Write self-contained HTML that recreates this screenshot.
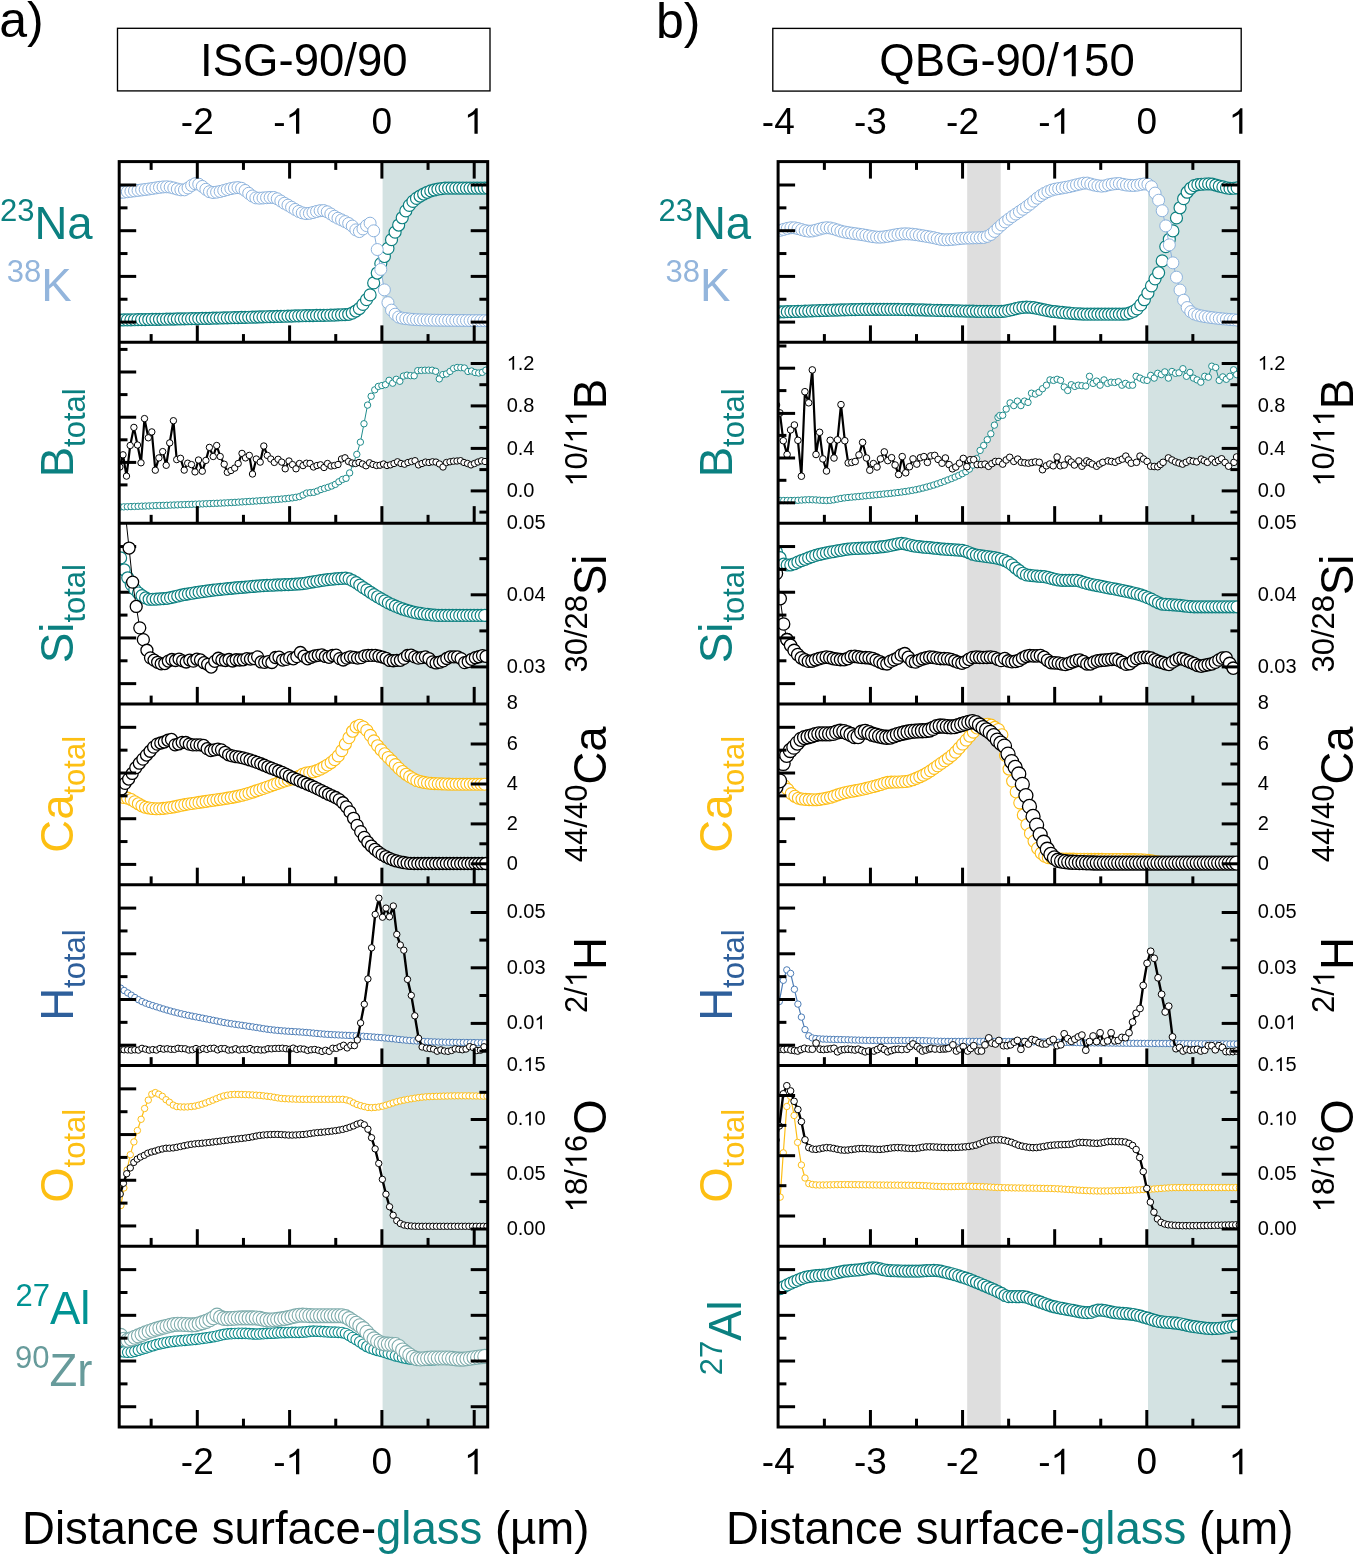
<!DOCTYPE html>
<html><head><meta charset="utf-8"><style>html,body{margin:0;padding:0;background:#fff;overflow:hidden}svg{display:block;will-change:transform}</style></head><body>
<svg width="1354" height="1554" viewBox="0 0 1354 1554" font-family='"Liberation Sans", sans-serif'>
<rect width="1354" height="1554" fill="#fff"/>
<rect x="382.6" y="161.6" width="105.1" height="1265.4" fill="#d3e2e2"/>
<rect x="1148" y="161.6" width="90.7" height="1265.4" fill="#d3e2e2"/>
<rect x="967.2" y="161.6" width="33.5" height="1265.4" fill="#dedede"/>
<defs>
<clipPath id="cA0"><rect x="119.2" y="161.6" width="368.5" height="180.77"/></clipPath>
<clipPath id="cA1"><rect x="119.2" y="342.37" width="368.5" height="180.77"/></clipPath>
<clipPath id="cA2"><rect x="119.2" y="523.14" width="368.5" height="180.77"/></clipPath>
<clipPath id="cA3"><rect x="119.2" y="703.91" width="368.5" height="180.77"/></clipPath>
<clipPath id="cA4"><rect x="119.2" y="884.69" width="368.5" height="180.77"/></clipPath>
<clipPath id="cA5"><rect x="119.2" y="1065.46" width="368.5" height="180.77"/></clipPath>
<clipPath id="cA6"><rect x="119.2" y="1246.23" width="368.5" height="180.77"/></clipPath>
<clipPath id="cB0"><rect x="778.1" y="161.6" width="460.6" height="180.77"/></clipPath>
<clipPath id="cB1"><rect x="778.1" y="342.37" width="460.6" height="180.77"/></clipPath>
<clipPath id="cB2"><rect x="778.1" y="523.14" width="460.6" height="180.77"/></clipPath>
<clipPath id="cB3"><rect x="778.1" y="703.91" width="460.6" height="180.77"/></clipPath>
<clipPath id="cB4"><rect x="778.1" y="884.69" width="460.6" height="180.77"/></clipPath>
<clipPath id="cB5"><rect x="778.1" y="1065.46" width="460.6" height="180.77"/></clipPath>
<clipPath id="cB6"><rect x="778.1" y="1246.23" width="460.6" height="180.77"/></clipPath>
</defs>
<g clip-path="url(#cA0)">
<g fill="#fff" stroke="#0d8080" stroke-width="1.2">
<circle cx="120.2" cy="320" r="6"/>
<circle cx="123.77" cy="319.95" r="6"/>
<circle cx="127.34" cy="319.88" r="6"/>
<circle cx="130.91" cy="319.82" r="6"/>
<circle cx="134.48" cy="319.75" r="6"/>
<circle cx="138.05" cy="319.69" r="6"/>
<circle cx="141.62" cy="319.62" r="6"/>
<circle cx="145.19" cy="319.56" r="6"/>
<circle cx="148.76" cy="319.49" r="6"/>
<circle cx="152.33" cy="319.43" r="6"/>
<circle cx="155.9" cy="319.36" r="6"/>
<circle cx="159.47" cy="319.3" r="6"/>
<circle cx="163.04" cy="319.23" r="6"/>
<circle cx="166.61" cy="319.17" r="6"/>
<circle cx="170.18" cy="319.1" r="6"/>
<circle cx="173.75" cy="319.04" r="6"/>
<circle cx="177.32" cy="318.97" r="6"/>
<circle cx="180.89" cy="318.9" r="6"/>
<circle cx="184.46" cy="318.83" r="6"/>
<circle cx="188.03" cy="318.75" r="6"/>
<circle cx="191.6" cy="318.68" r="6"/>
<circle cx="195.17" cy="318.61" r="6"/>
<circle cx="198.74" cy="318.53" r="6"/>
<circle cx="202.31" cy="318.45" r="6"/>
<circle cx="205.88" cy="318.37" r="6"/>
<circle cx="209.45" cy="318.28" r="6"/>
<circle cx="213.02" cy="318.2" r="6"/>
<circle cx="216.59" cy="318.11" r="6"/>
<circle cx="220.16" cy="318.02" r="6"/>
<circle cx="223.73" cy="317.93" r="6"/>
<circle cx="227.3" cy="317.84" r="6"/>
<circle cx="230.87" cy="317.75" r="6"/>
<circle cx="234.44" cy="317.65" r="6"/>
<circle cx="238.01" cy="317.56" r="6"/>
<circle cx="241.58" cy="317.46" r="6"/>
<circle cx="245.15" cy="317.36" r="6"/>
<circle cx="248.72" cy="317.26" r="6"/>
<circle cx="252.29" cy="317.16" r="6"/>
<circle cx="255.86" cy="317.06" r="6"/>
<circle cx="259.43" cy="316.96" r="6"/>
<circle cx="263" cy="316.86" r="6"/>
<circle cx="266.57" cy="316.76" r="6"/>
<circle cx="270.14" cy="316.66" r="6"/>
<circle cx="273.71" cy="316.55" r="6"/>
<circle cx="277.28" cy="316.45" r="6"/>
<circle cx="280.85" cy="316.35" r="6"/>
<circle cx="284.42" cy="316.24" r="6"/>
<circle cx="287.99" cy="316.14" r="6"/>
<circle cx="291.56" cy="316.04" r="6"/>
<circle cx="295.13" cy="315.94" r="6"/>
<circle cx="298.7" cy="315.84" r="6"/>
<circle cx="302.27" cy="315.74" r="6"/>
<circle cx="305.84" cy="315.66" r="6"/>
<circle cx="309.41" cy="315.59" r="6"/>
<circle cx="312.98" cy="315.53" r="6"/>
<circle cx="316.55" cy="315.47" r="6"/>
<circle cx="320.12" cy="315.41" r="6"/>
<circle cx="323.69" cy="315.34" r="6"/>
<circle cx="327.26" cy="315.26" r="6"/>
<circle cx="330.83" cy="315.17" r="6"/>
<circle cx="334.4" cy="315.06" r="6"/>
<circle cx="337.97" cy="314.92" r="6"/>
<circle cx="341.54" cy="314.76" r="6"/>
<circle cx="345.11" cy="314.57" r="6"/>
<circle cx="348.68" cy="314.28" r="6"/>
<circle cx="352.25" cy="313.09" r="6"/>
<circle cx="355.82" cy="311.03" r="6"/>
<circle cx="359.39" cy="308.5" r="6"/>
<circle cx="362.96" cy="304.41" r="6"/>
<circle cx="366.53" cy="299.65" r="6"/>
<circle cx="370.1" cy="294.9" r="6"/>
<circle cx="373.67" cy="282.88" r="6"/>
<circle cx="377.24" cy="273.04" r="6"/>
<circle cx="380.81" cy="263.55" r="6"/>
<circle cx="384.38" cy="256.5" r="6"/>
<circle cx="387.95" cy="248.41" r="6"/>
<circle cx="391.52" cy="239.68" r="6"/>
<circle cx="395.09" cy="232.15" r="6"/>
<circle cx="398.66" cy="225.04" r="6"/>
<circle cx="402.23" cy="217.76" r="6"/>
<circle cx="405.8" cy="210.88" r="6"/>
<circle cx="409.37" cy="205.36" r="6"/>
<circle cx="412.94" cy="201.42" r="6"/>
<circle cx="416.51" cy="198.38" r="6"/>
<circle cx="420.08" cy="196.04" r="6"/>
<circle cx="423.65" cy="194.02" r="6"/>
<circle cx="427.22" cy="192.28" r="6"/>
<circle cx="430.79" cy="190.89" r="6"/>
<circle cx="434.36" cy="189.96" r="6"/>
<circle cx="437.93" cy="189.2" r="6"/>
<circle cx="441.5" cy="188.57" r="6"/>
<circle cx="445.07" cy="188.18" r="6"/>
<circle cx="448.64" cy="188.1" r="6"/>
<circle cx="452.21" cy="188.1" r="6"/>
<circle cx="455.78" cy="188.1" r="6"/>
<circle cx="459.35" cy="188.1" r="6"/>
<circle cx="462.92" cy="188.1" r="6"/>
<circle cx="466.49" cy="188.1" r="6"/>
<circle cx="470.06" cy="188.1" r="6"/>
<circle cx="473.63" cy="188.1" r="6"/>
<circle cx="477.2" cy="188.1" r="6"/>
<circle cx="480.77" cy="188.1" r="6"/>
<circle cx="484.34" cy="188.1" r="6"/>
<circle cx="487.91" cy="188.1" r="6"/>
</g>
<polyline fill="none" stroke="#8db3dd" stroke-width="1" stroke-linejoin="round" points="120.2,192.5 123.77,192.21 127.34,191.76 130.91,191.3 134.48,190.85 138.05,190.39 141.62,189.94 145.19,189.49 148.76,189.03 152.33,188.49 155.9,187.91 159.47,187.37 163.04,186.98 166.61,186.8 170.18,187.12 173.75,188 177.32,189.04 180.89,189.82 184.46,189.83 188.03,188.01 191.6,185.44 195.17,183.71 198.74,184.18 202.31,186.41 205.88,189.29 209.45,191.68 213.02,192.49 216.59,192.17 220.16,191.47 223.73,190.55 227.3,189.54 230.87,188.62 234.44,187.92 238.01,187.61 241.58,188.31 245.15,190.46 248.72,193.28 252.29,196.01 255.86,197.85 259.43,198.18 263,197.98 266.57,197.7 270.14,197.46 273.71,197.49 277.28,198.8 280.85,201.01 284.42,203.28 287.99,205.15 291.56,207.26 295.13,209.43 298.7,211.38 302.27,212.85 305.84,213.57 309.41,213.36 312.98,212.52 316.55,211.49 320.12,210.69 323.69,210.6 327.26,211.84 330.83,213.97 334.4,216.31 337.97,218.22 341.54,219.89 345.11,221.59 348.68,223.49 352.25,226.07 355.82,229.87 359.39,231.56 362.96,228.95 366.53,225.59 370.1,223.2 373.67,230.81 377.24,249.54 380.81,269.43 384.38,289.89 387.95,302.65 391.52,310.15 395.09,314.23 398.66,317.02 402.23,318.11 405.8,318.63 409.37,319.04 412.94,319.37 416.51,319.62 420.08,319.8 423.65,319.93 427.22,320.02 430.79,320.09 434.36,320.16 437.93,320.22 441.5,320.27 445.07,320.31 448.64,320.35 452.21,320.39 455.78,320.42 459.35,320.45 462.92,320.48 466.49,320.51 470.06,320.54 473.63,320.57 477.2,320.59 480.77,320.63 484.34,320.66 487.91,320.7"/>
<g fill="#fff" stroke="#8db3dd" stroke-width="1">
<circle cx="120.2" cy="192.5" r="6"/>
<circle cx="123.77" cy="192.21" r="6"/>
<circle cx="127.34" cy="191.76" r="6"/>
<circle cx="130.91" cy="191.3" r="6"/>
<circle cx="134.48" cy="190.85" r="6"/>
<circle cx="138.05" cy="190.39" r="6"/>
<circle cx="141.62" cy="189.94" r="6"/>
<circle cx="145.19" cy="189.49" r="6"/>
<circle cx="148.76" cy="189.03" r="6"/>
<circle cx="152.33" cy="188.49" r="6"/>
<circle cx="155.9" cy="187.91" r="6"/>
<circle cx="159.47" cy="187.37" r="6"/>
<circle cx="163.04" cy="186.98" r="6"/>
<circle cx="166.61" cy="186.8" r="6"/>
<circle cx="170.18" cy="187.12" r="6"/>
<circle cx="173.75" cy="188" r="6"/>
<circle cx="177.32" cy="189.04" r="6"/>
<circle cx="180.89" cy="189.82" r="6"/>
<circle cx="184.46" cy="189.83" r="6"/>
<circle cx="188.03" cy="188.01" r="6"/>
<circle cx="191.6" cy="185.44" r="6"/>
<circle cx="195.17" cy="183.71" r="6"/>
<circle cx="198.74" cy="184.18" r="6"/>
<circle cx="202.31" cy="186.41" r="6"/>
<circle cx="205.88" cy="189.29" r="6"/>
<circle cx="209.45" cy="191.68" r="6"/>
<circle cx="213.02" cy="192.49" r="6"/>
<circle cx="216.59" cy="192.17" r="6"/>
<circle cx="220.16" cy="191.47" r="6"/>
<circle cx="223.73" cy="190.55" r="6"/>
<circle cx="227.3" cy="189.54" r="6"/>
<circle cx="230.87" cy="188.62" r="6"/>
<circle cx="234.44" cy="187.92" r="6"/>
<circle cx="238.01" cy="187.61" r="6"/>
<circle cx="241.58" cy="188.31" r="6"/>
<circle cx="245.15" cy="190.46" r="6"/>
<circle cx="248.72" cy="193.28" r="6"/>
<circle cx="252.29" cy="196.01" r="6"/>
<circle cx="255.86" cy="197.85" r="6"/>
<circle cx="259.43" cy="198.18" r="6"/>
<circle cx="263" cy="197.98" r="6"/>
<circle cx="266.57" cy="197.7" r="6"/>
<circle cx="270.14" cy="197.46" r="6"/>
<circle cx="273.71" cy="197.49" r="6"/>
<circle cx="277.28" cy="198.8" r="6"/>
<circle cx="280.85" cy="201.01" r="6"/>
<circle cx="284.42" cy="203.28" r="6"/>
<circle cx="287.99" cy="205.15" r="6"/>
<circle cx="291.56" cy="207.26" r="6"/>
<circle cx="295.13" cy="209.43" r="6"/>
<circle cx="298.7" cy="211.38" r="6"/>
<circle cx="302.27" cy="212.85" r="6"/>
<circle cx="305.84" cy="213.57" r="6"/>
<circle cx="309.41" cy="213.36" r="6"/>
<circle cx="312.98" cy="212.52" r="6"/>
<circle cx="316.55" cy="211.49" r="6"/>
<circle cx="320.12" cy="210.69" r="6"/>
<circle cx="323.69" cy="210.6" r="6"/>
<circle cx="327.26" cy="211.84" r="6"/>
<circle cx="330.83" cy="213.97" r="6"/>
<circle cx="334.4" cy="216.31" r="6"/>
<circle cx="337.97" cy="218.22" r="6"/>
<circle cx="341.54" cy="219.89" r="6"/>
<circle cx="345.11" cy="221.59" r="6"/>
<circle cx="348.68" cy="223.49" r="6"/>
<circle cx="352.25" cy="226.07" r="6"/>
<circle cx="355.82" cy="229.87" r="6"/>
<circle cx="359.39" cy="231.56" r="6"/>
<circle cx="362.96" cy="228.95" r="6"/>
<circle cx="366.53" cy="225.59" r="6"/>
<circle cx="370.1" cy="223.2" r="6"/>
<circle cx="373.67" cy="230.81" r="6"/>
<circle cx="377.24" cy="249.54" r="6"/>
<circle cx="380.81" cy="269.43" r="6"/>
<circle cx="384.38" cy="289.89" r="6"/>
<circle cx="387.95" cy="302.65" r="6"/>
<circle cx="391.52" cy="310.15" r="6"/>
<circle cx="395.09" cy="314.23" r="6"/>
<circle cx="398.66" cy="317.02" r="6"/>
<circle cx="402.23" cy="318.11" r="6"/>
<circle cx="405.8" cy="318.63" r="6"/>
<circle cx="409.37" cy="319.04" r="6"/>
<circle cx="412.94" cy="319.37" r="6"/>
<circle cx="416.51" cy="319.62" r="6"/>
<circle cx="420.08" cy="319.8" r="6"/>
<circle cx="423.65" cy="319.93" r="6"/>
<circle cx="427.22" cy="320.02" r="6"/>
<circle cx="430.79" cy="320.09" r="6"/>
<circle cx="434.36" cy="320.16" r="6"/>
<circle cx="437.93" cy="320.22" r="6"/>
<circle cx="441.5" cy="320.27" r="6"/>
<circle cx="445.07" cy="320.31" r="6"/>
<circle cx="448.64" cy="320.35" r="6"/>
<circle cx="452.21" cy="320.39" r="6"/>
<circle cx="455.78" cy="320.42" r="6"/>
<circle cx="459.35" cy="320.45" r="6"/>
<circle cx="462.92" cy="320.48" r="6"/>
<circle cx="466.49" cy="320.51" r="6"/>
<circle cx="470.06" cy="320.54" r="6"/>
<circle cx="473.63" cy="320.57" r="6"/>
<circle cx="477.2" cy="320.59" r="6"/>
<circle cx="480.77" cy="320.63" r="6"/>
<circle cx="484.34" cy="320.66" r="6"/>
<circle cx="487.91" cy="320.7" r="6"/>
</g>
</g>
<g clip-path="url(#cA1)">
<polyline fill="none" stroke="#1f8c8c" stroke-width="1" stroke-linejoin="round" points="120.2,506.99 123.78,506.86 127.37,506.72 130.95,506.59 134.54,506.45 138.12,506.32 141.71,506.18 145.3,506.05 148.88,505.92 152.47,505.78 156.05,505.65 159.64,505.51 163.22,505.38 166.81,505.25 170.39,505.12 173.98,504.99 177.56,504.86 181.15,504.73 184.73,504.6 188.32,504.46 191.9,504.32 195.49,504.18 199.07,504.04 202.66,503.89 206.24,503.74 209.83,503.59 213.41,503.44 217,503.28 220.58,503.12 224.17,502.94 227.75,502.76 231.34,502.57 234.92,502.36 238.51,502.14 242.09,501.91 245.68,501.68 249.26,501.45 252.85,501.22 256.43,500.99 260.02,500.75 263.6,500.5 267.19,500.23 270.77,499.93 274.36,499.64 277.94,499.36 281.53,499.06 285.11,498.73 288.7,498.34 292.28,497.87 295.87,497.31 299.45,496.62 303.03,495.01 306.62,493.08 310.2,492.66 313.79,492.33 317.37,491.12 320.96,489.51 324.54,488.4 328.13,487.29 331.71,486 335.3,484.39 338.88,481.76 342.47,479.45 346.05,478.33 349.64,472.92 353.22,463.7 356.81,454.37 360.39,442.14 363.98,423.76 367.56,405.1 371.15,396.26 374.73,389.86 378.32,386.42 381.9,385.55 385.49,384.64 389.07,380.32 392.66,383.19 396.24,379.3 399.83,381.28 403.41,376.08 407,375.15 410.58,375.66 414.17,375.8 417.75,370.65 421.34,370.43 424.92,370.23 428.51,370.2 432.09,370.2 435.68,371.3 439.26,378.9 442.85,374.6 446.43,373.89 450.02,371.41 453.6,368.45 457.19,367.5 460.77,367.66 464.36,368.02 467.94,371.45 471.53,371.01 475.11,372.52 478.7,373.03 482.28,372.33 485.87,370.22"/>
<g fill="#fff" stroke="#1f8c8c" stroke-width="1">
<circle cx="120.2" cy="506.99" r="3.2"/>
<circle cx="123.78" cy="506.86" r="3.2"/>
<circle cx="127.37" cy="506.72" r="3.2"/>
<circle cx="130.95" cy="506.59" r="3.2"/>
<circle cx="134.54" cy="506.45" r="3.2"/>
<circle cx="138.12" cy="506.32" r="3.2"/>
<circle cx="141.71" cy="506.18" r="3.2"/>
<circle cx="145.3" cy="506.05" r="3.2"/>
<circle cx="148.88" cy="505.92" r="3.2"/>
<circle cx="152.47" cy="505.78" r="3.2"/>
<circle cx="156.05" cy="505.65" r="3.2"/>
<circle cx="159.64" cy="505.51" r="3.2"/>
<circle cx="163.22" cy="505.38" r="3.2"/>
<circle cx="166.81" cy="505.25" r="3.2"/>
<circle cx="170.39" cy="505.12" r="3.2"/>
<circle cx="173.98" cy="504.99" r="3.2"/>
<circle cx="177.56" cy="504.86" r="3.2"/>
<circle cx="181.15" cy="504.73" r="3.2"/>
<circle cx="184.73" cy="504.6" r="3.2"/>
<circle cx="188.32" cy="504.46" r="3.2"/>
<circle cx="191.9" cy="504.32" r="3.2"/>
<circle cx="195.49" cy="504.18" r="3.2"/>
<circle cx="199.07" cy="504.04" r="3.2"/>
<circle cx="202.66" cy="503.89" r="3.2"/>
<circle cx="206.24" cy="503.74" r="3.2"/>
<circle cx="209.83" cy="503.59" r="3.2"/>
<circle cx="213.41" cy="503.44" r="3.2"/>
<circle cx="217" cy="503.28" r="3.2"/>
<circle cx="220.58" cy="503.12" r="3.2"/>
<circle cx="224.17" cy="502.94" r="3.2"/>
<circle cx="227.75" cy="502.76" r="3.2"/>
<circle cx="231.34" cy="502.57" r="3.2"/>
<circle cx="234.92" cy="502.36" r="3.2"/>
<circle cx="238.51" cy="502.14" r="3.2"/>
<circle cx="242.09" cy="501.91" r="3.2"/>
<circle cx="245.68" cy="501.68" r="3.2"/>
<circle cx="249.26" cy="501.45" r="3.2"/>
<circle cx="252.85" cy="501.22" r="3.2"/>
<circle cx="256.43" cy="500.99" r="3.2"/>
<circle cx="260.02" cy="500.75" r="3.2"/>
<circle cx="263.6" cy="500.5" r="3.2"/>
<circle cx="267.19" cy="500.23" r="3.2"/>
<circle cx="270.77" cy="499.93" r="3.2"/>
<circle cx="274.36" cy="499.64" r="3.2"/>
<circle cx="277.94" cy="499.36" r="3.2"/>
<circle cx="281.53" cy="499.06" r="3.2"/>
<circle cx="285.11" cy="498.73" r="3.2"/>
<circle cx="288.7" cy="498.34" r="3.2"/>
<circle cx="292.28" cy="497.87" r="3.2"/>
<circle cx="295.87" cy="497.31" r="3.2"/>
<circle cx="299.45" cy="496.62" r="3.2"/>
<circle cx="303.03" cy="495.01" r="3.2"/>
<circle cx="306.62" cy="493.08" r="3.2"/>
<circle cx="310.2" cy="492.66" r="3.2"/>
<circle cx="313.79" cy="492.33" r="3.2"/>
<circle cx="317.37" cy="491.12" r="3.2"/>
<circle cx="320.96" cy="489.51" r="3.2"/>
<circle cx="324.54" cy="488.4" r="3.2"/>
<circle cx="328.13" cy="487.29" r="3.2"/>
<circle cx="331.71" cy="486" r="3.2"/>
<circle cx="335.3" cy="484.39" r="3.2"/>
<circle cx="338.88" cy="481.76" r="3.2"/>
<circle cx="342.47" cy="479.45" r="3.2"/>
<circle cx="346.05" cy="478.33" r="3.2"/>
<circle cx="349.64" cy="472.92" r="3.2"/>
<circle cx="353.22" cy="463.7" r="3.2"/>
<circle cx="356.81" cy="454.37" r="3.2"/>
<circle cx="360.39" cy="442.14" r="3.2"/>
<circle cx="363.98" cy="423.76" r="3.2"/>
<circle cx="367.56" cy="405.1" r="3.2"/>
<circle cx="371.15" cy="396.26" r="3.2"/>
<circle cx="374.73" cy="389.86" r="3.2"/>
<circle cx="378.32" cy="386.42" r="3.2"/>
<circle cx="381.9" cy="385.55" r="3.2"/>
<circle cx="385.49" cy="384.64" r="3.2"/>
<circle cx="389.07" cy="380.32" r="3.2"/>
<circle cx="392.66" cy="383.19" r="3.2"/>
<circle cx="396.24" cy="379.3" r="3.2"/>
<circle cx="399.83" cy="381.28" r="3.2"/>
<circle cx="403.41" cy="376.08" r="3.2"/>
<circle cx="407" cy="375.15" r="3.2"/>
<circle cx="410.58" cy="375.66" r="3.2"/>
<circle cx="414.17" cy="375.8" r="3.2"/>
<circle cx="417.75" cy="370.65" r="3.2"/>
<circle cx="421.34" cy="370.43" r="3.2"/>
<circle cx="424.92" cy="370.23" r="3.2"/>
<circle cx="428.51" cy="370.2" r="3.2"/>
<circle cx="432.09" cy="370.2" r="3.2"/>
<circle cx="435.68" cy="371.3" r="3.2"/>
<circle cx="439.26" cy="378.9" r="3.2"/>
<circle cx="442.85" cy="374.6" r="3.2"/>
<circle cx="446.43" cy="373.89" r="3.2"/>
<circle cx="450.02" cy="371.41" r="3.2"/>
<circle cx="453.6" cy="368.45" r="3.2"/>
<circle cx="457.19" cy="367.5" r="3.2"/>
<circle cx="460.77" cy="367.66" r="3.2"/>
<circle cx="464.36" cy="368.02" r="3.2"/>
<circle cx="467.94" cy="371.45" r="3.2"/>
<circle cx="471.53" cy="371.01" r="3.2"/>
<circle cx="475.11" cy="372.52" r="3.2"/>
<circle cx="478.7" cy="373.03" r="3.2"/>
<circle cx="482.28" cy="372.33" r="3.2"/>
<circle cx="485.87" cy="370.22" r="3.2"/>
</g>
<polyline fill="none" stroke="#000" stroke-width="2.2" stroke-linejoin="round" points="119.9,467 123,454.8 126.5,476.1 130.2,445.5 133.9,427.4 137.5,445 141,462.8 144.5,418.6 148.3,437.8 151.8,431.9 155.3,470.2 158.9,457.9 162.7,451.6 166.2,465.3 169.7,442.9 173.4,420.7 176.7,459.6 180.5,458.3 184.2,470.1 187.7,463.2 191.5,464.6 195,471.9 198.5,460 202.3,471.2 205.9,460.4 209.4,447.4 213.2,456.5 216.7,445.5 220.2,456.5 224.2,464.2 227.3,472.3 231,470.5 234.7,468.1 238.2,463.5 242,453.4 245.5,457.9 249.3,455.4 252.5,474 256.3,459 260.2,462.1 263.8,446 267.3,455.4 270.8,459 274.3,462.4 278.1,459.3 281.7,462.1 285.2,468.8 289,461 292.5,464.6 296,468.8 299.5,463.5 303,465.6 306.5,463.2 310,463.4 313.5,467 317,465.5 320.5,464.8 324,467.5 327.5,463.5 331,466 334.5,465.5 338,464.5 341.5,459 345,457.8 348.5,461.5 352,463 355.5,463.5 359,462.5 362.5,464 366,465.8 369.5,462.8 373,464.5 376.5,465.5 380,465.2 383.5,464 387,465.5 390.5,464.8 394,463.5 397.5,461.8 401,463.5 404.5,464.2 408,462.5 411.5,461.5 415,460.7 418.5,464.9 422,463.5 425.5,462.1 429,462.5 432.5,461.8 436,462.1 439.5,464 443,467 446.5,462.5 450,461.8 453.5,461.2 457,461 460.5,460.7 464,462.5 467.5,463.5 471,464.9 474.5,463.5 478,462 481.5,460.8 485,461.5"/>
<g fill="#fff" stroke="#000" stroke-width="1">
<circle cx="119.9" cy="467" r="3.2"/>
<circle cx="123" cy="454.8" r="3.2"/>
<circle cx="126.5" cy="476.1" r="3.2"/>
<circle cx="130.2" cy="445.5" r="3.2"/>
<circle cx="133.9" cy="427.4" r="3.2"/>
<circle cx="137.5" cy="445" r="3.2"/>
<circle cx="141" cy="462.8" r="3.2"/>
<circle cx="144.5" cy="418.6" r="3.2"/>
<circle cx="148.3" cy="437.8" r="3.2"/>
<circle cx="151.8" cy="431.9" r="3.2"/>
<circle cx="155.3" cy="470.2" r="3.2"/>
<circle cx="158.9" cy="457.9" r="3.2"/>
<circle cx="162.7" cy="451.6" r="3.2"/>
<circle cx="166.2" cy="465.3" r="3.2"/>
<circle cx="169.7" cy="442.9" r="3.2"/>
<circle cx="173.4" cy="420.7" r="3.2"/>
<circle cx="176.7" cy="459.6" r="3.2"/>
<circle cx="180.5" cy="458.3" r="3.2"/>
<circle cx="184.2" cy="470.1" r="3.2"/>
<circle cx="187.7" cy="463.2" r="3.2"/>
<circle cx="191.5" cy="464.6" r="3.2"/>
<circle cx="195" cy="471.9" r="3.2"/>
<circle cx="198.5" cy="460" r="3.2"/>
<circle cx="202.3" cy="471.2" r="3.2"/>
<circle cx="205.9" cy="460.4" r="3.2"/>
<circle cx="209.4" cy="447.4" r="3.2"/>
<circle cx="213.2" cy="456.5" r="3.2"/>
<circle cx="216.7" cy="445.5" r="3.2"/>
<circle cx="220.2" cy="456.5" r="3.2"/>
<circle cx="224.2" cy="464.2" r="3.2"/>
<circle cx="227.3" cy="472.3" r="3.2"/>
<circle cx="231" cy="470.5" r="3.2"/>
<circle cx="234.7" cy="468.1" r="3.2"/>
<circle cx="238.2" cy="463.5" r="3.2"/>
<circle cx="242" cy="453.4" r="3.2"/>
<circle cx="245.5" cy="457.9" r="3.2"/>
<circle cx="249.3" cy="455.4" r="3.2"/>
<circle cx="252.5" cy="474" r="3.2"/>
<circle cx="256.3" cy="459" r="3.2"/>
<circle cx="260.2" cy="462.1" r="3.2"/>
<circle cx="263.8" cy="446" r="3.2"/>
<circle cx="267.3" cy="455.4" r="3.2"/>
<circle cx="270.8" cy="459" r="3.2"/>
<circle cx="274.3" cy="462.4" r="3.2"/>
<circle cx="278.1" cy="459.3" r="3.2"/>
<circle cx="281.7" cy="462.1" r="3.2"/>
<circle cx="285.2" cy="468.8" r="3.2"/>
<circle cx="289" cy="461" r="3.2"/>
<circle cx="292.5" cy="464.6" r="3.2"/>
<circle cx="296" cy="468.8" r="3.2"/>
<circle cx="299.5" cy="463.5" r="3.2"/>
<circle cx="303" cy="465.6" r="3.2"/>
<circle cx="306.5" cy="463.2" r="3.2"/>
<circle cx="310" cy="463.4" r="3.2"/>
<circle cx="313.5" cy="467" r="3.2"/>
<circle cx="317" cy="465.5" r="3.2"/>
<circle cx="320.5" cy="464.8" r="3.2"/>
<circle cx="324" cy="467.5" r="3.2"/>
<circle cx="327.5" cy="463.5" r="3.2"/>
<circle cx="331" cy="466" r="3.2"/>
<circle cx="334.5" cy="465.5" r="3.2"/>
<circle cx="338" cy="464.5" r="3.2"/>
<circle cx="341.5" cy="459" r="3.2"/>
<circle cx="345" cy="457.8" r="3.2"/>
<circle cx="348.5" cy="461.5" r="3.2"/>
<circle cx="352" cy="463" r="3.2"/>
<circle cx="355.5" cy="463.5" r="3.2"/>
<circle cx="359" cy="462.5" r="3.2"/>
<circle cx="362.5" cy="464" r="3.2"/>
<circle cx="366" cy="465.8" r="3.2"/>
<circle cx="369.5" cy="462.8" r="3.2"/>
<circle cx="373" cy="464.5" r="3.2"/>
<circle cx="376.5" cy="465.5" r="3.2"/>
<circle cx="380" cy="465.2" r="3.2"/>
<circle cx="383.5" cy="464" r="3.2"/>
<circle cx="387" cy="465.5" r="3.2"/>
<circle cx="390.5" cy="464.8" r="3.2"/>
<circle cx="394" cy="463.5" r="3.2"/>
<circle cx="397.5" cy="461.8" r="3.2"/>
<circle cx="401" cy="463.5" r="3.2"/>
<circle cx="404.5" cy="464.2" r="3.2"/>
<circle cx="408" cy="462.5" r="3.2"/>
<circle cx="411.5" cy="461.5" r="3.2"/>
<circle cx="415" cy="460.7" r="3.2"/>
<circle cx="418.5" cy="464.9" r="3.2"/>
<circle cx="422" cy="463.5" r="3.2"/>
<circle cx="425.5" cy="462.1" r="3.2"/>
<circle cx="429" cy="462.5" r="3.2"/>
<circle cx="432.5" cy="461.8" r="3.2"/>
<circle cx="436" cy="462.1" r="3.2"/>
<circle cx="439.5" cy="464" r="3.2"/>
<circle cx="443" cy="467" r="3.2"/>
<circle cx="446.5" cy="462.5" r="3.2"/>
<circle cx="450" cy="461.8" r="3.2"/>
<circle cx="453.5" cy="461.2" r="3.2"/>
<circle cx="457" cy="461" r="3.2"/>
<circle cx="460.5" cy="460.7" r="3.2"/>
<circle cx="464" cy="462.5" r="3.2"/>
<circle cx="467.5" cy="463.5" r="3.2"/>
<circle cx="471" cy="464.9" r="3.2"/>
<circle cx="474.5" cy="463.5" r="3.2"/>
<circle cx="478" cy="462" r="3.2"/>
<circle cx="481.5" cy="460.8" r="3.2"/>
<circle cx="485" cy="461.5" r="3.2"/>
</g>
</g>
<g clip-path="url(#cA3)">
<g fill="#fff" stroke="#fdbe18" stroke-width="1.1">
<circle cx="120.5" cy="794" r="6"/>
<circle cx="124.07" cy="797.54" r="6"/>
<circle cx="127.64" cy="798.14" r="6"/>
<circle cx="131.21" cy="799.52" r="6"/>
<circle cx="134.78" cy="801.7" r="6"/>
<circle cx="138.35" cy="803.75" r="6"/>
<circle cx="141.92" cy="805.85" r="6"/>
<circle cx="145.49" cy="807.31" r="6"/>
<circle cx="149.06" cy="808" r="6"/>
<circle cx="152.63" cy="808.53" r="6"/>
<circle cx="156.2" cy="808.79" r="6"/>
<circle cx="159.77" cy="808.72" r="6"/>
<circle cx="163.34" cy="808.42" r="6"/>
<circle cx="166.91" cy="807.98" r="6"/>
<circle cx="170.48" cy="807.48" r="6"/>
<circle cx="174.05" cy="806.91" r="6"/>
<circle cx="177.62" cy="806.14" r="6"/>
<circle cx="181.19" cy="805.32" r="6"/>
<circle cx="184.76" cy="804.58" r="6"/>
<circle cx="188.33" cy="803.99" r="6"/>
<circle cx="191.9" cy="803.45" r="6"/>
<circle cx="195.47" cy="802.94" r="6"/>
<circle cx="199.04" cy="802.42" r="6"/>
<circle cx="202.61" cy="801.89" r="6"/>
<circle cx="206.18" cy="801.35" r="6"/>
<circle cx="209.75" cy="800.82" r="6"/>
<circle cx="213.32" cy="800.28" r="6"/>
<circle cx="216.89" cy="799.76" r="6"/>
<circle cx="220.46" cy="799.26" r="6"/>
<circle cx="224.03" cy="798.73" r="6"/>
<circle cx="227.6" cy="798.15" r="6"/>
<circle cx="231.17" cy="797.52" r="6"/>
<circle cx="234.74" cy="796.83" r="6"/>
<circle cx="238.31" cy="796.09" r="6"/>
<circle cx="241.88" cy="795.26" r="6"/>
<circle cx="245.45" cy="794.3" r="6"/>
<circle cx="249.02" cy="793.22" r="6"/>
<circle cx="252.59" cy="792.08" r="6"/>
<circle cx="256.16" cy="790.92" r="6"/>
<circle cx="259.73" cy="789.71" r="6"/>
<circle cx="263.3" cy="788.46" r="6"/>
<circle cx="266.87" cy="787.19" r="6"/>
<circle cx="270.44" cy="785.94" r="6"/>
<circle cx="274.01" cy="784.66" r="6"/>
<circle cx="277.58" cy="783.39" r="6"/>
<circle cx="281.15" cy="782.15" r="6"/>
<circle cx="284.72" cy="780.99" r="6"/>
<circle cx="288.29" cy="779.99" r="6"/>
<circle cx="291.86" cy="779.02" r="6"/>
<circle cx="295.43" cy="777.92" r="6"/>
<circle cx="299" cy="776.42" r="6"/>
<circle cx="302.57" cy="774.28" r="6"/>
<circle cx="306.14" cy="773.06" r="6"/>
<circle cx="309.71" cy="772.45" r="6"/>
<circle cx="313.28" cy="771.79" r="6"/>
<circle cx="316.85" cy="770.65" r="6"/>
<circle cx="320.42" cy="769.07" r="6"/>
<circle cx="323.99" cy="767.13" r="6"/>
<circle cx="327.56" cy="764.95" r="6"/>
<circle cx="331.13" cy="762.51" r="6"/>
<circle cx="334.7" cy="759.57" r="6"/>
<circle cx="338.27" cy="755.92" r="6"/>
<circle cx="341.84" cy="750.66" r="6"/>
<circle cx="345.41" cy="744.01" r="6"/>
<circle cx="348.98" cy="737.72" r="6"/>
<circle cx="352.55" cy="731.25" r="6"/>
<circle cx="356.12" cy="726.91" r="6"/>
<circle cx="359.69" cy="725.3" r="6"/>
<circle cx="363.26" cy="727.05" r="6"/>
<circle cx="366.83" cy="730.44" r="6"/>
<circle cx="370.4" cy="735.38" r="6"/>
<circle cx="373.97" cy="740.85" r="6"/>
<circle cx="377.54" cy="745.73" r="6"/>
<circle cx="381.11" cy="749.92" r="6"/>
<circle cx="384.68" cy="753.81" r="6"/>
<circle cx="388.25" cy="757.43" r="6"/>
<circle cx="391.82" cy="760.92" r="6"/>
<circle cx="395.39" cy="764.61" r="6"/>
<circle cx="398.96" cy="768.32" r="6"/>
<circle cx="402.53" cy="771.48" r="6"/>
<circle cx="406.1" cy="774.25" r="6"/>
<circle cx="409.67" cy="776.6" r="6"/>
<circle cx="413.24" cy="778.74" r="6"/>
<circle cx="416.81" cy="780.56" r="6"/>
<circle cx="420.38" cy="781.65" r="6"/>
<circle cx="423.95" cy="782.38" r="6"/>
<circle cx="427.52" cy="782.94" r="6"/>
<circle cx="431.09" cy="783.34" r="6"/>
<circle cx="434.66" cy="783.58" r="6"/>
<circle cx="438.23" cy="783.76" r="6"/>
<circle cx="441.8" cy="783.92" r="6"/>
<circle cx="445.37" cy="784.05" r="6"/>
<circle cx="448.94" cy="784.14" r="6"/>
<circle cx="452.51" cy="784.19" r="6"/>
<circle cx="456.08" cy="784.2" r="6"/>
<circle cx="459.65" cy="784.2" r="6"/>
<circle cx="463.22" cy="784.2" r="6"/>
<circle cx="466.79" cy="784.2" r="6"/>
<circle cx="470.36" cy="784.2" r="6"/>
<circle cx="473.93" cy="784.2" r="6"/>
<circle cx="477.5" cy="784.2" r="6"/>
<circle cx="481.07" cy="784.2" r="6"/>
<circle cx="484.64" cy="784.2" r="6"/>
</g>
<g fill="#fff" stroke="#000" stroke-width="1.3">
<circle cx="121.5" cy="789" r="6"/>
<circle cx="125.07" cy="783.35" r="6"/>
<circle cx="128.64" cy="779.09" r="6"/>
<circle cx="132.21" cy="773.47" r="6"/>
<circle cx="135.78" cy="767.71" r="6"/>
<circle cx="139.35" cy="763.19" r="6"/>
<circle cx="142.92" cy="759.11" r="6"/>
<circle cx="146.49" cy="755.08" r="6"/>
<circle cx="150.06" cy="751.24" r="6"/>
<circle cx="153.63" cy="747.15" r="6"/>
<circle cx="157.2" cy="744.15" r="6"/>
<circle cx="160.77" cy="743" r="6"/>
<circle cx="164.34" cy="742.01" r="6"/>
<circle cx="167.91" cy="740.24" r="6"/>
<circle cx="171.48" cy="739.43" r="6"/>
<circle cx="175.05" cy="744.84" r="6"/>
<circle cx="178.62" cy="743.95" r="6"/>
<circle cx="182.19" cy="742.36" r="6"/>
<circle cx="185.76" cy="742.49" r="6"/>
<circle cx="189.33" cy="744.14" r="6"/>
<circle cx="192.9" cy="744.9" r="6"/>
<circle cx="196.47" cy="744.9" r="6"/>
<circle cx="200.04" cy="744.9" r="6"/>
<circle cx="203.61" cy="745.44" r="6"/>
<circle cx="207.18" cy="748.66" r="6"/>
<circle cx="210.75" cy="750.49" r="6"/>
<circle cx="214.32" cy="749.87" r="6"/>
<circle cx="217.89" cy="749.15" r="6"/>
<circle cx="221.46" cy="749.85" r="6"/>
<circle cx="225.03" cy="752.3" r="6"/>
<circle cx="228.6" cy="754.78" r="6"/>
<circle cx="232.17" cy="755.9" r="6"/>
<circle cx="235.74" cy="756.53" r="6"/>
<circle cx="239.31" cy="757.1" r="6"/>
<circle cx="242.88" cy="757.88" r="6"/>
<circle cx="246.45" cy="758.85" r="6"/>
<circle cx="250.02" cy="759.94" r="6"/>
<circle cx="253.59" cy="761.12" r="6"/>
<circle cx="257.16" cy="762.37" r="6"/>
<circle cx="260.73" cy="763.77" r="6"/>
<circle cx="264.3" cy="765.27" r="6"/>
<circle cx="267.87" cy="766.78" r="6"/>
<circle cx="271.44" cy="768.21" r="6"/>
<circle cx="275.01" cy="769.59" r="6"/>
<circle cx="278.58" cy="770.98" r="6"/>
<circle cx="282.15" cy="772.45" r="6"/>
<circle cx="285.72" cy="774.1" r="6"/>
<circle cx="289.29" cy="775.93" r="6"/>
<circle cx="292.86" cy="777.77" r="6"/>
<circle cx="296.43" cy="779.42" r="6"/>
<circle cx="300" cy="780.94" r="6"/>
<circle cx="303.57" cy="782.44" r="6"/>
<circle cx="307.14" cy="783.98" r="6"/>
<circle cx="310.71" cy="785.52" r="6"/>
<circle cx="314.28" cy="787.13" r="6"/>
<circle cx="317.85" cy="788.84" r="6"/>
<circle cx="321.42" cy="790.63" r="6"/>
<circle cx="324.99" cy="792.43" r="6"/>
<circle cx="328.56" cy="794.23" r="6"/>
<circle cx="332.13" cy="795.84" r="6"/>
<circle cx="335.7" cy="797.49" r="6"/>
<circle cx="339.27" cy="799.58" r="6"/>
<circle cx="342.84" cy="802.73" r="6"/>
<circle cx="346.41" cy="806.83" r="6"/>
<circle cx="349.98" cy="811.91" r="6"/>
<circle cx="353.55" cy="818.28" r="6"/>
<circle cx="357.12" cy="825.39" r="6"/>
<circle cx="360.69" cy="831.65" r="6"/>
<circle cx="364.26" cy="837.34" r="6"/>
<circle cx="367.83" cy="842.21" r="6"/>
<circle cx="371.4" cy="846.06" r="6"/>
<circle cx="374.97" cy="849.28" r="6"/>
<circle cx="378.54" cy="852.13" r="6"/>
<circle cx="382.11" cy="854.6" r="6"/>
<circle cx="385.68" cy="856.56" r="6"/>
<circle cx="389.25" cy="858.28" r="6"/>
<circle cx="392.82" cy="859.78" r="6"/>
<circle cx="396.39" cy="860.95" r="6"/>
<circle cx="399.96" cy="861.78" r="6"/>
<circle cx="403.53" cy="862.52" r="6"/>
<circle cx="407.1" cy="863.12" r="6"/>
<circle cx="410.67" cy="863.46" r="6"/>
<circle cx="414.24" cy="863.5" r="6"/>
<circle cx="417.81" cy="863.5" r="6"/>
<circle cx="421.38" cy="863.5" r="6"/>
<circle cx="424.95" cy="863.5" r="6"/>
<circle cx="428.52" cy="863.5" r="6"/>
<circle cx="432.09" cy="863.5" r="6"/>
<circle cx="435.66" cy="863.5" r="6"/>
<circle cx="439.23" cy="863.5" r="6"/>
<circle cx="442.8" cy="863.5" r="6"/>
<circle cx="446.37" cy="863.5" r="6"/>
<circle cx="449.94" cy="863.5" r="6"/>
<circle cx="453.51" cy="863.5" r="6"/>
<circle cx="457.08" cy="863.5" r="6"/>
<circle cx="460.65" cy="863.5" r="6"/>
<circle cx="464.22" cy="863.5" r="6"/>
<circle cx="467.79" cy="863.5" r="6"/>
<circle cx="471.36" cy="863.5" r="6"/>
<circle cx="474.93" cy="863.5" r="6"/>
<circle cx="478.5" cy="863.5" r="6"/>
<circle cx="482.07" cy="863.5" r="6"/>
<circle cx="485.64" cy="863.5" r="6"/>
</g>
</g>
<g clip-path="url(#cA4)">
<g fill="#fff" stroke="#4d7db6" stroke-width="1">
<circle cx="120.6" cy="988.1" r="3.2"/>
<circle cx="124.17" cy="990.51" r="3.2"/>
<circle cx="127.74" cy="992.89" r="3.2"/>
<circle cx="131.31" cy="995.18" r="3.2"/>
<circle cx="134.88" cy="997.5" r="3.2"/>
<circle cx="138.45" cy="999.69" r="3.2"/>
<circle cx="142.02" cy="1001.6" r="3.2"/>
<circle cx="145.59" cy="1003.13" r="3.2"/>
<circle cx="149.16" cy="1004.44" r="3.2"/>
<circle cx="152.73" cy="1005.61" r="3.2"/>
<circle cx="156.3" cy="1006.74" r="3.2"/>
<circle cx="159.87" cy="1007.88" r="3.2"/>
<circle cx="163.44" cy="1008.99" r="3.2"/>
<circle cx="167.01" cy="1010.05" r="3.2"/>
<circle cx="170.58" cy="1011.06" r="3.2"/>
<circle cx="174.15" cy="1012.01" r="3.2"/>
<circle cx="177.72" cy="1012.93" r="3.2"/>
<circle cx="181.29" cy="1013.8" r="3.2"/>
<circle cx="184.86" cy="1014.62" r="3.2"/>
<circle cx="188.43" cy="1015.39" r="3.2"/>
<circle cx="192" cy="1016.1" r="3.2"/>
<circle cx="195.57" cy="1016.79" r="3.2"/>
<circle cx="199.14" cy="1017.49" r="3.2"/>
<circle cx="202.71" cy="1018.2" r="3.2"/>
<circle cx="206.28" cy="1018.92" r="3.2"/>
<circle cx="209.85" cy="1019.63" r="3.2"/>
<circle cx="213.42" cy="1020.34" r="3.2"/>
<circle cx="216.99" cy="1021.07" r="3.2"/>
<circle cx="220.56" cy="1021.81" r="3.2"/>
<circle cx="224.13" cy="1022.52" r="3.2"/>
<circle cx="227.7" cy="1023.17" r="3.2"/>
<circle cx="231.27" cy="1023.74" r="3.2"/>
<circle cx="234.84" cy="1024.26" r="3.2"/>
<circle cx="238.41" cy="1024.78" r="3.2"/>
<circle cx="241.98" cy="1025.3" r="3.2"/>
<circle cx="245.55" cy="1025.83" r="3.2"/>
<circle cx="249.12" cy="1026.37" r="3.2"/>
<circle cx="252.69" cy="1026.9" r="3.2"/>
<circle cx="256.26" cy="1027.45" r="3.2"/>
<circle cx="259.83" cy="1028.03" r="3.2"/>
<circle cx="263.4" cy="1028.63" r="3.2"/>
<circle cx="266.97" cy="1029.18" r="3.2"/>
<circle cx="270.54" cy="1029.64" r="3.2"/>
<circle cx="274.11" cy="1030.04" r="3.2"/>
<circle cx="277.68" cy="1030.4" r="3.2"/>
<circle cx="281.25" cy="1030.72" r="3.2"/>
<circle cx="284.82" cy="1031.01" r="3.2"/>
<circle cx="288.39" cy="1031.27" r="3.2"/>
<circle cx="291.96" cy="1031.49" r="3.2"/>
<circle cx="295.53" cy="1031.71" r="3.2"/>
<circle cx="299.1" cy="1031.93" r="3.2"/>
<circle cx="302.67" cy="1032.17" r="3.2"/>
<circle cx="306.24" cy="1032.45" r="3.2"/>
<circle cx="309.81" cy="1032.76" r="3.2"/>
<circle cx="313.38" cy="1033.1" r="3.2"/>
<circle cx="316.95" cy="1033.45" r="3.2"/>
<circle cx="320.52" cy="1033.79" r="3.2"/>
<circle cx="324.09" cy="1034.1" r="3.2"/>
<circle cx="327.66" cy="1034.37" r="3.2"/>
<circle cx="331.23" cy="1034.59" r="3.2"/>
<circle cx="334.8" cy="1034.78" r="3.2"/>
<circle cx="338.37" cy="1034.95" r="3.2"/>
<circle cx="341.94" cy="1035.11" r="3.2"/>
<circle cx="345.51" cy="1035.27" r="3.2"/>
<circle cx="349.08" cy="1035.43" r="3.2"/>
<circle cx="352.65" cy="1035.61" r="3.2"/>
<circle cx="356.22" cy="1035.81" r="3.2"/>
<circle cx="359.79" cy="1036.03" r="3.2"/>
<circle cx="363.36" cy="1036.27" r="3.2"/>
<circle cx="366.93" cy="1036.52" r="3.2"/>
<circle cx="370.5" cy="1036.79" r="3.2"/>
<circle cx="374.07" cy="1037.06" r="3.2"/>
<circle cx="377.64" cy="1037.35" r="3.2"/>
<circle cx="381.21" cy="1037.65" r="3.2"/>
<circle cx="384.78" cy="1037.95" r="3.2"/>
<circle cx="388.35" cy="1038.29" r="3.2"/>
<circle cx="391.92" cy="1038.66" r="3.2"/>
<circle cx="395.49" cy="1039.06" r="3.2"/>
<circle cx="399.06" cy="1039.46" r="3.2"/>
<circle cx="402.63" cy="1039.84" r="3.2"/>
<circle cx="406.2" cy="1040.2" r="3.2"/>
<circle cx="409.77" cy="1040.51" r="3.2"/>
<circle cx="413.34" cy="1040.77" r="3.2"/>
<circle cx="416.91" cy="1041" r="3.2"/>
<circle cx="420.48" cy="1041.22" r="3.2"/>
<circle cx="424.05" cy="1041.43" r="3.2"/>
<circle cx="427.62" cy="1041.62" r="3.2"/>
<circle cx="431.19" cy="1041.79" r="3.2"/>
<circle cx="434.76" cy="1041.93" r="3.2"/>
<circle cx="438.33" cy="1042.05" r="3.2"/>
<circle cx="441.9" cy="1042.14" r="3.2"/>
<circle cx="445.47" cy="1042.21" r="3.2"/>
<circle cx="449.04" cy="1042.28" r="3.2"/>
<circle cx="452.61" cy="1042.34" r="3.2"/>
<circle cx="456.18" cy="1042.4" r="3.2"/>
<circle cx="459.75" cy="1042.45" r="3.2"/>
<circle cx="463.32" cy="1042.49" r="3.2"/>
<circle cx="466.89" cy="1042.54" r="3.2"/>
<circle cx="470.46" cy="1042.58" r="3.2"/>
<circle cx="474.03" cy="1042.62" r="3.2"/>
<circle cx="477.6" cy="1042.66" r="3.2"/>
<circle cx="481.17" cy="1042.71" r="3.2"/>
<circle cx="484.74" cy="1042.75" r="3.2"/>
</g>
<polyline fill="none" stroke="#000" stroke-width="2.4" stroke-linejoin="round" points="120.4,1049.55 124,1049.78 127.6,1049.88 131.2,1050.17 134.8,1049.76 138.4,1050.12 142,1048.33 145.6,1049.2 149.2,1050.15 152.8,1049.56 156.4,1050.06 160,1048.47 163.6,1049.18 167.2,1048.73 170.8,1049.32 174.4,1049.38 178,1048.25 181.6,1048.65 185.2,1048.77 188.8,1050.04 192.4,1049.73 196,1048.51 199.6,1049.78 203.2,1048.46 206.8,1049.41 210.4,1048.43 214,1048.17 217.6,1049.91 221.2,1048.58 224.8,1048.59 228.4,1050.12 232,1049.89 235.6,1048.72 239.2,1050.06 242.8,1049.21 246.4,1049.49 250,1048.54 253.6,1050.01 257.2,1049.5 260.8,1050.05 264.4,1049.9 268,1048.71 271.6,1048.83 275.2,1048.44 278.8,1048.4 282.4,1048.23 286,1048.71 289.6,1049.31 293.2,1048.11 296.8,1049.46 300.4,1048.78 304,1049.14 307.6,1050.44 311.2,1049.76 314.8,1049.45 318.4,1050.29 322,1051.4 325.6,1050.27 329.2,1051.38 332.8,1048.24 336.4,1048.37 340,1046.75 343.6,1045.25 347.2,1047.93 350.8,1045.33 354.4,1045.64 357.3,1040 360.6,1022.9 364.3,1004.2 367.9,978.9 371.6,947.8 375.2,914.4 378.9,898.2 382.5,917.2 386,908.1 389.5,916.8 393.3,906 396.8,934.4 400.3,945 403.8,950.2 407.5,979.4 411.3,995.4 414.8,1015.8 418.6,1038.3 422.1,1047 426.4,1048.14 430,1048.63 433.6,1049.19 437.2,1051.2 440.8,1049.89 444.4,1051.01 448,1051.32 451.6,1050.47 455.2,1048.81 458.8,1049.29 462.4,1049.76 466,1049.04 469.6,1046.65 473.2,1047.61 476.8,1050.55 480.4,1050.26 484,1046.78"/>
<g fill="#fff" stroke="#000" stroke-width="1">
<circle cx="120.4" cy="1049.55" r="3.2"/>
<circle cx="124" cy="1049.78" r="3.2"/>
<circle cx="127.6" cy="1049.88" r="3.2"/>
<circle cx="131.2" cy="1050.17" r="3.2"/>
<circle cx="134.8" cy="1049.76" r="3.2"/>
<circle cx="138.4" cy="1050.12" r="3.2"/>
<circle cx="142" cy="1048.33" r="3.2"/>
<circle cx="145.6" cy="1049.2" r="3.2"/>
<circle cx="149.2" cy="1050.15" r="3.2"/>
<circle cx="152.8" cy="1049.56" r="3.2"/>
<circle cx="156.4" cy="1050.06" r="3.2"/>
<circle cx="160" cy="1048.47" r="3.2"/>
<circle cx="163.6" cy="1049.18" r="3.2"/>
<circle cx="167.2" cy="1048.73" r="3.2"/>
<circle cx="170.8" cy="1049.32" r="3.2"/>
<circle cx="174.4" cy="1049.38" r="3.2"/>
<circle cx="178" cy="1048.25" r="3.2"/>
<circle cx="181.6" cy="1048.65" r="3.2"/>
<circle cx="185.2" cy="1048.77" r="3.2"/>
<circle cx="188.8" cy="1050.04" r="3.2"/>
<circle cx="192.4" cy="1049.73" r="3.2"/>
<circle cx="196" cy="1048.51" r="3.2"/>
<circle cx="199.6" cy="1049.78" r="3.2"/>
<circle cx="203.2" cy="1048.46" r="3.2"/>
<circle cx="206.8" cy="1049.41" r="3.2"/>
<circle cx="210.4" cy="1048.43" r="3.2"/>
<circle cx="214" cy="1048.17" r="3.2"/>
<circle cx="217.6" cy="1049.91" r="3.2"/>
<circle cx="221.2" cy="1048.58" r="3.2"/>
<circle cx="224.8" cy="1048.59" r="3.2"/>
<circle cx="228.4" cy="1050.12" r="3.2"/>
<circle cx="232" cy="1049.89" r="3.2"/>
<circle cx="235.6" cy="1048.72" r="3.2"/>
<circle cx="239.2" cy="1050.06" r="3.2"/>
<circle cx="242.8" cy="1049.21" r="3.2"/>
<circle cx="246.4" cy="1049.49" r="3.2"/>
<circle cx="250" cy="1048.54" r="3.2"/>
<circle cx="253.6" cy="1050.01" r="3.2"/>
<circle cx="257.2" cy="1049.5" r="3.2"/>
<circle cx="260.8" cy="1050.05" r="3.2"/>
<circle cx="264.4" cy="1049.9" r="3.2"/>
<circle cx="268" cy="1048.71" r="3.2"/>
<circle cx="271.6" cy="1048.83" r="3.2"/>
<circle cx="275.2" cy="1048.44" r="3.2"/>
<circle cx="278.8" cy="1048.4" r="3.2"/>
<circle cx="282.4" cy="1048.23" r="3.2"/>
<circle cx="286" cy="1048.71" r="3.2"/>
<circle cx="289.6" cy="1049.31" r="3.2"/>
<circle cx="293.2" cy="1048.11" r="3.2"/>
<circle cx="296.8" cy="1049.46" r="3.2"/>
<circle cx="300.4" cy="1048.78" r="3.2"/>
<circle cx="304" cy="1049.14" r="3.2"/>
<circle cx="307.6" cy="1050.44" r="3.2"/>
<circle cx="311.2" cy="1049.76" r="3.2"/>
<circle cx="314.8" cy="1049.45" r="3.2"/>
<circle cx="318.4" cy="1050.29" r="3.2"/>
<circle cx="322" cy="1051.4" r="3.2"/>
<circle cx="325.6" cy="1050.27" r="3.2"/>
<circle cx="329.2" cy="1051.38" r="3.2"/>
<circle cx="332.8" cy="1048.24" r="3.2"/>
<circle cx="336.4" cy="1048.37" r="3.2"/>
<circle cx="340" cy="1046.75" r="3.2"/>
<circle cx="343.6" cy="1045.25" r="3.2"/>
<circle cx="347.2" cy="1047.93" r="3.2"/>
<circle cx="350.8" cy="1045.33" r="3.2"/>
<circle cx="354.4" cy="1045.64" r="3.2"/>
<circle cx="357.3" cy="1040" r="3.2"/>
<circle cx="360.6" cy="1022.9" r="3.2"/>
<circle cx="364.3" cy="1004.2" r="3.2"/>
<circle cx="367.9" cy="978.9" r="3.2"/>
<circle cx="371.6" cy="947.8" r="3.2"/>
<circle cx="375.2" cy="914.4" r="3.2"/>
<circle cx="378.9" cy="898.2" r="3.2"/>
<circle cx="382.5" cy="917.2" r="3.2"/>
<circle cx="386" cy="908.1" r="3.2"/>
<circle cx="389.5" cy="916.8" r="3.2"/>
<circle cx="393.3" cy="906" r="3.2"/>
<circle cx="396.8" cy="934.4" r="3.2"/>
<circle cx="400.3" cy="945" r="3.2"/>
<circle cx="403.8" cy="950.2" r="3.2"/>
<circle cx="407.5" cy="979.4" r="3.2"/>
<circle cx="411.3" cy="995.4" r="3.2"/>
<circle cx="414.8" cy="1015.8" r="3.2"/>
<circle cx="418.6" cy="1038.3" r="3.2"/>
<circle cx="422.1" cy="1047" r="3.2"/>
<circle cx="426.4" cy="1048.14" r="3.2"/>
<circle cx="430" cy="1048.63" r="3.2"/>
<circle cx="433.6" cy="1049.19" r="3.2"/>
<circle cx="437.2" cy="1051.2" r="3.2"/>
<circle cx="440.8" cy="1049.89" r="3.2"/>
<circle cx="444.4" cy="1051.01" r="3.2"/>
<circle cx="448" cy="1051.32" r="3.2"/>
<circle cx="451.6" cy="1050.47" r="3.2"/>
<circle cx="455.2" cy="1048.81" r="3.2"/>
<circle cx="458.8" cy="1049.29" r="3.2"/>
<circle cx="462.4" cy="1049.76" r="3.2"/>
<circle cx="466" cy="1049.04" r="3.2"/>
<circle cx="469.6" cy="1046.65" r="3.2"/>
<circle cx="473.2" cy="1047.61" r="3.2"/>
<circle cx="476.8" cy="1050.55" r="3.2"/>
<circle cx="480.4" cy="1050.26" r="3.2"/>
<circle cx="484" cy="1046.78" r="3.2"/>
</g>
</g>
<g clip-path="url(#cA5)">
<polyline fill="none" stroke="#fdbe18" stroke-width="1.2" stroke-linejoin="round" points="120.9,1205.5 123.9,1188 127.1,1170 130.3,1154.7 133.9,1141.9 137.4,1130.5 141.1,1119.3 144.6,1108.5 148.3,1100.1 151.8,1094.2 155.3,1092.6 158.7,1094.2 162.3,1096.3 166,1099.7 169.4,1102.2 173.2,1105.1 176.81,1106.61 180.41,1106.87 184.02,1106.99 187.62,1106.92 191.23,1106.59 194.84,1106.11 198.44,1105.25 202.05,1104.19 205.65,1102.96 209.26,1101.54 212.87,1100.13 216.47,1098.67 220.08,1097.17 223.68,1095.99 227.29,1095.23 230.9,1094.63 234.5,1094.4 238.11,1094.43 241.71,1094.51 245.32,1094.63 248.93,1094.79 252.53,1094.96 256.14,1095.15 259.74,1095.42 263.35,1095.79 266.96,1096.21 270.56,1096.65 274.17,1097.25 277.77,1097.9 281.38,1098.43 284.99,1098.69 288.59,1098.87 292.2,1099.03 295.8,1099.16 299.41,1099.25 303.02,1099.3 306.62,1099.3 310.23,1099.3 313.83,1099.3 317.44,1099.3 321.05,1099.3 324.65,1099.3 328.26,1099.3 331.86,1099.3 335.47,1099.3 339.08,1099.3 342.68,1099.31 346.29,1099.92 349.89,1100.97 353.5,1102.9 357.11,1104.56 360.71,1105.69 364.32,1106.61 367.92,1107.48 371.53,1107.68 375.14,1107.41 378.74,1106.98 382.35,1106.23 385.95,1105.2 389.56,1104.12 393.17,1102.92 396.77,1101.78 400.38,1100.88 403.98,1100.1 407.59,1099.4 411.2,1098.78 414.8,1098.21 418.41,1097.66 422.01,1097.19 425.62,1096.85 429.23,1096.63 432.83,1096.45 436.44,1096.32 440.04,1096.21 443.65,1096.11 447.26,1096.01 450.86,1095.93 454.47,1095.86 458.07,1095.81 461.68,1095.8 465.29,1095.82 468.89,1095.85 472.5,1095.91 476.1,1095.98 479.71,1096.05 483.32,1096.12 486.92,1096.18"/>
<g fill="#fff" stroke="#fdbe18" stroke-width="1">
<circle cx="120.9" cy="1205.5" r="3.2"/>
<circle cx="123.9" cy="1188" r="3.2"/>
<circle cx="127.1" cy="1170" r="3.2"/>
<circle cx="130.3" cy="1154.7" r="3.2"/>
<circle cx="133.9" cy="1141.9" r="3.2"/>
<circle cx="137.4" cy="1130.5" r="3.2"/>
<circle cx="141.1" cy="1119.3" r="3.2"/>
<circle cx="144.6" cy="1108.5" r="3.2"/>
<circle cx="148.3" cy="1100.1" r="3.2"/>
<circle cx="151.8" cy="1094.2" r="3.2"/>
<circle cx="155.3" cy="1092.6" r="3.2"/>
<circle cx="158.7" cy="1094.2" r="3.2"/>
<circle cx="162.3" cy="1096.3" r="3.2"/>
<circle cx="166" cy="1099.7" r="3.2"/>
<circle cx="169.4" cy="1102.2" r="3.2"/>
<circle cx="173.2" cy="1105.1" r="3.2"/>
<circle cx="176.81" cy="1106.61" r="3.2"/>
<circle cx="180.41" cy="1106.87" r="3.2"/>
<circle cx="184.02" cy="1106.99" r="3.2"/>
<circle cx="187.62" cy="1106.92" r="3.2"/>
<circle cx="191.23" cy="1106.59" r="3.2"/>
<circle cx="194.84" cy="1106.11" r="3.2"/>
<circle cx="198.44" cy="1105.25" r="3.2"/>
<circle cx="202.05" cy="1104.19" r="3.2"/>
<circle cx="205.65" cy="1102.96" r="3.2"/>
<circle cx="209.26" cy="1101.54" r="3.2"/>
<circle cx="212.87" cy="1100.13" r="3.2"/>
<circle cx="216.47" cy="1098.67" r="3.2"/>
<circle cx="220.08" cy="1097.17" r="3.2"/>
<circle cx="223.68" cy="1095.99" r="3.2"/>
<circle cx="227.29" cy="1095.23" r="3.2"/>
<circle cx="230.9" cy="1094.63" r="3.2"/>
<circle cx="234.5" cy="1094.4" r="3.2"/>
<circle cx="238.11" cy="1094.43" r="3.2"/>
<circle cx="241.71" cy="1094.51" r="3.2"/>
<circle cx="245.32" cy="1094.63" r="3.2"/>
<circle cx="248.93" cy="1094.79" r="3.2"/>
<circle cx="252.53" cy="1094.96" r="3.2"/>
<circle cx="256.14" cy="1095.15" r="3.2"/>
<circle cx="259.74" cy="1095.42" r="3.2"/>
<circle cx="263.35" cy="1095.79" r="3.2"/>
<circle cx="266.96" cy="1096.21" r="3.2"/>
<circle cx="270.56" cy="1096.65" r="3.2"/>
<circle cx="274.17" cy="1097.25" r="3.2"/>
<circle cx="277.77" cy="1097.9" r="3.2"/>
<circle cx="281.38" cy="1098.43" r="3.2"/>
<circle cx="284.99" cy="1098.69" r="3.2"/>
<circle cx="288.59" cy="1098.87" r="3.2"/>
<circle cx="292.2" cy="1099.03" r="3.2"/>
<circle cx="295.8" cy="1099.16" r="3.2"/>
<circle cx="299.41" cy="1099.25" r="3.2"/>
<circle cx="303.02" cy="1099.3" r="3.2"/>
<circle cx="306.62" cy="1099.3" r="3.2"/>
<circle cx="310.23" cy="1099.3" r="3.2"/>
<circle cx="313.83" cy="1099.3" r="3.2"/>
<circle cx="317.44" cy="1099.3" r="3.2"/>
<circle cx="321.05" cy="1099.3" r="3.2"/>
<circle cx="324.65" cy="1099.3" r="3.2"/>
<circle cx="328.26" cy="1099.3" r="3.2"/>
<circle cx="331.86" cy="1099.3" r="3.2"/>
<circle cx="335.47" cy="1099.3" r="3.2"/>
<circle cx="339.08" cy="1099.3" r="3.2"/>
<circle cx="342.68" cy="1099.31" r="3.2"/>
<circle cx="346.29" cy="1099.92" r="3.2"/>
<circle cx="349.89" cy="1100.97" r="3.2"/>
<circle cx="353.5" cy="1102.9" r="3.2"/>
<circle cx="357.11" cy="1104.56" r="3.2"/>
<circle cx="360.71" cy="1105.69" r="3.2"/>
<circle cx="364.32" cy="1106.61" r="3.2"/>
<circle cx="367.92" cy="1107.48" r="3.2"/>
<circle cx="371.53" cy="1107.68" r="3.2"/>
<circle cx="375.14" cy="1107.41" r="3.2"/>
<circle cx="378.74" cy="1106.98" r="3.2"/>
<circle cx="382.35" cy="1106.23" r="3.2"/>
<circle cx="385.95" cy="1105.2" r="3.2"/>
<circle cx="389.56" cy="1104.12" r="3.2"/>
<circle cx="393.17" cy="1102.92" r="3.2"/>
<circle cx="396.77" cy="1101.78" r="3.2"/>
<circle cx="400.38" cy="1100.88" r="3.2"/>
<circle cx="403.98" cy="1100.1" r="3.2"/>
<circle cx="407.59" cy="1099.4" r="3.2"/>
<circle cx="411.2" cy="1098.78" r="3.2"/>
<circle cx="414.8" cy="1098.21" r="3.2"/>
<circle cx="418.41" cy="1097.66" r="3.2"/>
<circle cx="422.01" cy="1097.19" r="3.2"/>
<circle cx="425.62" cy="1096.85" r="3.2"/>
<circle cx="429.23" cy="1096.63" r="3.2"/>
<circle cx="432.83" cy="1096.45" r="3.2"/>
<circle cx="436.44" cy="1096.32" r="3.2"/>
<circle cx="440.04" cy="1096.21" r="3.2"/>
<circle cx="443.65" cy="1096.11" r="3.2"/>
<circle cx="447.26" cy="1096.01" r="3.2"/>
<circle cx="450.86" cy="1095.93" r="3.2"/>
<circle cx="454.47" cy="1095.86" r="3.2"/>
<circle cx="458.07" cy="1095.81" r="3.2"/>
<circle cx="461.68" cy="1095.8" r="3.2"/>
<circle cx="465.29" cy="1095.82" r="3.2"/>
<circle cx="468.89" cy="1095.85" r="3.2"/>
<circle cx="472.5" cy="1095.91" r="3.2"/>
<circle cx="476.1" cy="1095.98" r="3.2"/>
<circle cx="479.71" cy="1096.05" r="3.2"/>
<circle cx="483.32" cy="1096.12" r="3.2"/>
<circle cx="486.92" cy="1096.18" r="3.2"/>
</g>
<polyline fill="none" stroke="#000" stroke-width="2.4" stroke-linejoin="round" points="120.2,1194 123.4,1183.3 126.7,1173.7 130.3,1167.9 133.8,1162.4 137.2,1159.1 140.5,1157 144.3,1155.3 147.8,1153.2 151.4,1152 155,1151.1 158.5,1149.9 162.3,1149 166,1148.2 169.4,1148.2 173.2,1147.9 176.81,1147.26 180.41,1146.53 184.02,1145.75 187.62,1144.98 191.23,1144.34 194.84,1143.88 198.44,1143.53 202.05,1143.21 205.65,1142.86 209.26,1142.45 212.87,1142.02 216.47,1141.57 220.08,1141.12 223.68,1140.66 227.29,1140.19 230.9,1139.73 234.5,1139.27 238.11,1138.85 241.71,1138.44 245.32,1138 248.93,1137.5 252.53,1136.82 256.14,1136.06 259.74,1135.4 263.35,1135.02 266.96,1134.76 270.56,1134.55 274.17,1134.42 277.77,1134.42 281.38,1134.6 284.99,1134.87 288.59,1135.07 292.2,1135.08 295.8,1134.97 299.41,1134.76 303.02,1134.51 306.62,1134.16 310.23,1133.58 313.83,1133.02 317.44,1132.63 321.05,1132.3 324.65,1131.97 328.26,1131.58 331.86,1131.14 335.47,1130.65 339.08,1130.07 342.68,1129.38 346.29,1128.41 349.89,1127.21 353.5,1125.93 357.11,1124.15 360.71,1123.1 364.32,1124.81 367.92,1129.21 371.53,1137.71 375.14,1148.87 378.74,1163.43 382.35,1179.35 385.95,1194.23 389.56,1206.77 393.17,1215.25 396.77,1220.67 400.38,1223.54 403.98,1225.02 407.59,1225.69 411.2,1226 414.8,1226.2 418.41,1226.3 422.01,1226.3 425.62,1226.3 429.23,1226.3 432.83,1226.3 436.44,1226.3 440.04,1226.3 443.65,1226.3 447.26,1226.3 450.86,1226.3 454.47,1226.3 458.07,1226.3 461.68,1226.3 465.29,1226.3 468.89,1226.3 472.5,1226.3 476.1,1226.3 479.71,1226.3 483.32,1226.3 486.92,1226.3"/>
<g fill="#fff" stroke="#000" stroke-width="1">
<circle cx="120.2" cy="1194" r="3.2"/>
<circle cx="123.4" cy="1183.3" r="3.2"/>
<circle cx="126.7" cy="1173.7" r="3.2"/>
<circle cx="130.3" cy="1167.9" r="3.2"/>
<circle cx="133.8" cy="1162.4" r="3.2"/>
<circle cx="137.2" cy="1159.1" r="3.2"/>
<circle cx="140.5" cy="1157" r="3.2"/>
<circle cx="144.3" cy="1155.3" r="3.2"/>
<circle cx="147.8" cy="1153.2" r="3.2"/>
<circle cx="151.4" cy="1152" r="3.2"/>
<circle cx="155" cy="1151.1" r="3.2"/>
<circle cx="158.5" cy="1149.9" r="3.2"/>
<circle cx="162.3" cy="1149" r="3.2"/>
<circle cx="166" cy="1148.2" r="3.2"/>
<circle cx="169.4" cy="1148.2" r="3.2"/>
<circle cx="173.2" cy="1147.9" r="3.2"/>
<circle cx="176.81" cy="1147.26" r="3.2"/>
<circle cx="180.41" cy="1146.53" r="3.2"/>
<circle cx="184.02" cy="1145.75" r="3.2"/>
<circle cx="187.62" cy="1144.98" r="3.2"/>
<circle cx="191.23" cy="1144.34" r="3.2"/>
<circle cx="194.84" cy="1143.88" r="3.2"/>
<circle cx="198.44" cy="1143.53" r="3.2"/>
<circle cx="202.05" cy="1143.21" r="3.2"/>
<circle cx="205.65" cy="1142.86" r="3.2"/>
<circle cx="209.26" cy="1142.45" r="3.2"/>
<circle cx="212.87" cy="1142.02" r="3.2"/>
<circle cx="216.47" cy="1141.57" r="3.2"/>
<circle cx="220.08" cy="1141.12" r="3.2"/>
<circle cx="223.68" cy="1140.66" r="3.2"/>
<circle cx="227.29" cy="1140.19" r="3.2"/>
<circle cx="230.9" cy="1139.73" r="3.2"/>
<circle cx="234.5" cy="1139.27" r="3.2"/>
<circle cx="238.11" cy="1138.85" r="3.2"/>
<circle cx="241.71" cy="1138.44" r="3.2"/>
<circle cx="245.32" cy="1138" r="3.2"/>
<circle cx="248.93" cy="1137.5" r="3.2"/>
<circle cx="252.53" cy="1136.82" r="3.2"/>
<circle cx="256.14" cy="1136.06" r="3.2"/>
<circle cx="259.74" cy="1135.4" r="3.2"/>
<circle cx="263.35" cy="1135.02" r="3.2"/>
<circle cx="266.96" cy="1134.76" r="3.2"/>
<circle cx="270.56" cy="1134.55" r="3.2"/>
<circle cx="274.17" cy="1134.42" r="3.2"/>
<circle cx="277.77" cy="1134.42" r="3.2"/>
<circle cx="281.38" cy="1134.6" r="3.2"/>
<circle cx="284.99" cy="1134.87" r="3.2"/>
<circle cx="288.59" cy="1135.07" r="3.2"/>
<circle cx="292.2" cy="1135.08" r="3.2"/>
<circle cx="295.8" cy="1134.97" r="3.2"/>
<circle cx="299.41" cy="1134.76" r="3.2"/>
<circle cx="303.02" cy="1134.51" r="3.2"/>
<circle cx="306.62" cy="1134.16" r="3.2"/>
<circle cx="310.23" cy="1133.58" r="3.2"/>
<circle cx="313.83" cy="1133.02" r="3.2"/>
<circle cx="317.44" cy="1132.63" r="3.2"/>
<circle cx="321.05" cy="1132.3" r="3.2"/>
<circle cx="324.65" cy="1131.97" r="3.2"/>
<circle cx="328.26" cy="1131.58" r="3.2"/>
<circle cx="331.86" cy="1131.14" r="3.2"/>
<circle cx="335.47" cy="1130.65" r="3.2"/>
<circle cx="339.08" cy="1130.07" r="3.2"/>
<circle cx="342.68" cy="1129.38" r="3.2"/>
<circle cx="346.29" cy="1128.41" r="3.2"/>
<circle cx="349.89" cy="1127.21" r="3.2"/>
<circle cx="353.5" cy="1125.93" r="3.2"/>
<circle cx="357.11" cy="1124.15" r="3.2"/>
<circle cx="360.71" cy="1123.1" r="3.2"/>
<circle cx="364.32" cy="1124.81" r="3.2"/>
<circle cx="367.92" cy="1129.21" r="3.2"/>
<circle cx="371.53" cy="1137.71" r="3.2"/>
<circle cx="375.14" cy="1148.87" r="3.2"/>
<circle cx="378.74" cy="1163.43" r="3.2"/>
<circle cx="382.35" cy="1179.35" r="3.2"/>
<circle cx="385.95" cy="1194.23" r="3.2"/>
<circle cx="389.56" cy="1206.77" r="3.2"/>
<circle cx="393.17" cy="1215.25" r="3.2"/>
<circle cx="396.77" cy="1220.67" r="3.2"/>
<circle cx="400.38" cy="1223.54" r="3.2"/>
<circle cx="403.98" cy="1225.02" r="3.2"/>
<circle cx="407.59" cy="1225.69" r="3.2"/>
<circle cx="411.2" cy="1226" r="3.2"/>
<circle cx="414.8" cy="1226.2" r="3.2"/>
<circle cx="418.41" cy="1226.3" r="3.2"/>
<circle cx="422.01" cy="1226.3" r="3.2"/>
<circle cx="425.62" cy="1226.3" r="3.2"/>
<circle cx="429.23" cy="1226.3" r="3.2"/>
<circle cx="432.83" cy="1226.3" r="3.2"/>
<circle cx="436.44" cy="1226.3" r="3.2"/>
<circle cx="440.04" cy="1226.3" r="3.2"/>
<circle cx="443.65" cy="1226.3" r="3.2"/>
<circle cx="447.26" cy="1226.3" r="3.2"/>
<circle cx="450.86" cy="1226.3" r="3.2"/>
<circle cx="454.47" cy="1226.3" r="3.2"/>
<circle cx="458.07" cy="1226.3" r="3.2"/>
<circle cx="461.68" cy="1226.3" r="3.2"/>
<circle cx="465.29" cy="1226.3" r="3.2"/>
<circle cx="468.89" cy="1226.3" r="3.2"/>
<circle cx="472.5" cy="1226.3" r="3.2"/>
<circle cx="476.1" cy="1226.3" r="3.2"/>
<circle cx="479.71" cy="1226.3" r="3.2"/>
<circle cx="483.32" cy="1226.3" r="3.2"/>
<circle cx="486.92" cy="1226.3" r="3.2"/>
</g>
</g>
<g clip-path="url(#cA6)">
<g fill="#fff" stroke="#0f8b8b" stroke-width="1.1">
<circle cx="120.6" cy="1351.6" r="5.3"/>
<circle cx="124.17" cy="1351.97" r="5.3"/>
<circle cx="127.74" cy="1352.27" r="5.3"/>
<circle cx="131.31" cy="1352.14" r="5.3"/>
<circle cx="134.88" cy="1351.37" r="5.3"/>
<circle cx="138.45" cy="1350.26" r="5.3"/>
<circle cx="142.02" cy="1349.11" r="5.3"/>
<circle cx="145.59" cy="1348.07" r="5.3"/>
<circle cx="149.16" cy="1346.91" r="5.3"/>
<circle cx="152.73" cy="1345.74" r="5.3"/>
<circle cx="156.3" cy="1344.7" r="5.3"/>
<circle cx="159.87" cy="1343.84" r="5.3"/>
<circle cx="163.44" cy="1343.05" r="5.3"/>
<circle cx="167.01" cy="1342.34" r="5.3"/>
<circle cx="170.58" cy="1341.77" r="5.3"/>
<circle cx="174.15" cy="1341.33" r="5.3"/>
<circle cx="177.72" cy="1340.98" r="5.3"/>
<circle cx="181.29" cy="1340.66" r="5.3"/>
<circle cx="184.86" cy="1340.33" r="5.3"/>
<circle cx="188.43" cy="1339.99" r="5.3"/>
<circle cx="192" cy="1339.65" r="5.3"/>
<circle cx="195.57" cy="1339.3" r="5.3"/>
<circle cx="199.14" cy="1338.91" r="5.3"/>
<circle cx="202.71" cy="1338.45" r="5.3"/>
<circle cx="206.28" cy="1337.93" r="5.3"/>
<circle cx="209.85" cy="1337.36" r="5.3"/>
<circle cx="213.42" cy="1336.76" r="5.3"/>
<circle cx="216.99" cy="1336.02" r="5.3"/>
<circle cx="220.56" cy="1335.17" r="5.3"/>
<circle cx="224.13" cy="1334.42" r="5.3"/>
<circle cx="227.7" cy="1333.97" r="5.3"/>
<circle cx="231.27" cy="1333.7" r="5.3"/>
<circle cx="234.84" cy="1333.48" r="5.3"/>
<circle cx="238.41" cy="1333.34" r="5.3"/>
<circle cx="241.98" cy="1333.3" r="5.3"/>
<circle cx="245.55" cy="1333.45" r="5.3"/>
<circle cx="249.12" cy="1333.71" r="5.3"/>
<circle cx="252.69" cy="1333.94" r="5.3"/>
<circle cx="256.26" cy="1333.99" r="5.3"/>
<circle cx="259.83" cy="1333.88" r="5.3"/>
<circle cx="263.4" cy="1333.67" r="5.3"/>
<circle cx="266.97" cy="1333.44" r="5.3"/>
<circle cx="270.54" cy="1333.24" r="5.3"/>
<circle cx="274.11" cy="1333.04" r="5.3"/>
<circle cx="277.68" cy="1332.84" r="5.3"/>
<circle cx="281.25" cy="1332.67" r="5.3"/>
<circle cx="284.82" cy="1332.57" r="5.3"/>
<circle cx="288.39" cy="1332.5" r="5.3"/>
<circle cx="291.96" cy="1332.45" r="5.3"/>
<circle cx="295.53" cy="1332.4" r="5.3"/>
<circle cx="299.1" cy="1332.33" r="5.3"/>
<circle cx="302.67" cy="1332.14" r="5.3"/>
<circle cx="306.24" cy="1331.78" r="5.3"/>
<circle cx="309.81" cy="1331.41" r="5.3"/>
<circle cx="313.38" cy="1331.21" r="5.3"/>
<circle cx="316.95" cy="1331.25" r="5.3"/>
<circle cx="320.52" cy="1331.43" r="5.3"/>
<circle cx="324.09" cy="1331.66" r="5.3"/>
<circle cx="327.66" cy="1331.88" r="5.3"/>
<circle cx="331.23" cy="1332.03" r="5.3"/>
<circle cx="334.8" cy="1332.17" r="5.3"/>
<circle cx="338.37" cy="1332.33" r="5.3"/>
<circle cx="341.94" cy="1332.59" r="5.3"/>
<circle cx="345.51" cy="1333.48" r="5.3"/>
<circle cx="349.08" cy="1335.29" r="5.3"/>
<circle cx="352.65" cy="1337.52" r="5.3"/>
<circle cx="356.22" cy="1339.67" r="5.3"/>
<circle cx="359.79" cy="1341.86" r="5.3"/>
<circle cx="363.36" cy="1344.25" r="5.3"/>
<circle cx="366.93" cy="1346.49" r="5.3"/>
<circle cx="370.5" cy="1348.22" r="5.3"/>
<circle cx="374.07" cy="1349.46" r="5.3"/>
<circle cx="377.64" cy="1350.5" r="5.3"/>
<circle cx="381.21" cy="1351.45" r="5.3"/>
<circle cx="384.78" cy="1352.48" r="5.3"/>
<circle cx="388.35" cy="1353.6" r="5.3"/>
<circle cx="391.92" cy="1354.73" r="5.3"/>
<circle cx="395.49" cy="1355.79" r="5.3"/>
<circle cx="399.06" cy="1356.71" r="5.3"/>
<circle cx="402.63" cy="1357.58" r="5.3"/>
<circle cx="406.2" cy="1358.38" r="5.3"/>
<circle cx="409.77" cy="1359.01" r="5.3"/>
<circle cx="413.34" cy="1359.38" r="5.3"/>
<circle cx="416.91" cy="1359.64" r="5.3"/>
<circle cx="420.48" cy="1359.85" r="5.3"/>
<circle cx="424.05" cy="1359.98" r="5.3"/>
<circle cx="427.62" cy="1359.99" r="5.3"/>
<circle cx="431.19" cy="1359.86" r="5.3"/>
<circle cx="434.76" cy="1359.64" r="5.3"/>
<circle cx="438.33" cy="1359.41" r="5.3"/>
<circle cx="441.9" cy="1359.22" r="5.3"/>
<circle cx="445.47" cy="1359.04" r="5.3"/>
<circle cx="449.04" cy="1358.87" r="5.3"/>
<circle cx="452.61" cy="1358.69" r="5.3"/>
<circle cx="456.18" cy="1358.51" r="5.3"/>
<circle cx="459.75" cy="1358.32" r="5.3"/>
<circle cx="463.32" cy="1358.14" r="5.3"/>
<circle cx="466.89" cy="1357.97" r="5.3"/>
<circle cx="470.46" cy="1357.82" r="5.3"/>
<circle cx="474.03" cy="1357.68" r="5.3"/>
<circle cx="477.6" cy="1357.56" r="5.3"/>
<circle cx="481.17" cy="1357.43" r="5.3"/>
<circle cx="484.74" cy="1357.31" r="5.3"/>
</g>
<g fill="#fff" stroke="#7eacac" stroke-width="1.1">
<circle cx="120.6" cy="1335.4" r="7"/>
<circle cx="124.17" cy="1339.25" r="7"/>
<circle cx="127.74" cy="1340.14" r="7"/>
<circle cx="131.31" cy="1338.92" r="7"/>
<circle cx="134.88" cy="1337.26" r="7"/>
<circle cx="138.45" cy="1335.84" r="7"/>
<circle cx="142.02" cy="1334.37" r="7"/>
<circle cx="145.59" cy="1332.9" r="7"/>
<circle cx="149.16" cy="1331.53" r="7"/>
<circle cx="152.73" cy="1330.31" r="7"/>
<circle cx="156.3" cy="1329.17" r="7"/>
<circle cx="159.87" cy="1328.11" r="7"/>
<circle cx="163.44" cy="1327.16" r="7"/>
<circle cx="167.01" cy="1326.25" r="7"/>
<circle cx="170.58" cy="1325.31" r="7"/>
<circle cx="174.15" cy="1324.55" r="7"/>
<circle cx="177.72" cy="1324.2" r="7"/>
<circle cx="181.29" cy="1324.29" r="7"/>
<circle cx="184.86" cy="1324.53" r="7"/>
<circle cx="188.43" cy="1324.78" r="7"/>
<circle cx="192" cy="1324.9" r="7"/>
<circle cx="195.57" cy="1324.6" r="7"/>
<circle cx="199.14" cy="1323.77" r="7"/>
<circle cx="202.71" cy="1322.63" r="7"/>
<circle cx="206.28" cy="1321.37" r="7"/>
<circle cx="209.85" cy="1319.76" r="7"/>
<circle cx="213.42" cy="1317.73" r="7"/>
<circle cx="216.99" cy="1315.15" r="7"/>
<circle cx="220.56" cy="1317.19" r="7"/>
<circle cx="224.13" cy="1318.36" r="7"/>
<circle cx="227.7" cy="1318.6" r="7"/>
<circle cx="231.27" cy="1318.46" r="7"/>
<circle cx="234.84" cy="1318.21" r="7"/>
<circle cx="238.41" cy="1317.98" r="7"/>
<circle cx="241.98" cy="1317.9" r="7"/>
<circle cx="245.55" cy="1317.9" r="7"/>
<circle cx="249.12" cy="1317.9" r="7"/>
<circle cx="252.69" cy="1317.9" r="7"/>
<circle cx="256.26" cy="1317.93" r="7"/>
<circle cx="259.83" cy="1318.41" r="7"/>
<circle cx="263.4" cy="1319.18" r="7"/>
<circle cx="266.97" cy="1319.83" r="7"/>
<circle cx="270.54" cy="1319.98" r="7"/>
<circle cx="274.11" cy="1319.77" r="7"/>
<circle cx="277.68" cy="1319.37" r="7"/>
<circle cx="281.25" cy="1318.89" r="7"/>
<circle cx="284.82" cy="1318.38" r="7"/>
<circle cx="288.39" cy="1317.61" r="7"/>
<circle cx="291.96" cy="1316.69" r="7"/>
<circle cx="295.53" cy="1315.83" r="7"/>
<circle cx="299.1" cy="1315.24" r="7"/>
<circle cx="302.67" cy="1315.11" r="7"/>
<circle cx="306.24" cy="1315.32" r="7"/>
<circle cx="309.81" cy="1315.61" r="7"/>
<circle cx="313.38" cy="1315.79" r="7"/>
<circle cx="316.95" cy="1315.8" r="7"/>
<circle cx="320.52" cy="1315.8" r="7"/>
<circle cx="324.09" cy="1315.8" r="7"/>
<circle cx="327.66" cy="1315.8" r="7"/>
<circle cx="331.23" cy="1315.8" r="7"/>
<circle cx="334.8" cy="1315.8" r="7"/>
<circle cx="338.37" cy="1315.8" r="7"/>
<circle cx="341.94" cy="1315.8" r="7"/>
<circle cx="345.51" cy="1316.61" r="7"/>
<circle cx="349.08" cy="1318.65" r="7"/>
<circle cx="352.65" cy="1321.01" r="7"/>
<circle cx="356.22" cy="1323.24" r="7"/>
<circle cx="359.79" cy="1325.78" r="7"/>
<circle cx="363.36" cy="1328.62" r="7"/>
<circle cx="366.93" cy="1332.25" r="7"/>
<circle cx="370.5" cy="1336.1" r="7"/>
<circle cx="374.07" cy="1338.92" r="7"/>
<circle cx="377.64" cy="1341.23" r="7"/>
<circle cx="381.21" cy="1343.03" r="7"/>
<circle cx="384.78" cy="1343.86" r="7"/>
<circle cx="388.35" cy="1344.09" r="7"/>
<circle cx="391.92" cy="1344.23" r="7"/>
<circle cx="395.49" cy="1344.51" r="7"/>
<circle cx="399.06" cy="1346.5" r="7"/>
<circle cx="402.63" cy="1349.93" r="7"/>
<circle cx="406.2" cy="1352.63" r="7"/>
<circle cx="409.77" cy="1355" r="7"/>
<circle cx="413.34" cy="1357.19" r="7"/>
<circle cx="416.91" cy="1358.67" r="7"/>
<circle cx="420.48" cy="1358.98" r="7"/>
<circle cx="424.05" cy="1358.73" r="7"/>
<circle cx="427.62" cy="1358.36" r="7"/>
<circle cx="431.19" cy="1358.06" r="7"/>
<circle cx="434.76" cy="1358" r="7"/>
<circle cx="438.33" cy="1358" r="7"/>
<circle cx="441.9" cy="1358" r="7"/>
<circle cx="445.47" cy="1358" r="7"/>
<circle cx="449.04" cy="1358.05" r="7"/>
<circle cx="452.61" cy="1358.38" r="7"/>
<circle cx="456.18" cy="1358.83" r="7"/>
<circle cx="459.75" cy="1359.15" r="7"/>
<circle cx="463.32" cy="1359.14" r="7"/>
<circle cx="466.89" cy="1358.78" r="7"/>
<circle cx="470.46" cy="1358.23" r="7"/>
<circle cx="474.03" cy="1357.68" r="7"/>
<circle cx="477.6" cy="1357.24" r="7"/>
<circle cx="481.17" cy="1356.81" r="7"/>
<circle cx="484.74" cy="1356.39" r="7"/>
</g>
</g>
<g clip-path="url(#cB0)">
<g fill="#fff" stroke="#0d8080" stroke-width="1.2">
<circle cx="780.2" cy="311.9" r="6"/>
<circle cx="783.77" cy="311.8" r="6"/>
<circle cx="787.34" cy="311.7" r="6"/>
<circle cx="790.91" cy="311.59" r="6"/>
<circle cx="794.48" cy="311.48" r="6"/>
<circle cx="798.05" cy="311.36" r="6"/>
<circle cx="801.62" cy="311.24" r="6"/>
<circle cx="805.19" cy="311.12" r="6"/>
<circle cx="808.76" cy="310.99" r="6"/>
<circle cx="812.33" cy="310.87" r="6"/>
<circle cx="815.9" cy="310.74" r="6"/>
<circle cx="819.47" cy="310.62" r="6"/>
<circle cx="823.04" cy="310.5" r="6"/>
<circle cx="826.61" cy="310.38" r="6"/>
<circle cx="830.18" cy="310.26" r="6"/>
<circle cx="833.75" cy="310.14" r="6"/>
<circle cx="837.32" cy="310.03" r="6"/>
<circle cx="840.89" cy="309.93" r="6"/>
<circle cx="844.46" cy="309.83" r="6"/>
<circle cx="848.03" cy="309.73" r="6"/>
<circle cx="851.6" cy="309.65" r="6"/>
<circle cx="855.17" cy="309.57" r="6"/>
<circle cx="858.74" cy="309.5" r="6"/>
<circle cx="862.31" cy="309.44" r="6"/>
<circle cx="865.88" cy="309.39" r="6"/>
<circle cx="869.45" cy="309.35" r="6"/>
<circle cx="873.02" cy="309.32" r="6"/>
<circle cx="876.59" cy="309.3" r="6"/>
<circle cx="880.16" cy="309.3" r="6"/>
<circle cx="883.73" cy="309.31" r="6"/>
<circle cx="887.3" cy="309.33" r="6"/>
<circle cx="890.87" cy="309.36" r="6"/>
<circle cx="894.44" cy="309.4" r="6"/>
<circle cx="898.01" cy="309.44" r="6"/>
<circle cx="901.58" cy="309.5" r="6"/>
<circle cx="905.15" cy="309.56" r="6"/>
<circle cx="908.72" cy="309.63" r="6"/>
<circle cx="912.29" cy="309.71" r="6"/>
<circle cx="915.86" cy="309.79" r="6"/>
<circle cx="919.43" cy="309.87" r="6"/>
<circle cx="923" cy="309.96" r="6"/>
<circle cx="926.57" cy="310.05" r="6"/>
<circle cx="930.14" cy="310.15" r="6"/>
<circle cx="933.71" cy="310.24" r="6"/>
<circle cx="937.28" cy="310.34" r="6"/>
<circle cx="940.85" cy="310.44" r="6"/>
<circle cx="944.42" cy="310.53" r="6"/>
<circle cx="947.99" cy="310.63" r="6"/>
<circle cx="951.56" cy="310.72" r="6"/>
<circle cx="955.13" cy="310.82" r="6"/>
<circle cx="958.7" cy="310.91" r="6"/>
<circle cx="962.27" cy="310.99" r="6"/>
<circle cx="965.84" cy="311.07" r="6"/>
<circle cx="969.41" cy="311.15" r="6"/>
<circle cx="972.98" cy="311.22" r="6"/>
<circle cx="976.55" cy="311.28" r="6"/>
<circle cx="980.12" cy="311.34" r="6"/>
<circle cx="983.69" cy="311.39" r="6"/>
<circle cx="987.26" cy="311.43" r="6"/>
<circle cx="990.83" cy="311.46" r="6"/>
<circle cx="994.4" cy="311.49" r="6"/>
<circle cx="997.97" cy="311.5" r="6"/>
<circle cx="1001.54" cy="311.46" r="6"/>
<circle cx="1005.11" cy="311.08" r="6"/>
<circle cx="1008.68" cy="310.4" r="6"/>
<circle cx="1012.25" cy="309.56" r="6"/>
<circle cx="1015.82" cy="308.68" r="6"/>
<circle cx="1019.39" cy="307.89" r="6"/>
<circle cx="1022.96" cy="307.32" r="6"/>
<circle cx="1026.53" cy="307.1" r="6"/>
<circle cx="1030.1" cy="307.27" r="6"/>
<circle cx="1033.67" cy="307.72" r="6"/>
<circle cx="1037.24" cy="308.38" r="6"/>
<circle cx="1040.81" cy="309.15" r="6"/>
<circle cx="1044.38" cy="309.95" r="6"/>
<circle cx="1047.95" cy="310.69" r="6"/>
<circle cx="1051.52" cy="311.29" r="6"/>
<circle cx="1055.09" cy="311.7" r="6"/>
<circle cx="1058.66" cy="312.09" r="6"/>
<circle cx="1062.23" cy="312.47" r="6"/>
<circle cx="1065.8" cy="312.84" r="6"/>
<circle cx="1069.37" cy="313.18" r="6"/>
<circle cx="1072.94" cy="313.49" r="6"/>
<circle cx="1076.51" cy="313.76" r="6"/>
<circle cx="1080.08" cy="313.97" r="6"/>
<circle cx="1083.65" cy="314.12" r="6"/>
<circle cx="1087.22" cy="314.19" r="6"/>
<circle cx="1090.79" cy="314.2" r="6"/>
<circle cx="1094.36" cy="314.2" r="6"/>
<circle cx="1097.93" cy="314.2" r="6"/>
<circle cx="1101.5" cy="314.2" r="6"/>
<circle cx="1105.07" cy="314.2" r="6"/>
<circle cx="1108.64" cy="314.2" r="6"/>
<circle cx="1112.21" cy="314.2" r="6"/>
<circle cx="1115.78" cy="314.2" r="6"/>
<circle cx="1119.35" cy="314.2" r="6"/>
<circle cx="1122.92" cy="314.2" r="6"/>
<circle cx="1126.49" cy="313.96" r="6"/>
<circle cx="1130.06" cy="312.88" r="6"/>
<circle cx="1133.63" cy="311.24" r="6"/>
<circle cx="1137.2" cy="308.86" r="6"/>
<circle cx="1140.77" cy="304.89" r="6"/>
<circle cx="1144.34" cy="299.72" r="6"/>
<circle cx="1147.91" cy="293.16" r="6"/>
<circle cx="1151.48" cy="285.84" r="6"/>
<circle cx="1155.05" cy="278.81" r="6"/>
<circle cx="1158.62" cy="272.76" r="6"/>
<circle cx="1162.19" cy="260.94" r="6"/>
<circle cx="1165.76" cy="246.59" r="6"/>
<circle cx="1169.33" cy="239.27" r="6"/>
<circle cx="1172.9" cy="230.88" r="6"/>
<circle cx="1176.47" cy="217.9" r="6"/>
<circle cx="1180.04" cy="207.74" r="6"/>
<circle cx="1183.61" cy="198.7" r="6"/>
<circle cx="1187.18" cy="192.21" r="6"/>
<circle cx="1190.75" cy="188.28" r="6"/>
<circle cx="1194.32" cy="185.65" r="6"/>
<circle cx="1197.89" cy="184.64" r="6"/>
<circle cx="1201.46" cy="184.25" r="6"/>
<circle cx="1205.03" cy="184" r="6"/>
<circle cx="1208.6" cy="183.9" r="6"/>
<circle cx="1212.17" cy="184.19" r="6"/>
<circle cx="1215.74" cy="185.03" r="6"/>
<circle cx="1219.31" cy="186.04" r="6"/>
<circle cx="1222.88" cy="186.9" r="6"/>
<circle cx="1226.45" cy="187.84" r="6"/>
<circle cx="1230.02" cy="188.39" r="6"/>
<circle cx="1233.59" cy="188.23" r="6"/>
<circle cx="1237.16" cy="187.82" r="6"/>
</g>
<polyline fill="none" stroke="#8db3dd" stroke-width="1" stroke-linejoin="round" points="780.2,230.3 783.77,229.38 787.34,228.41 790.91,227.77 794.48,227.84 798.05,228.58 801.62,229.62 805.19,230.61 808.76,231.17 812.33,230.98 815.9,230.18 819.47,229.13 823.04,228.18 826.61,227.71 830.18,227.98 833.75,228.82 837.32,229.97 840.89,231.12 844.46,232.01 848.03,232.63 851.6,233.17 855.17,233.67 858.74,234.16 862.31,234.68 865.88,235.32 869.45,236.03 873.02,236.67 876.59,237.1 880.16,237.18 883.73,236.92 887.3,236.4 890.87,235.75 894.44,235.06 898.01,234.43 901.58,233.98 905.15,233.8 908.72,233.91 912.29,234.2 915.86,234.64 919.43,235.19 923,235.8 926.57,236.42 930.14,237.03 933.71,237.69 937.28,238.56 940.85,239.36 944.42,239.79 947.99,239.73 951.56,239.48 955.13,239.12 958.7,238.72 962.27,238.36 965.84,238.1 969.41,237.97 972.98,237.89 976.55,237.81 980.12,237.68 983.69,237.46 987.26,236.36 990.83,234.51 994.4,231.44 997.97,228.15 1001.54,224.96 1005.11,221.91 1008.68,219.14 1012.25,216.53 1015.82,214.06 1019.39,211.69 1022.96,209.26 1026.53,206.8 1030.1,204.14 1033.67,201.12 1037.24,198.19 1040.81,195.59 1044.38,193.33 1047.95,191.58 1051.52,190.15 1055.09,189.18 1058.66,188.55 1062.23,187.96 1065.8,187.32 1069.37,186.63 1072.94,185.78 1076.51,184.85 1080.08,184 1083.65,183.21 1087.22,183.1 1090.79,184.08 1094.36,185.07 1097.93,185.74 1101.5,186.17 1105.07,185.83 1108.64,184.79 1112.21,184.15 1115.78,183.66 1119.35,183.53 1122.92,184.33 1126.49,185.04 1130.06,185.33 1133.63,185.49 1137.2,185.13 1140.77,184.39 1144.34,183.93 1147.91,184.23 1151.48,186.68 1155.05,193.09 1158.62,200.22 1162.19,210.73 1165.76,225.88 1169.33,244.86 1172.9,262.85 1176.47,277.18 1180.04,290.06 1183.61,300.22 1187.18,307.55 1190.75,311.64 1194.32,313.94 1197.89,315.08 1201.46,315.94 1205.03,316.61 1208.6,317.14 1212.17,317.63 1215.74,318.09 1219.31,318.49 1222.88,318.85 1226.45,319.18 1230.02,319.5 1233.59,319.81 1237.16,320.13"/>
<g fill="#fff" stroke="#8db3dd" stroke-width="1">
<circle cx="780.2" cy="230.3" r="6"/>
<circle cx="783.77" cy="229.38" r="6"/>
<circle cx="787.34" cy="228.41" r="6"/>
<circle cx="790.91" cy="227.77" r="6"/>
<circle cx="794.48" cy="227.84" r="6"/>
<circle cx="798.05" cy="228.58" r="6"/>
<circle cx="801.62" cy="229.62" r="6"/>
<circle cx="805.19" cy="230.61" r="6"/>
<circle cx="808.76" cy="231.17" r="6"/>
<circle cx="812.33" cy="230.98" r="6"/>
<circle cx="815.9" cy="230.18" r="6"/>
<circle cx="819.47" cy="229.13" r="6"/>
<circle cx="823.04" cy="228.18" r="6"/>
<circle cx="826.61" cy="227.71" r="6"/>
<circle cx="830.18" cy="227.98" r="6"/>
<circle cx="833.75" cy="228.82" r="6"/>
<circle cx="837.32" cy="229.97" r="6"/>
<circle cx="840.89" cy="231.12" r="6"/>
<circle cx="844.46" cy="232.01" r="6"/>
<circle cx="848.03" cy="232.63" r="6"/>
<circle cx="851.6" cy="233.17" r="6"/>
<circle cx="855.17" cy="233.67" r="6"/>
<circle cx="858.74" cy="234.16" r="6"/>
<circle cx="862.31" cy="234.68" r="6"/>
<circle cx="865.88" cy="235.32" r="6"/>
<circle cx="869.45" cy="236.03" r="6"/>
<circle cx="873.02" cy="236.67" r="6"/>
<circle cx="876.59" cy="237.1" r="6"/>
<circle cx="880.16" cy="237.18" r="6"/>
<circle cx="883.73" cy="236.92" r="6"/>
<circle cx="887.3" cy="236.4" r="6"/>
<circle cx="890.87" cy="235.75" r="6"/>
<circle cx="894.44" cy="235.06" r="6"/>
<circle cx="898.01" cy="234.43" r="6"/>
<circle cx="901.58" cy="233.98" r="6"/>
<circle cx="905.15" cy="233.8" r="6"/>
<circle cx="908.72" cy="233.91" r="6"/>
<circle cx="912.29" cy="234.2" r="6"/>
<circle cx="915.86" cy="234.64" r="6"/>
<circle cx="919.43" cy="235.19" r="6"/>
<circle cx="923" cy="235.8" r="6"/>
<circle cx="926.57" cy="236.42" r="6"/>
<circle cx="930.14" cy="237.03" r="6"/>
<circle cx="933.71" cy="237.69" r="6"/>
<circle cx="937.28" cy="238.56" r="6"/>
<circle cx="940.85" cy="239.36" r="6"/>
<circle cx="944.42" cy="239.79" r="6"/>
<circle cx="947.99" cy="239.73" r="6"/>
<circle cx="951.56" cy="239.48" r="6"/>
<circle cx="955.13" cy="239.12" r="6"/>
<circle cx="958.7" cy="238.72" r="6"/>
<circle cx="962.27" cy="238.36" r="6"/>
<circle cx="965.84" cy="238.1" r="6"/>
<circle cx="969.41" cy="237.97" r="6"/>
<circle cx="972.98" cy="237.89" r="6"/>
<circle cx="976.55" cy="237.81" r="6"/>
<circle cx="980.12" cy="237.68" r="6"/>
<circle cx="983.69" cy="237.46" r="6"/>
<circle cx="987.26" cy="236.36" r="6"/>
<circle cx="990.83" cy="234.51" r="6"/>
<circle cx="994.4" cy="231.44" r="6"/>
<circle cx="997.97" cy="228.15" r="6"/>
<circle cx="1001.54" cy="224.96" r="6"/>
<circle cx="1005.11" cy="221.91" r="6"/>
<circle cx="1008.68" cy="219.14" r="6"/>
<circle cx="1012.25" cy="216.53" r="6"/>
<circle cx="1015.82" cy="214.06" r="6"/>
<circle cx="1019.39" cy="211.69" r="6"/>
<circle cx="1022.96" cy="209.26" r="6"/>
<circle cx="1026.53" cy="206.8" r="6"/>
<circle cx="1030.1" cy="204.14" r="6"/>
<circle cx="1033.67" cy="201.12" r="6"/>
<circle cx="1037.24" cy="198.19" r="6"/>
<circle cx="1040.81" cy="195.59" r="6"/>
<circle cx="1044.38" cy="193.33" r="6"/>
<circle cx="1047.95" cy="191.58" r="6"/>
<circle cx="1051.52" cy="190.15" r="6"/>
<circle cx="1055.09" cy="189.18" r="6"/>
<circle cx="1058.66" cy="188.55" r="6"/>
<circle cx="1062.23" cy="187.96" r="6"/>
<circle cx="1065.8" cy="187.32" r="6"/>
<circle cx="1069.37" cy="186.63" r="6"/>
<circle cx="1072.94" cy="185.78" r="6"/>
<circle cx="1076.51" cy="184.85" r="6"/>
<circle cx="1080.08" cy="184" r="6"/>
<circle cx="1083.65" cy="183.21" r="6"/>
<circle cx="1087.22" cy="183.1" r="6"/>
<circle cx="1090.79" cy="184.08" r="6"/>
<circle cx="1094.36" cy="185.07" r="6"/>
<circle cx="1097.93" cy="185.74" r="6"/>
<circle cx="1101.5" cy="186.17" r="6"/>
<circle cx="1105.07" cy="185.83" r="6"/>
<circle cx="1108.64" cy="184.79" r="6"/>
<circle cx="1112.21" cy="184.15" r="6"/>
<circle cx="1115.78" cy="183.66" r="6"/>
<circle cx="1119.35" cy="183.53" r="6"/>
<circle cx="1122.92" cy="184.33" r="6"/>
<circle cx="1126.49" cy="185.04" r="6"/>
<circle cx="1130.06" cy="185.33" r="6"/>
<circle cx="1133.63" cy="185.49" r="6"/>
<circle cx="1137.2" cy="185.13" r="6"/>
<circle cx="1140.77" cy="184.39" r="6"/>
<circle cx="1144.34" cy="183.93" r="6"/>
<circle cx="1147.91" cy="184.23" r="6"/>
<circle cx="1151.48" cy="186.68" r="6"/>
<circle cx="1155.05" cy="193.09" r="6"/>
<circle cx="1158.62" cy="200.22" r="6"/>
<circle cx="1162.19" cy="210.73" r="6"/>
<circle cx="1165.76" cy="225.88" r="6"/>
<circle cx="1169.33" cy="244.86" r="6"/>
<circle cx="1172.9" cy="262.85" r="6"/>
<circle cx="1176.47" cy="277.18" r="6"/>
<circle cx="1180.04" cy="290.06" r="6"/>
<circle cx="1183.61" cy="300.22" r="6"/>
<circle cx="1187.18" cy="307.55" r="6"/>
<circle cx="1190.75" cy="311.64" r="6"/>
<circle cx="1194.32" cy="313.94" r="6"/>
<circle cx="1197.89" cy="315.08" r="6"/>
<circle cx="1201.46" cy="315.94" r="6"/>
<circle cx="1205.03" cy="316.61" r="6"/>
<circle cx="1208.6" cy="317.14" r="6"/>
<circle cx="1212.17" cy="317.63" r="6"/>
<circle cx="1215.74" cy="318.09" r="6"/>
<circle cx="1219.31" cy="318.49" r="6"/>
<circle cx="1222.88" cy="318.85" r="6"/>
<circle cx="1226.45" cy="319.18" r="6"/>
<circle cx="1230.02" cy="319.5" r="6"/>
<circle cx="1233.59" cy="319.81" r="6"/>
<circle cx="1237.16" cy="320.13" r="6"/>
</g>
</g>
<g clip-path="url(#cB1)">
<polyline fill="none" stroke="#1f8c8c" stroke-width="1" stroke-linejoin="round" points="780.2,500.5 783.77,500.5 787.34,500.5 790.91,500.5 794.48,500.47 798.05,500.3 801.62,500.06 805.19,499.83 808.76,499.71 812.33,499.75 815.9,499.93 819.47,500.17 823.04,500.39 826.61,500.5 830.18,500.34 833.75,499.83 837.32,499.14 840.89,498.44 844.46,497.89 848.03,497.5 851.6,497.15 855.17,496.82 858.74,496.49 862.31,496.15 865.88,495.8 869.45,495.45 873.02,495.1 876.59,494.75 880.16,494.39 883.73,494.04 887.3,493.7 890.87,493.33 894.44,492.94 898.01,492.51 901.58,492.05 905.15,491.54 908.72,490.99 912.29,490.38 915.86,489.7 919.43,488.92 923,488.05 926.57,487.11 930.14,486.11 933.71,485.04 937.28,483.87 940.85,482.61 944.42,481.28 947.99,479.9 951.56,478.5 955.13,477.05 958.7,475.47 962.27,473.67 965.84,471.67 969.41,469.15 972.98,465.17 976.55,458.55 980.12,450.42 983.69,445.46 987.26,439.7 990.83,433.79 994.4,425.15 997.97,417.35 999.8,415.5 1002.7,415.3 1006.2,409.1 1010.1,402.9 1013.8,405.6 1017.4,401.1 1020.9,405.6 1024.5,401.1 1028,402.4 1031.5,393.2 1035.4,394.1 1039,392.3 1042.5,388.7 1046.4,385.2 1050,379.9 1053.5,380.4 1057.1,379.3 1060.6,380.4 1064.2,387 1067.7,390.5 1071.3,384.7 1074.8,386.4 1078.3,385.2 1081.9,385.7 1085.8,386.1 1089.5,376.3 1093.1,383.4 1096.6,381.1 1100.1,385.2 1104,379.9 1107.6,383.4 1111.1,382.2 1114.7,382.5 1118.4,381.7 1121.9,385.2 1125.5,383.4 1129,385.2 1132.6,385.2 1136.1,376.3 1140,378.1 1143.6,379.9 1147.1,380.4 1150.7,375.4 1154.2,378.1 1157.7,373.3 1161.3,374.6 1164.8,371.9 1168.4,378.1 1171.9,371.5 1175.5,373.3 1179,372.8 1182.9,368.7 1186.5,376.3 1190,372.4 1193.5,378.1 1197.1,379.9 1200.8,382.2 1204.7,376.3 1208.3,377.2 1211.8,366.2 1215.7,367.5 1219.2,380.4 1222.8,376.9 1226.3,379.3 1229.9,376.3 1233.6,369.8 1236.6,374.6"/>
<g fill="#fff" stroke="#1f8c8c" stroke-width="1">
<circle cx="780.2" cy="500.5" r="3.2"/>
<circle cx="783.77" cy="500.5" r="3.2"/>
<circle cx="787.34" cy="500.5" r="3.2"/>
<circle cx="790.91" cy="500.5" r="3.2"/>
<circle cx="794.48" cy="500.47" r="3.2"/>
<circle cx="798.05" cy="500.3" r="3.2"/>
<circle cx="801.62" cy="500.06" r="3.2"/>
<circle cx="805.19" cy="499.83" r="3.2"/>
<circle cx="808.76" cy="499.71" r="3.2"/>
<circle cx="812.33" cy="499.75" r="3.2"/>
<circle cx="815.9" cy="499.93" r="3.2"/>
<circle cx="819.47" cy="500.17" r="3.2"/>
<circle cx="823.04" cy="500.39" r="3.2"/>
<circle cx="826.61" cy="500.5" r="3.2"/>
<circle cx="830.18" cy="500.34" r="3.2"/>
<circle cx="833.75" cy="499.83" r="3.2"/>
<circle cx="837.32" cy="499.14" r="3.2"/>
<circle cx="840.89" cy="498.44" r="3.2"/>
<circle cx="844.46" cy="497.89" r="3.2"/>
<circle cx="848.03" cy="497.5" r="3.2"/>
<circle cx="851.6" cy="497.15" r="3.2"/>
<circle cx="855.17" cy="496.82" r="3.2"/>
<circle cx="858.74" cy="496.49" r="3.2"/>
<circle cx="862.31" cy="496.15" r="3.2"/>
<circle cx="865.88" cy="495.8" r="3.2"/>
<circle cx="869.45" cy="495.45" r="3.2"/>
<circle cx="873.02" cy="495.1" r="3.2"/>
<circle cx="876.59" cy="494.75" r="3.2"/>
<circle cx="880.16" cy="494.39" r="3.2"/>
<circle cx="883.73" cy="494.04" r="3.2"/>
<circle cx="887.3" cy="493.7" r="3.2"/>
<circle cx="890.87" cy="493.33" r="3.2"/>
<circle cx="894.44" cy="492.94" r="3.2"/>
<circle cx="898.01" cy="492.51" r="3.2"/>
<circle cx="901.58" cy="492.05" r="3.2"/>
<circle cx="905.15" cy="491.54" r="3.2"/>
<circle cx="908.72" cy="490.99" r="3.2"/>
<circle cx="912.29" cy="490.38" r="3.2"/>
<circle cx="915.86" cy="489.7" r="3.2"/>
<circle cx="919.43" cy="488.92" r="3.2"/>
<circle cx="923" cy="488.05" r="3.2"/>
<circle cx="926.57" cy="487.11" r="3.2"/>
<circle cx="930.14" cy="486.11" r="3.2"/>
<circle cx="933.71" cy="485.04" r="3.2"/>
<circle cx="937.28" cy="483.87" r="3.2"/>
<circle cx="940.85" cy="482.61" r="3.2"/>
<circle cx="944.42" cy="481.28" r="3.2"/>
<circle cx="947.99" cy="479.9" r="3.2"/>
<circle cx="951.56" cy="478.5" r="3.2"/>
<circle cx="955.13" cy="477.05" r="3.2"/>
<circle cx="958.7" cy="475.47" r="3.2"/>
<circle cx="962.27" cy="473.67" r="3.2"/>
<circle cx="965.84" cy="471.67" r="3.2"/>
<circle cx="969.41" cy="469.15" r="3.2"/>
<circle cx="972.98" cy="465.17" r="3.2"/>
<circle cx="976.55" cy="458.55" r="3.2"/>
<circle cx="980.12" cy="450.42" r="3.2"/>
<circle cx="983.69" cy="445.46" r="3.2"/>
<circle cx="987.26" cy="439.7" r="3.2"/>
<circle cx="990.83" cy="433.79" r="3.2"/>
<circle cx="994.4" cy="425.15" r="3.2"/>
<circle cx="997.97" cy="417.35" r="3.2"/>
<circle cx="999.8" cy="415.5" r="3.2"/>
<circle cx="1002.7" cy="415.3" r="3.2"/>
<circle cx="1006.2" cy="409.1" r="3.2"/>
<circle cx="1010.1" cy="402.9" r="3.2"/>
<circle cx="1013.8" cy="405.6" r="3.2"/>
<circle cx="1017.4" cy="401.1" r="3.2"/>
<circle cx="1020.9" cy="405.6" r="3.2"/>
<circle cx="1024.5" cy="401.1" r="3.2"/>
<circle cx="1028" cy="402.4" r="3.2"/>
<circle cx="1031.5" cy="393.2" r="3.2"/>
<circle cx="1035.4" cy="394.1" r="3.2"/>
<circle cx="1039" cy="392.3" r="3.2"/>
<circle cx="1042.5" cy="388.7" r="3.2"/>
<circle cx="1046.4" cy="385.2" r="3.2"/>
<circle cx="1050" cy="379.9" r="3.2"/>
<circle cx="1053.5" cy="380.4" r="3.2"/>
<circle cx="1057.1" cy="379.3" r="3.2"/>
<circle cx="1060.6" cy="380.4" r="3.2"/>
<circle cx="1064.2" cy="387" r="3.2"/>
<circle cx="1067.7" cy="390.5" r="3.2"/>
<circle cx="1071.3" cy="384.7" r="3.2"/>
<circle cx="1074.8" cy="386.4" r="3.2"/>
<circle cx="1078.3" cy="385.2" r="3.2"/>
<circle cx="1081.9" cy="385.7" r="3.2"/>
<circle cx="1085.8" cy="386.1" r="3.2"/>
<circle cx="1089.5" cy="376.3" r="3.2"/>
<circle cx="1093.1" cy="383.4" r="3.2"/>
<circle cx="1096.6" cy="381.1" r="3.2"/>
<circle cx="1100.1" cy="385.2" r="3.2"/>
<circle cx="1104" cy="379.9" r="3.2"/>
<circle cx="1107.6" cy="383.4" r="3.2"/>
<circle cx="1111.1" cy="382.2" r="3.2"/>
<circle cx="1114.7" cy="382.5" r="3.2"/>
<circle cx="1118.4" cy="381.7" r="3.2"/>
<circle cx="1121.9" cy="385.2" r="3.2"/>
<circle cx="1125.5" cy="383.4" r="3.2"/>
<circle cx="1129" cy="385.2" r="3.2"/>
<circle cx="1132.6" cy="385.2" r="3.2"/>
<circle cx="1136.1" cy="376.3" r="3.2"/>
<circle cx="1140" cy="378.1" r="3.2"/>
<circle cx="1143.6" cy="379.9" r="3.2"/>
<circle cx="1147.1" cy="380.4" r="3.2"/>
<circle cx="1150.7" cy="375.4" r="3.2"/>
<circle cx="1154.2" cy="378.1" r="3.2"/>
<circle cx="1157.7" cy="373.3" r="3.2"/>
<circle cx="1161.3" cy="374.6" r="3.2"/>
<circle cx="1164.8" cy="371.9" r="3.2"/>
<circle cx="1168.4" cy="378.1" r="3.2"/>
<circle cx="1171.9" cy="371.5" r="3.2"/>
<circle cx="1175.5" cy="373.3" r="3.2"/>
<circle cx="1179" cy="372.8" r="3.2"/>
<circle cx="1182.9" cy="368.7" r="3.2"/>
<circle cx="1186.5" cy="376.3" r="3.2"/>
<circle cx="1190" cy="372.4" r="3.2"/>
<circle cx="1193.5" cy="378.1" r="3.2"/>
<circle cx="1197.1" cy="379.9" r="3.2"/>
<circle cx="1200.8" cy="382.2" r="3.2"/>
<circle cx="1204.7" cy="376.3" r="3.2"/>
<circle cx="1208.3" cy="377.2" r="3.2"/>
<circle cx="1211.8" cy="366.2" r="3.2"/>
<circle cx="1215.7" cy="367.5" r="3.2"/>
<circle cx="1219.2" cy="380.4" r="3.2"/>
<circle cx="1222.8" cy="376.9" r="3.2"/>
<circle cx="1226.3" cy="379.3" r="3.2"/>
<circle cx="1229.9" cy="376.3" r="3.2"/>
<circle cx="1233.6" cy="369.8" r="3.2"/>
<circle cx="1236.6" cy="374.6" r="3.2"/>
</g>
<polyline fill="none" stroke="#000" stroke-width="2.2" stroke-linejoin="round" points="776.5,405 779.9,412.9 783.3,440.7 787.1,454.5 790.6,429.9 794.4,425 797.9,440.3 801.4,476.2 804.9,391.7 808.7,402.8 812.3,369.9 816,454.5 819.6,432.3 822.9,458.9 826.5,471 830.2,440.3 834,458 837.5,439.8 841,404.6 844.8,440.7 848.2,462.9 851.7,462.4 855.2,461.5 859,454.9 862.6,442.4 866.5,458 869.8,470.2 873.4,463.6 877,467 880.5,458.9 884.3,451.9 887.8,460.6 891.6,457.7 895.1,465 898.6,474.5 902.2,456.6 905.7,472.8 909.5,466.7 913,458.9 916.8,464.1 920.4,457.7 923.9,456.6 927.4,462.4 930.8,455.9 934.7,455.4 938.1,459.4 942,463.2 945.4,458 949.1,464.6 952.4,468.8 955.8,467 959.5,463.2 963.3,458.4 966.8,466.7 970.2,459.7 973.7,459.7 977.2,464.6 981.2,464.6 985,464.1 988.5,466.3 991.9,463.6 995.4,461.5 998.9,461.5 1002.7,464.1 1006.2,460 1009.7,457.3 1013.8,461.4 1017.7,459.1 1021.3,462.3 1024.8,462.8 1028.4,463.2 1031.9,462.5 1035.4,461.9 1039.3,462.3 1042.5,469.7 1046.4,465.8 1049.8,464 1053.2,465.8 1057.1,457 1060.3,465.8 1064.2,465 1068.2,459.1 1071.3,462 1074.4,465 1078.9,460.9 1081.9,466.2 1084.5,463 1086.8,460.9 1089.5,462.5 1092.2,464.1 1096.6,466.2 1099.7,464 1102.8,462.3 1108.1,460.9 1111.5,461.5 1115.2,462.3 1118.8,460.5 1122.3,459.1 1125.8,456.1 1128.5,460 1131.2,463.2 1136.5,462.3 1140,456.1 1143.5,459 1147.1,461.4 1150.7,466.2 1154.2,466.5 1157.7,466.7 1160.4,464.5 1163.1,462.3 1168.4,457.9 1172,460 1175.5,461.9 1179,463 1182.6,464.1 1186.2,462.3 1189.7,460.5 1193.2,461.2 1196.7,461.9 1201.2,459.1 1204.3,460.7 1207.4,462.3 1211.8,459.1 1215.3,462.3 1218.5,460.5 1221.6,458.8 1225.1,462.5 1228.6,466.2 1234,462.3 1236.6,457"/>
<g fill="#fff" stroke="#000" stroke-width="1">
<circle cx="776.5" cy="405" r="3.3"/>
<circle cx="779.9" cy="412.9" r="3.3"/>
<circle cx="783.3" cy="440.7" r="3.3"/>
<circle cx="787.1" cy="454.5" r="3.3"/>
<circle cx="790.6" cy="429.9" r="3.3"/>
<circle cx="794.4" cy="425" r="3.3"/>
<circle cx="797.9" cy="440.3" r="3.3"/>
<circle cx="801.4" cy="476.2" r="3.3"/>
<circle cx="804.9" cy="391.7" r="3.3"/>
<circle cx="808.7" cy="402.8" r="3.3"/>
<circle cx="812.3" cy="369.9" r="3.3"/>
<circle cx="816" cy="454.5" r="3.3"/>
<circle cx="819.6" cy="432.3" r="3.3"/>
<circle cx="822.9" cy="458.9" r="3.3"/>
<circle cx="826.5" cy="471" r="3.3"/>
<circle cx="830.2" cy="440.3" r="3.3"/>
<circle cx="834" cy="458" r="3.3"/>
<circle cx="837.5" cy="439.8" r="3.3"/>
<circle cx="841" cy="404.6" r="3.3"/>
<circle cx="844.8" cy="440.7" r="3.3"/>
<circle cx="848.2" cy="462.9" r="3.3"/>
<circle cx="851.7" cy="462.4" r="3.3"/>
<circle cx="855.2" cy="461.5" r="3.3"/>
<circle cx="859" cy="454.9" r="3.3"/>
<circle cx="862.6" cy="442.4" r="3.3"/>
<circle cx="866.5" cy="458" r="3.3"/>
<circle cx="869.8" cy="470.2" r="3.3"/>
<circle cx="873.4" cy="463.6" r="3.3"/>
<circle cx="877" cy="467" r="3.3"/>
<circle cx="880.5" cy="458.9" r="3.3"/>
<circle cx="884.3" cy="451.9" r="3.3"/>
<circle cx="887.8" cy="460.6" r="3.3"/>
<circle cx="891.6" cy="457.7" r="3.3"/>
<circle cx="895.1" cy="465" r="3.3"/>
<circle cx="898.6" cy="474.5" r="3.3"/>
<circle cx="902.2" cy="456.6" r="3.3"/>
<circle cx="905.7" cy="472.8" r="3.3"/>
<circle cx="909.5" cy="466.7" r="3.3"/>
<circle cx="913" cy="458.9" r="3.3"/>
<circle cx="916.8" cy="464.1" r="3.3"/>
<circle cx="920.4" cy="457.7" r="3.3"/>
<circle cx="923.9" cy="456.6" r="3.3"/>
<circle cx="927.4" cy="462.4" r="3.3"/>
<circle cx="930.8" cy="455.9" r="3.3"/>
<circle cx="934.7" cy="455.4" r="3.3"/>
<circle cx="938.1" cy="459.4" r="3.3"/>
<circle cx="942" cy="463.2" r="3.3"/>
<circle cx="945.4" cy="458" r="3.3"/>
<circle cx="949.1" cy="464.6" r="3.3"/>
<circle cx="952.4" cy="468.8" r="3.3"/>
<circle cx="955.8" cy="467" r="3.3"/>
<circle cx="959.5" cy="463.2" r="3.3"/>
<circle cx="963.3" cy="458.4" r="3.3"/>
<circle cx="966.8" cy="466.7" r="3.3"/>
<circle cx="970.2" cy="459.7" r="3.3"/>
<circle cx="973.7" cy="459.7" r="3.3"/>
<circle cx="977.2" cy="464.6" r="3.3"/>
<circle cx="981.2" cy="464.6" r="3.3"/>
<circle cx="985" cy="464.1" r="3.3"/>
<circle cx="988.5" cy="466.3" r="3.3"/>
<circle cx="991.9" cy="463.6" r="3.3"/>
<circle cx="995.4" cy="461.5" r="3.3"/>
<circle cx="998.9" cy="461.5" r="3.3"/>
<circle cx="1002.7" cy="464.1" r="3.3"/>
<circle cx="1006.2" cy="460" r="3.3"/>
<circle cx="1009.7" cy="457.3" r="3.3"/>
<circle cx="1013.8" cy="461.4" r="3.3"/>
<circle cx="1017.7" cy="459.1" r="3.3"/>
<circle cx="1021.3" cy="462.3" r="3.3"/>
<circle cx="1024.8" cy="462.8" r="3.3"/>
<circle cx="1028.4" cy="463.2" r="3.3"/>
<circle cx="1031.9" cy="462.5" r="3.3"/>
<circle cx="1035.4" cy="461.9" r="3.3"/>
<circle cx="1039.3" cy="462.3" r="3.3"/>
<circle cx="1042.5" cy="469.7" r="3.3"/>
<circle cx="1046.4" cy="465.8" r="3.3"/>
<circle cx="1049.8" cy="464" r="3.3"/>
<circle cx="1053.2" cy="465.8" r="3.3"/>
<circle cx="1057.1" cy="457" r="3.3"/>
<circle cx="1060.3" cy="465.8" r="3.3"/>
<circle cx="1064.2" cy="465" r="3.3"/>
<circle cx="1068.2" cy="459.1" r="3.3"/>
<circle cx="1071.3" cy="462" r="3.3"/>
<circle cx="1074.4" cy="465" r="3.3"/>
<circle cx="1078.9" cy="460.9" r="3.3"/>
<circle cx="1081.9" cy="466.2" r="3.3"/>
<circle cx="1084.5" cy="463" r="3.3"/>
<circle cx="1086.8" cy="460.9" r="3.3"/>
<circle cx="1089.5" cy="462.5" r="3.3"/>
<circle cx="1092.2" cy="464.1" r="3.3"/>
<circle cx="1096.6" cy="466.2" r="3.3"/>
<circle cx="1099.7" cy="464" r="3.3"/>
<circle cx="1102.8" cy="462.3" r="3.3"/>
<circle cx="1108.1" cy="460.9" r="3.3"/>
<circle cx="1111.5" cy="461.5" r="3.3"/>
<circle cx="1115.2" cy="462.3" r="3.3"/>
<circle cx="1118.8" cy="460.5" r="3.3"/>
<circle cx="1122.3" cy="459.1" r="3.3"/>
<circle cx="1125.8" cy="456.1" r="3.3"/>
<circle cx="1128.5" cy="460" r="3.3"/>
<circle cx="1131.2" cy="463.2" r="3.3"/>
<circle cx="1136.5" cy="462.3" r="3.3"/>
<circle cx="1140" cy="456.1" r="3.3"/>
<circle cx="1143.5" cy="459" r="3.3"/>
<circle cx="1147.1" cy="461.4" r="3.3"/>
<circle cx="1150.7" cy="466.2" r="3.3"/>
<circle cx="1154.2" cy="466.5" r="3.3"/>
<circle cx="1157.7" cy="466.7" r="3.3"/>
<circle cx="1160.4" cy="464.5" r="3.3"/>
<circle cx="1163.1" cy="462.3" r="3.3"/>
<circle cx="1168.4" cy="457.9" r="3.3"/>
<circle cx="1172" cy="460" r="3.3"/>
<circle cx="1175.5" cy="461.9" r="3.3"/>
<circle cx="1179" cy="463" r="3.3"/>
<circle cx="1182.6" cy="464.1" r="3.3"/>
<circle cx="1186.2" cy="462.3" r="3.3"/>
<circle cx="1189.7" cy="460.5" r="3.3"/>
<circle cx="1193.2" cy="461.2" r="3.3"/>
<circle cx="1196.7" cy="461.9" r="3.3"/>
<circle cx="1201.2" cy="459.1" r="3.3"/>
<circle cx="1204.3" cy="460.7" r="3.3"/>
<circle cx="1207.4" cy="462.3" r="3.3"/>
<circle cx="1211.8" cy="459.1" r="3.3"/>
<circle cx="1215.3" cy="462.3" r="3.3"/>
<circle cx="1218.5" cy="460.5" r="3.3"/>
<circle cx="1221.6" cy="458.8" r="3.3"/>
<circle cx="1225.1" cy="462.5" r="3.3"/>
<circle cx="1228.6" cy="466.2" r="3.3"/>
<circle cx="1234" cy="462.3" r="3.3"/>
<circle cx="1236.6" cy="457" r="3.3"/>
</g>
</g>
<g clip-path="url(#cB2)">
<g fill="#fff" stroke="#0d8080" stroke-width="1.2">
<circle cx="776.5" cy="552" r="6"/>
<circle cx="780.07" cy="557.71" r="6"/>
<circle cx="783.64" cy="564.2" r="6"/>
<circle cx="787.21" cy="565.02" r="6"/>
<circle cx="790.78" cy="564.91" r="6"/>
<circle cx="794.35" cy="563.75" r="6"/>
<circle cx="797.92" cy="562.1" r="6"/>
<circle cx="801.49" cy="560.63" r="6"/>
<circle cx="805.06" cy="559.3" r="6"/>
<circle cx="808.63" cy="557.94" r="6"/>
<circle cx="812.2" cy="556.63" r="6"/>
<circle cx="815.77" cy="555.44" r="6"/>
<circle cx="819.34" cy="554.46" r="6"/>
<circle cx="822.91" cy="553.63" r="6"/>
<circle cx="826.48" cy="552.88" r="6"/>
<circle cx="830.05" cy="552.2" r="6"/>
<circle cx="833.62" cy="551.56" r="6"/>
<circle cx="837.19" cy="550.94" r="6"/>
<circle cx="840.76" cy="550.3" r="6"/>
<circle cx="844.33" cy="549.69" r="6"/>
<circle cx="847.9" cy="549.15" r="6"/>
<circle cx="851.47" cy="548.73" r="6"/>
<circle cx="855.04" cy="548.48" r="6"/>
<circle cx="858.61" cy="548.31" r="6"/>
<circle cx="862.18" cy="548.17" r="6"/>
<circle cx="865.75" cy="548.04" r="6"/>
<circle cx="869.32" cy="547.87" r="6"/>
<circle cx="872.89" cy="547.63" r="6"/>
<circle cx="876.46" cy="547.32" r="6"/>
<circle cx="880.03" cy="546.96" r="6"/>
<circle cx="883.6" cy="546.54" r="6"/>
<circle cx="887.17" cy="546.08" r="6"/>
<circle cx="890.74" cy="545.45" r="6"/>
<circle cx="894.31" cy="544.57" r="6"/>
<circle cx="897.88" cy="543.78" r="6"/>
<circle cx="901.45" cy="543.4" r="6"/>
<circle cx="905.02" cy="543.79" r="6"/>
<circle cx="908.59" cy="544.73" r="6"/>
<circle cx="912.16" cy="545.69" r="6"/>
<circle cx="915.73" cy="546.26" r="6"/>
<circle cx="919.3" cy="546.67" r="6"/>
<circle cx="922.87" cy="547.03" r="6"/>
<circle cx="926.44" cy="547.35" r="6"/>
<circle cx="930.01" cy="547.68" r="6"/>
<circle cx="933.58" cy="548.04" r="6"/>
<circle cx="937.15" cy="548.42" r="6"/>
<circle cx="940.72" cy="548.79" r="6"/>
<circle cx="944.29" cy="549.14" r="6"/>
<circle cx="947.86" cy="549.45" r="6"/>
<circle cx="951.43" cy="549.69" r="6"/>
<circle cx="955" cy="549.87" r="6"/>
<circle cx="958.57" cy="550.07" r="6"/>
<circle cx="962.14" cy="550.37" r="6"/>
<circle cx="965.71" cy="551.23" r="6"/>
<circle cx="969.28" cy="552.74" r="6"/>
<circle cx="972.85" cy="554.21" r="6"/>
<circle cx="976.42" cy="555.07" r="6"/>
<circle cx="979.99" cy="555.65" r="6"/>
<circle cx="983.56" cy="556.13" r="6"/>
<circle cx="987.13" cy="556.59" r="6"/>
<circle cx="990.7" cy="557.1" r="6"/>
<circle cx="994.27" cy="557.7" r="6"/>
<circle cx="997.84" cy="558.35" r="6"/>
<circle cx="1001.41" cy="559.23" r="6"/>
<circle cx="1004.98" cy="560.55" r="6"/>
<circle cx="1008.55" cy="562.31" r="6"/>
<circle cx="1012.12" cy="564.86" r="6"/>
<circle cx="1015.69" cy="568.03" r="6"/>
<circle cx="1019.26" cy="570.72" r="6"/>
<circle cx="1022.83" cy="573.25" r="6"/>
<circle cx="1026.4" cy="574.86" r="6"/>
<circle cx="1029.97" cy="575.42" r="6"/>
<circle cx="1033.54" cy="575.77" r="6"/>
<circle cx="1037.11" cy="576.03" r="6"/>
<circle cx="1040.68" cy="576.31" r="6"/>
<circle cx="1044.25" cy="576.69" r="6"/>
<circle cx="1047.82" cy="577.38" r="6"/>
<circle cx="1051.39" cy="578.32" r="6"/>
<circle cx="1054.96" cy="579.27" r="6"/>
<circle cx="1058.53" cy="580.01" r="6"/>
<circle cx="1062.1" cy="580.3" r="6"/>
<circle cx="1065.67" cy="580.3" r="6"/>
<circle cx="1069.24" cy="580.3" r="6"/>
<circle cx="1072.81" cy="580.3" r="6"/>
<circle cx="1076.38" cy="580.43" r="6"/>
<circle cx="1079.95" cy="581.19" r="6"/>
<circle cx="1083.52" cy="582.31" r="6"/>
<circle cx="1087.09" cy="583.42" r="6"/>
<circle cx="1090.66" cy="584.25" r="6"/>
<circle cx="1094.23" cy="585" r="6"/>
<circle cx="1097.8" cy="585.72" r="6"/>
<circle cx="1101.37" cy="586.43" r="6"/>
<circle cx="1104.94" cy="587.13" r="6"/>
<circle cx="1108.51" cy="587.83" r="6"/>
<circle cx="1112.08" cy="588.52" r="6"/>
<circle cx="1115.65" cy="589.19" r="6"/>
<circle cx="1119.22" cy="589.88" r="6"/>
<circle cx="1122.79" cy="590.62" r="6"/>
<circle cx="1126.36" cy="591.39" r="6"/>
<circle cx="1129.93" cy="592.19" r="6"/>
<circle cx="1133.5" cy="593.02" r="6"/>
<circle cx="1137.07" cy="593.93" r="6"/>
<circle cx="1140.64" cy="594.94" r="6"/>
<circle cx="1144.21" cy="596.16" r="6"/>
<circle cx="1147.78" cy="597.65" r="6"/>
<circle cx="1151.35" cy="599.18" r="6"/>
<circle cx="1154.92" cy="600.98" r="6"/>
<circle cx="1158.49" cy="602.79" r="6"/>
<circle cx="1162.06" cy="604.03" r="6"/>
<circle cx="1165.63" cy="604.44" r="6"/>
<circle cx="1169.2" cy="604.67" r="6"/>
<circle cx="1172.77" cy="604.84" r="6"/>
<circle cx="1176.34" cy="605.04" r="6"/>
<circle cx="1179.91" cy="605.35" r="6"/>
<circle cx="1183.48" cy="605.79" r="6"/>
<circle cx="1187.05" cy="606.23" r="6"/>
<circle cx="1190.62" cy="606.6" r="6"/>
<circle cx="1194.19" cy="606.79" r="6"/>
<circle cx="1197.76" cy="606.8" r="6"/>
<circle cx="1201.33" cy="606.8" r="6"/>
<circle cx="1204.9" cy="606.8" r="6"/>
<circle cx="1208.47" cy="606.8" r="6"/>
<circle cx="1212.04" cy="606.8" r="6"/>
<circle cx="1215.61" cy="606.8" r="6"/>
<circle cx="1219.18" cy="606.8" r="6"/>
<circle cx="1222.75" cy="606.8" r="6"/>
<circle cx="1226.32" cy="606.8" r="6"/>
<circle cx="1229.89" cy="606.8" r="6"/>
<circle cx="1233.46" cy="606.8" r="6"/>
<circle cx="1237.03" cy="606.8" r="6"/>
</g>
<polyline fill="none" stroke="#000" stroke-width="1" stroke-linejoin="round" points="773,548 776.4,573.5 780.2,598.6 783.6,624 787,639.7 787,639.7 790.57,645.32 794.14,650.46 797.71,654.64 801.28,657.84 804.85,659.89 808.42,661.27 811.99,661.06 815.56,659.8 819.13,658.71 822.7,657.74 826.27,657.13 829.84,657.56 833.41,658.68 836.98,659.22 840.55,659.55 844.12,659.7 847.69,658.58 851.26,656.6 854.83,656.31 858.4,656.93 861.97,657.5 865.54,657.7 869.11,657.88 872.68,658.55 876.25,660.22 879.82,661.81 883.39,663.45 886.96,663.82 890.53,661.26 894.1,659.78 897.67,658.07 901.24,655.01 904.81,653.7 908.38,657.36 911.95,661.28 915.52,662 919.09,660.28 922.66,658.82 926.23,657.83 929.8,657.17 933.37,657.29 936.94,658.03 940.51,658.53 944.08,658.64 947.65,658.75 951.22,659.48 954.79,660.93 958.36,662.27 961.93,663.18 965.5,661.73 969.07,659.42 972.64,657.51 976.21,657.14 979.78,657.37 983.35,657.5 986.92,657.34 990.49,657.13 994.06,657.49 997.63,659.12 1001.2,660.49 1004.77,658.5 1008.34,660.94 1011.91,661.76 1015.48,661.33 1019.05,660.39 1022.62,658.19 1026.19,656.41 1029.76,655.61 1033.33,655.92 1036.9,655.9 1040.47,655.6 1044.04,657.41 1047.61,660.29 1051.18,662.67 1054.75,662.86 1058.32,663.03 1061.89,663.84 1065.46,664.5 1069.03,663.38 1072.6,661.81 1076.17,660.61 1079.74,660 1083.31,661.61 1086.88,663.92 1090.45,663.92 1094.02,662.08 1097.59,660.88 1101.16,660.43 1104.73,660.12 1108.3,659.73 1111.87,659.29 1115.44,659.11 1119.01,660.47 1122.58,662.33 1126.15,664.24 1129.72,663.6 1133.29,660.83 1136.86,658.68 1140.43,657.76 1144,657.47 1147.57,657.41 1151.14,658.03 1154.71,659.8 1158.28,661.36 1161.85,662.44 1165.42,663.56 1168.99,664.42 1172.56,661.97 1176.13,659.85 1179.7,658.32 1183.27,659.09 1186.84,660.71 1190.41,662.09 1193.98,663.57 1197.55,665.32 1201.12,666.15 1204.69,665.32 1208.26,664.58 1211.83,663.85 1215.4,662.23 1218.97,660.01 1222.54,658.09 1226.11,657.87 1229.68,663.45 1233.25,668.19"/>
<g fill="#fff" stroke="#000" stroke-width="1.3">
<circle cx="773" cy="548" r="6.2"/>
<circle cx="776.4" cy="573.5" r="6.2"/>
<circle cx="780.2" cy="598.6" r="6.2"/>
<circle cx="783.6" cy="624" r="6.2"/>
<circle cx="787" cy="639.7" r="6.2"/>
<circle cx="787" cy="639.7" r="6.2"/>
<circle cx="790.57" cy="645.32" r="6.2"/>
<circle cx="794.14" cy="650.46" r="6.2"/>
<circle cx="797.71" cy="654.64" r="6.2"/>
<circle cx="801.28" cy="657.84" r="6.2"/>
<circle cx="804.85" cy="659.89" r="6.2"/>
<circle cx="808.42" cy="661.27" r="6.2"/>
<circle cx="811.99" cy="661.06" r="6.2"/>
<circle cx="815.56" cy="659.8" r="6.2"/>
<circle cx="819.13" cy="658.71" r="6.2"/>
<circle cx="822.7" cy="657.74" r="6.2"/>
<circle cx="826.27" cy="657.13" r="6.2"/>
<circle cx="829.84" cy="657.56" r="6.2"/>
<circle cx="833.41" cy="658.68" r="6.2"/>
<circle cx="836.98" cy="659.22" r="6.2"/>
<circle cx="840.55" cy="659.55" r="6.2"/>
<circle cx="844.12" cy="659.7" r="6.2"/>
<circle cx="847.69" cy="658.58" r="6.2"/>
<circle cx="851.26" cy="656.6" r="6.2"/>
<circle cx="854.83" cy="656.31" r="6.2"/>
<circle cx="858.4" cy="656.93" r="6.2"/>
<circle cx="861.97" cy="657.5" r="6.2"/>
<circle cx="865.54" cy="657.7" r="6.2"/>
<circle cx="869.11" cy="657.88" r="6.2"/>
<circle cx="872.68" cy="658.55" r="6.2"/>
<circle cx="876.25" cy="660.22" r="6.2"/>
<circle cx="879.82" cy="661.81" r="6.2"/>
<circle cx="883.39" cy="663.45" r="6.2"/>
<circle cx="886.96" cy="663.82" r="6.2"/>
<circle cx="890.53" cy="661.26" r="6.2"/>
<circle cx="894.1" cy="659.78" r="6.2"/>
<circle cx="897.67" cy="658.07" r="6.2"/>
<circle cx="901.24" cy="655.01" r="6.2"/>
<circle cx="904.81" cy="653.7" r="6.2"/>
<circle cx="908.38" cy="657.36" r="6.2"/>
<circle cx="911.95" cy="661.28" r="6.2"/>
<circle cx="915.52" cy="662" r="6.2"/>
<circle cx="919.09" cy="660.28" r="6.2"/>
<circle cx="922.66" cy="658.82" r="6.2"/>
<circle cx="926.23" cy="657.83" r="6.2"/>
<circle cx="929.8" cy="657.17" r="6.2"/>
<circle cx="933.37" cy="657.29" r="6.2"/>
<circle cx="936.94" cy="658.03" r="6.2"/>
<circle cx="940.51" cy="658.53" r="6.2"/>
<circle cx="944.08" cy="658.64" r="6.2"/>
<circle cx="947.65" cy="658.75" r="6.2"/>
<circle cx="951.22" cy="659.48" r="6.2"/>
<circle cx="954.79" cy="660.93" r="6.2"/>
<circle cx="958.36" cy="662.27" r="6.2"/>
<circle cx="961.93" cy="663.18" r="6.2"/>
<circle cx="965.5" cy="661.73" r="6.2"/>
<circle cx="969.07" cy="659.42" r="6.2"/>
<circle cx="972.64" cy="657.51" r="6.2"/>
<circle cx="976.21" cy="657.14" r="6.2"/>
<circle cx="979.78" cy="657.37" r="6.2"/>
<circle cx="983.35" cy="657.5" r="6.2"/>
<circle cx="986.92" cy="657.34" r="6.2"/>
<circle cx="990.49" cy="657.13" r="6.2"/>
<circle cx="994.06" cy="657.49" r="6.2"/>
<circle cx="997.63" cy="659.12" r="6.2"/>
<circle cx="1001.2" cy="660.49" r="6.2"/>
<circle cx="1004.77" cy="658.5" r="6.2"/>
<circle cx="1008.34" cy="660.94" r="6.2"/>
<circle cx="1011.91" cy="661.76" r="6.2"/>
<circle cx="1015.48" cy="661.33" r="6.2"/>
<circle cx="1019.05" cy="660.39" r="6.2"/>
<circle cx="1022.62" cy="658.19" r="6.2"/>
<circle cx="1026.19" cy="656.41" r="6.2"/>
<circle cx="1029.76" cy="655.61" r="6.2"/>
<circle cx="1033.33" cy="655.92" r="6.2"/>
<circle cx="1036.9" cy="655.9" r="6.2"/>
<circle cx="1040.47" cy="655.6" r="6.2"/>
<circle cx="1044.04" cy="657.41" r="6.2"/>
<circle cx="1047.61" cy="660.29" r="6.2"/>
<circle cx="1051.18" cy="662.67" r="6.2"/>
<circle cx="1054.75" cy="662.86" r="6.2"/>
<circle cx="1058.32" cy="663.03" r="6.2"/>
<circle cx="1061.89" cy="663.84" r="6.2"/>
<circle cx="1065.46" cy="664.5" r="6.2"/>
<circle cx="1069.03" cy="663.38" r="6.2"/>
<circle cx="1072.6" cy="661.81" r="6.2"/>
<circle cx="1076.17" cy="660.61" r="6.2"/>
<circle cx="1079.74" cy="660" r="6.2"/>
<circle cx="1083.31" cy="661.61" r="6.2"/>
<circle cx="1086.88" cy="663.92" r="6.2"/>
<circle cx="1090.45" cy="663.92" r="6.2"/>
<circle cx="1094.02" cy="662.08" r="6.2"/>
<circle cx="1097.59" cy="660.88" r="6.2"/>
<circle cx="1101.16" cy="660.43" r="6.2"/>
<circle cx="1104.73" cy="660.12" r="6.2"/>
<circle cx="1108.3" cy="659.73" r="6.2"/>
<circle cx="1111.87" cy="659.29" r="6.2"/>
<circle cx="1115.44" cy="659.11" r="6.2"/>
<circle cx="1119.01" cy="660.47" r="6.2"/>
<circle cx="1122.58" cy="662.33" r="6.2"/>
<circle cx="1126.15" cy="664.24" r="6.2"/>
<circle cx="1129.72" cy="663.6" r="6.2"/>
<circle cx="1133.29" cy="660.83" r="6.2"/>
<circle cx="1136.86" cy="658.68" r="6.2"/>
<circle cx="1140.43" cy="657.76" r="6.2"/>
<circle cx="1144" cy="657.47" r="6.2"/>
<circle cx="1147.57" cy="657.41" r="6.2"/>
<circle cx="1151.14" cy="658.03" r="6.2"/>
<circle cx="1154.71" cy="659.8" r="6.2"/>
<circle cx="1158.28" cy="661.36" r="6.2"/>
<circle cx="1161.85" cy="662.44" r="6.2"/>
<circle cx="1165.42" cy="663.56" r="6.2"/>
<circle cx="1168.99" cy="664.42" r="6.2"/>
<circle cx="1172.56" cy="661.97" r="6.2"/>
<circle cx="1176.13" cy="659.85" r="6.2"/>
<circle cx="1179.7" cy="658.32" r="6.2"/>
<circle cx="1183.27" cy="659.09" r="6.2"/>
<circle cx="1186.84" cy="660.71" r="6.2"/>
<circle cx="1190.41" cy="662.09" r="6.2"/>
<circle cx="1193.98" cy="663.57" r="6.2"/>
<circle cx="1197.55" cy="665.32" r="6.2"/>
<circle cx="1201.12" cy="666.15" r="6.2"/>
<circle cx="1204.69" cy="665.32" r="6.2"/>
<circle cx="1208.26" cy="664.58" r="6.2"/>
<circle cx="1211.83" cy="663.85" r="6.2"/>
<circle cx="1215.4" cy="662.23" r="6.2"/>
<circle cx="1218.97" cy="660.01" r="6.2"/>
<circle cx="1222.54" cy="658.09" r="6.2"/>
<circle cx="1226.11" cy="657.87" r="6.2"/>
<circle cx="1229.68" cy="663.45" r="6.2"/>
<circle cx="1233.25" cy="668.19" r="6.2"/>
</g>
</g>
<g clip-path="url(#cB3)">
<g fill="#fff" stroke="#fdbe18" stroke-width="1.1">
<circle cx="777" cy="780" r="6"/>
<circle cx="780.57" cy="782.87" r="6"/>
<circle cx="784.14" cy="785.7" r="6"/>
<circle cx="787.71" cy="789.39" r="6"/>
<circle cx="791.28" cy="793.65" r="6"/>
<circle cx="794.85" cy="796.26" r="6"/>
<circle cx="798.42" cy="798.2" r="6"/>
<circle cx="801.99" cy="799.02" r="6"/>
<circle cx="805.56" cy="799.38" r="6"/>
<circle cx="809.13" cy="799.63" r="6"/>
<circle cx="812.7" cy="799.78" r="6"/>
<circle cx="816.27" cy="799.77" r="6"/>
<circle cx="819.84" cy="799.41" r="6"/>
<circle cx="823.41" cy="798.81" r="6"/>
<circle cx="826.98" cy="798.12" r="6"/>
<circle cx="830.55" cy="797.27" r="6"/>
<circle cx="834.12" cy="796.13" r="6"/>
<circle cx="837.69" cy="794.87" r="6"/>
<circle cx="841.26" cy="793.68" r="6"/>
<circle cx="844.83" cy="792.7" r="6"/>
<circle cx="848.4" cy="791.93" r="6"/>
<circle cx="851.97" cy="791.26" r="6"/>
<circle cx="855.54" cy="790.63" r="6"/>
<circle cx="859.11" cy="789.96" r="6"/>
<circle cx="862.68" cy="789.2" r="6"/>
<circle cx="866.25" cy="788.37" r="6"/>
<circle cx="869.82" cy="787.48" r="6"/>
<circle cx="873.39" cy="786.55" r="6"/>
<circle cx="876.96" cy="785.59" r="6"/>
<circle cx="880.53" cy="784.55" r="6"/>
<circle cx="884.1" cy="783.27" r="6"/>
<circle cx="887.67" cy="782.41" r="6"/>
<circle cx="891.24" cy="782.17" r="6"/>
<circle cx="894.81" cy="782.04" r="6"/>
<circle cx="898.38" cy="781.94" r="6"/>
<circle cx="901.95" cy="781.81" r="6"/>
<circle cx="905.52" cy="781.57" r="6"/>
<circle cx="909.09" cy="780.93" r="6"/>
<circle cx="912.66" cy="779.81" r="6"/>
<circle cx="916.23" cy="778.37" r="6"/>
<circle cx="919.8" cy="776.75" r="6"/>
<circle cx="923.37" cy="775.09" r="6"/>
<circle cx="926.94" cy="773.13" r="6"/>
<circle cx="930.51" cy="770.84" r="6"/>
<circle cx="934.08" cy="768.35" r="6"/>
<circle cx="937.65" cy="765.79" r="6"/>
<circle cx="941.22" cy="763.29" r="6"/>
<circle cx="944.79" cy="760.82" r="6"/>
<circle cx="948.36" cy="758.25" r="6"/>
<circle cx="951.93" cy="755.43" r="6"/>
<circle cx="955.5" cy="752.14" r="6"/>
<circle cx="959.07" cy="748.13" r="6"/>
<circle cx="962.64" cy="744.03" r="6"/>
<circle cx="966.21" cy="740.04" r="6"/>
<circle cx="969.78" cy="736.1" r="6"/>
<circle cx="973.35" cy="732.1" r="6"/>
<circle cx="976.92" cy="727.98" r="6"/>
<circle cx="980.49" cy="725.78" r="6"/>
<circle cx="984.06" cy="724.81" r="6"/>
<circle cx="987.63" cy="724.32" r="6"/>
<circle cx="991.2" cy="725.1" r="6"/>
<circle cx="994.77" cy="727.4" r="6"/>
<circle cx="998.34" cy="729.46" r="6"/>
<circle cx="1001.91" cy="734.82" r="6"/>
<circle cx="1005.48" cy="755.31" r="6"/>
<circle cx="1009.05" cy="769.02" r="6"/>
<circle cx="1012.62" cy="781.03" r="6"/>
<circle cx="1016.19" cy="791.96" r="6"/>
<circle cx="1019.76" cy="802.87" r="6"/>
<circle cx="1023.33" cy="814.98" r="6"/>
<circle cx="1026.9" cy="824.59" r="6"/>
<circle cx="1030.47" cy="833.45" r="6"/>
<circle cx="1034.04" cy="841.3" r="6"/>
<circle cx="1037.61" cy="848.28" r="6"/>
<circle cx="1041.18" cy="853.09" r="6"/>
<circle cx="1044.75" cy="856.19" r="6"/>
<circle cx="1048.32" cy="857.64" r="6"/>
<circle cx="1051.89" cy="858.22" r="6"/>
<circle cx="1055.46" cy="858.63" r="6"/>
<circle cx="1059.03" cy="858.89" r="6"/>
<circle cx="1062.6" cy="859.01" r="6"/>
<circle cx="1066.17" cy="859.08" r="6"/>
<circle cx="1069.74" cy="859.13" r="6"/>
<circle cx="1073.31" cy="859.17" r="6"/>
<circle cx="1076.88" cy="859.2" r="6"/>
<circle cx="1080.45" cy="859.23" r="6"/>
<circle cx="1084.02" cy="859.26" r="6"/>
<circle cx="1087.59" cy="859.29" r="6"/>
<circle cx="1091.16" cy="859.33" r="6"/>
<circle cx="1094.73" cy="859.36" r="6"/>
<circle cx="1098.3" cy="859.38" r="6"/>
<circle cx="1101.87" cy="859.41" r="6"/>
<circle cx="1105.44" cy="859.43" r="6"/>
<circle cx="1109.01" cy="859.45" r="6"/>
<circle cx="1112.58" cy="859.47" r="6"/>
<circle cx="1116.15" cy="859.5" r="6"/>
<circle cx="1119.72" cy="859.52" r="6"/>
<circle cx="1123.29" cy="859.55" r="6"/>
<circle cx="1126.86" cy="859.58" r="6"/>
<circle cx="1130.43" cy="859.62" r="6"/>
<circle cx="1134" cy="859.67" r="6"/>
<circle cx="1137.57" cy="859.72" r="6"/>
<circle cx="1141.14" cy="859.79" r="6"/>
<circle cx="1144.71" cy="859.95" r="6"/>
<circle cx="1148.28" cy="860.34" r="6"/>
<circle cx="1151.85" cy="860.88" r="6"/>
<circle cx="1155.42" cy="861.45" r="6"/>
<circle cx="1158.99" cy="861.98" r="6"/>
<circle cx="1162.56" cy="862.37" r="6"/>
<circle cx="1166.13" cy="862.53" r="6"/>
<circle cx="1169.7" cy="862.62" r="6"/>
<circle cx="1173.27" cy="862.71" r="6"/>
<circle cx="1176.84" cy="862.78" r="6"/>
<circle cx="1180.41" cy="862.85" r="6"/>
<circle cx="1183.98" cy="862.91" r="6"/>
<circle cx="1187.55" cy="862.96" r="6"/>
<circle cx="1191.12" cy="863.01" r="6"/>
<circle cx="1194.69" cy="863.05" r="6"/>
<circle cx="1198.26" cy="863.09" r="6"/>
<circle cx="1201.83" cy="863.13" r="6"/>
<circle cx="1205.4" cy="863.16" r="6"/>
<circle cx="1208.97" cy="863.2" r="6"/>
<circle cx="1212.54" cy="863.23" r="6"/>
<circle cx="1216.11" cy="863.26" r="6"/>
<circle cx="1219.68" cy="863.29" r="6"/>
<circle cx="1223.25" cy="863.32" r="6"/>
<circle cx="1226.82" cy="863.35" r="6"/>
<circle cx="1230.39" cy="863.39" r="6"/>
<circle cx="1233.96" cy="863.43" r="6"/>
<circle cx="1237.53" cy="863.47" r="6"/>
</g>
<g fill="#fff" stroke="#000" stroke-width="1.3">
<circle cx="776" cy="787" r="7"/>
<circle cx="779.57" cy="780.86" r="7"/>
<circle cx="783.14" cy="763.47" r="7"/>
<circle cx="786.71" cy="755.28" r="7"/>
<circle cx="790.28" cy="750.5" r="7"/>
<circle cx="793.85" cy="747.15" r="7"/>
<circle cx="797.42" cy="743.11" r="7"/>
<circle cx="800.99" cy="739.33" r="7"/>
<circle cx="804.56" cy="737.6" r="7"/>
<circle cx="808.13" cy="736.77" r="7"/>
<circle cx="811.7" cy="735.81" r="7"/>
<circle cx="815.27" cy="734.65" r="7"/>
<circle cx="818.84" cy="733.87" r="7"/>
<circle cx="822.41" cy="733.8" r="7"/>
<circle cx="825.98" cy="733.8" r="7"/>
<circle cx="829.55" cy="733.8" r="7"/>
<circle cx="833.12" cy="733.4" r="7"/>
<circle cx="836.69" cy="732.15" r="7"/>
<circle cx="840.26" cy="731.24" r="7"/>
<circle cx="843.83" cy="731.61" r="7"/>
<circle cx="847.4" cy="732.92" r="7"/>
<circle cx="850.97" cy="734.52" r="7"/>
<circle cx="854.54" cy="736.6" r="7"/>
<circle cx="858.11" cy="736.55" r="7"/>
<circle cx="861.68" cy="732.25" r="7"/>
<circle cx="865.25" cy="731.4" r="7"/>
<circle cx="868.82" cy="732.69" r="7"/>
<circle cx="872.39" cy="734.23" r="7"/>
<circle cx="875.96" cy="735.22" r="7"/>
<circle cx="879.53" cy="736.12" r="7"/>
<circle cx="883.1" cy="736.87" r="7"/>
<circle cx="886.67" cy="737.27" r="7"/>
<circle cx="890.24" cy="737.03" r="7"/>
<circle cx="893.81" cy="735.93" r="7"/>
<circle cx="897.38" cy="734.58" r="7"/>
<circle cx="900.95" cy="733.58" r="7"/>
<circle cx="904.52" cy="732.77" r="7"/>
<circle cx="908.09" cy="732.02" r="7"/>
<circle cx="911.66" cy="731.44" r="7"/>
<circle cx="915.23" cy="731.09" r="7"/>
<circle cx="918.8" cy="730.9" r="7"/>
<circle cx="922.37" cy="730.76" r="7"/>
<circle cx="925.94" cy="730.55" r="7"/>
<circle cx="929.51" cy="730.01" r="7"/>
<circle cx="933.08" cy="728.42" r="7"/>
<circle cx="936.65" cy="726.71" r="7"/>
<circle cx="940.22" cy="726" r="7"/>
<circle cx="943.79" cy="726.22" r="7"/>
<circle cx="947.36" cy="726.6" r="7"/>
<circle cx="950.93" cy="726.88" r="7"/>
<circle cx="954.5" cy="726.64" r="7"/>
<circle cx="958.07" cy="725.65" r="7"/>
<circle cx="961.64" cy="724.5" r="7"/>
<circle cx="965.21" cy="723.46" r="7"/>
<circle cx="968.78" cy="722.33" r="7"/>
<circle cx="972.35" cy="721.71" r="7"/>
<circle cx="975.92" cy="722.58" r="7"/>
<circle cx="979.49" cy="725" r="7"/>
<circle cx="983.06" cy="727.65" r="7"/>
<circle cx="986.63" cy="729.88" r="7"/>
<circle cx="990.2" cy="732.34" r="7"/>
<circle cx="993.77" cy="735.63" r="7"/>
<circle cx="997.34" cy="740.04" r="7"/>
<circle cx="1000.91" cy="743.22" r="7"/>
<circle cx="1004.48" cy="746.08" r="7"/>
<circle cx="1008.05" cy="754.07" r="7"/>
<circle cx="1011.62" cy="761.54" r="7"/>
<circle cx="1015.19" cy="767.38" r="7"/>
<circle cx="1018.76" cy="773.98" r="7"/>
<circle cx="1022.33" cy="784.31" r="7"/>
<circle cx="1025.9" cy="795.54" r="7"/>
<circle cx="1029.47" cy="806.41" r="7"/>
<circle cx="1033.04" cy="816.44" r="7"/>
<circle cx="1036.61" cy="825.05" r="7"/>
<circle cx="1040.18" cy="834.55" r="7"/>
<circle cx="1043.75" cy="842.26" r="7"/>
<circle cx="1047.32" cy="849.26" r="7"/>
<circle cx="1050.89" cy="854.37" r="7"/>
<circle cx="1054.46" cy="857.9" r="7"/>
<circle cx="1058.03" cy="860.25" r="7"/>
<circle cx="1061.6" cy="861.11" r="7"/>
<circle cx="1065.17" cy="861.69" r="7"/>
<circle cx="1068.74" cy="862.06" r="7"/>
<circle cx="1072.31" cy="862.27" r="7"/>
<circle cx="1075.88" cy="862.43" r="7"/>
<circle cx="1079.45" cy="862.57" r="7"/>
<circle cx="1083.02" cy="862.7" r="7"/>
<circle cx="1086.59" cy="862.81" r="7"/>
<circle cx="1090.16" cy="862.9" r="7"/>
<circle cx="1093.73" cy="862.98" r="7"/>
<circle cx="1097.3" cy="863.04" r="7"/>
<circle cx="1100.87" cy="863.08" r="7"/>
<circle cx="1104.44" cy="863.1" r="7"/>
<circle cx="1108.01" cy="863.1" r="7"/>
<circle cx="1111.58" cy="863.1" r="7"/>
<circle cx="1115.15" cy="863.1" r="7"/>
<circle cx="1118.72" cy="863.1" r="7"/>
<circle cx="1122.29" cy="863.1" r="7"/>
<circle cx="1125.86" cy="863.1" r="7"/>
<circle cx="1129.43" cy="863.1" r="7"/>
<circle cx="1133" cy="863.1" r="7"/>
<circle cx="1136.57" cy="863.1" r="7"/>
<circle cx="1140.14" cy="863.1" r="7"/>
<circle cx="1143.71" cy="863.1" r="7"/>
<circle cx="1147.28" cy="863.1" r="7"/>
<circle cx="1150.85" cy="863.1" r="7"/>
<circle cx="1154.42" cy="863.1" r="7"/>
<circle cx="1157.99" cy="863.1" r="7"/>
<circle cx="1161.56" cy="863.1" r="7"/>
<circle cx="1165.13" cy="863.1" r="7"/>
<circle cx="1168.7" cy="863.1" r="7"/>
<circle cx="1172.27" cy="863.1" r="7"/>
<circle cx="1175.84" cy="863.1" r="7"/>
<circle cx="1179.41" cy="863.1" r="7"/>
<circle cx="1182.98" cy="863.1" r="7"/>
<circle cx="1186.55" cy="863.1" r="7"/>
<circle cx="1190.12" cy="863.1" r="7"/>
<circle cx="1193.69" cy="863.1" r="7"/>
<circle cx="1197.26" cy="863.1" r="7"/>
<circle cx="1200.83" cy="863.1" r="7"/>
<circle cx="1204.4" cy="863.1" r="7"/>
<circle cx="1207.97" cy="863.1" r="7"/>
<circle cx="1211.54" cy="863.1" r="7"/>
<circle cx="1215.11" cy="863.1" r="7"/>
<circle cx="1218.68" cy="863.1" r="7"/>
<circle cx="1222.25" cy="863.1" r="7"/>
<circle cx="1225.82" cy="863.1" r="7"/>
<circle cx="1229.39" cy="863.1" r="7"/>
<circle cx="1232.96" cy="863.1" r="7"/>
<circle cx="1236.53" cy="863.1" r="7"/>
</g>
</g>
<g clip-path="url(#cB4)">
<polyline fill="none" stroke="#4d7db6" stroke-width="1.2" stroke-linejoin="round" points="779.3,1001.5 783.3,980.3 786.8,969.9 790.6,973.4 794.4,989.3 797.9,1004.1 801.4,1017.1 805,1029.6 808.8,1035.8 812.3,1037.9 815.87,1038.56 819.44,1038.86 823.01,1039.06 826.58,1039.21 830.15,1039.33 833.72,1039.43 837.29,1039.52 840.86,1039.61 844.43,1039.7 848,1039.8 851.57,1039.91 855.14,1040.03 858.71,1040.13 862.28,1040.24 865.85,1040.33 869.42,1040.4 872.99,1040.46 876.56,1040.49 880.13,1040.5 883.7,1040.5 887.27,1040.5 890.84,1040.5 894.41,1040.5 897.98,1040.5 901.55,1040.5 905.12,1040.5 908.69,1040.5 912.26,1040.5 915.83,1040.51 919.4,1040.56 922.97,1040.66 926.54,1040.77 930.11,1040.91 933.68,1041.05 937.25,1041.18 940.82,1041.29 944.39,1041.37 947.96,1041.4 951.53,1041.4 955.1,1041.4 958.67,1041.4 962.24,1041.4 965.81,1041.4 969.38,1041.4 972.95,1041.4 976.52,1041.4 980.09,1041.4 983.66,1041.4 987.23,1041.4 990.8,1041.41 994.37,1041.42 997.94,1041.44 1001.51,1041.46 1005.08,1041.48 1008.65,1041.5 1012.22,1041.52 1015.79,1041.55 1019.36,1041.59 1022.93,1041.63 1026.5,1041.68 1030.07,1041.73 1033.64,1041.79 1037.21,1041.85 1040.78,1041.92 1044.35,1041.99 1047.92,1042.06 1051.49,1042.13 1055.06,1042.21 1058.63,1042.28 1062.2,1042.35 1065.77,1042.43 1069.34,1042.5 1072.91,1042.57 1076.48,1042.64 1080.05,1042.71 1083.62,1042.77 1087.19,1042.83 1090.76,1042.88 1094.33,1042.93 1097.9,1042.98 1101.47,1043.01 1105.04,1043.05 1108.61,1043.09 1112.18,1043.12 1115.75,1043.15 1119.32,1043.18 1122.89,1043.21 1126.46,1043.24 1130.03,1043.27 1133.6,1043.3 1137.17,1043.33 1140.74,1043.35 1144.31,1043.38 1147.88,1043.41 1151.45,1043.43 1155.02,1043.46 1158.59,1043.48 1162.16,1043.5 1165.73,1043.53 1169.3,1043.55 1172.87,1043.57 1176.44,1043.6 1180.01,1043.62 1183.58,1043.64 1187.15,1043.66 1190.72,1043.68 1194.29,1043.7 1197.86,1043.73 1201.43,1043.75 1205,1043.77 1208.57,1043.79 1212.14,1043.81 1215.71,1043.84 1219.28,1043.86 1222.85,1043.88 1226.42,1043.91 1229.99,1043.93 1233.56,1043.95 1237.13,1043.98"/>
<g fill="#fff" stroke="#4d7db6" stroke-width="1">
<circle cx="779.3" cy="1001.5" r="3.2"/>
<circle cx="783.3" cy="980.3" r="3.2"/>
<circle cx="786.8" cy="969.9" r="3.2"/>
<circle cx="790.6" cy="973.4" r="3.2"/>
<circle cx="794.4" cy="989.3" r="3.2"/>
<circle cx="797.9" cy="1004.1" r="3.2"/>
<circle cx="801.4" cy="1017.1" r="3.2"/>
<circle cx="805" cy="1029.6" r="3.2"/>
<circle cx="808.8" cy="1035.8" r="3.2"/>
<circle cx="812.3" cy="1037.9" r="3.2"/>
<circle cx="815.87" cy="1038.56" r="3.2"/>
<circle cx="819.44" cy="1038.86" r="3.2"/>
<circle cx="823.01" cy="1039.06" r="3.2"/>
<circle cx="826.58" cy="1039.21" r="3.2"/>
<circle cx="830.15" cy="1039.33" r="3.2"/>
<circle cx="833.72" cy="1039.43" r="3.2"/>
<circle cx="837.29" cy="1039.52" r="3.2"/>
<circle cx="840.86" cy="1039.61" r="3.2"/>
<circle cx="844.43" cy="1039.7" r="3.2"/>
<circle cx="848" cy="1039.8" r="3.2"/>
<circle cx="851.57" cy="1039.91" r="3.2"/>
<circle cx="855.14" cy="1040.03" r="3.2"/>
<circle cx="858.71" cy="1040.13" r="3.2"/>
<circle cx="862.28" cy="1040.24" r="3.2"/>
<circle cx="865.85" cy="1040.33" r="3.2"/>
<circle cx="869.42" cy="1040.4" r="3.2"/>
<circle cx="872.99" cy="1040.46" r="3.2"/>
<circle cx="876.56" cy="1040.49" r="3.2"/>
<circle cx="880.13" cy="1040.5" r="3.2"/>
<circle cx="883.7" cy="1040.5" r="3.2"/>
<circle cx="887.27" cy="1040.5" r="3.2"/>
<circle cx="890.84" cy="1040.5" r="3.2"/>
<circle cx="894.41" cy="1040.5" r="3.2"/>
<circle cx="897.98" cy="1040.5" r="3.2"/>
<circle cx="901.55" cy="1040.5" r="3.2"/>
<circle cx="905.12" cy="1040.5" r="3.2"/>
<circle cx="908.69" cy="1040.5" r="3.2"/>
<circle cx="912.26" cy="1040.5" r="3.2"/>
<circle cx="915.83" cy="1040.51" r="3.2"/>
<circle cx="919.4" cy="1040.56" r="3.2"/>
<circle cx="922.97" cy="1040.66" r="3.2"/>
<circle cx="926.54" cy="1040.77" r="3.2"/>
<circle cx="930.11" cy="1040.91" r="3.2"/>
<circle cx="933.68" cy="1041.05" r="3.2"/>
<circle cx="937.25" cy="1041.18" r="3.2"/>
<circle cx="940.82" cy="1041.29" r="3.2"/>
<circle cx="944.39" cy="1041.37" r="3.2"/>
<circle cx="947.96" cy="1041.4" r="3.2"/>
<circle cx="951.53" cy="1041.4" r="3.2"/>
<circle cx="955.1" cy="1041.4" r="3.2"/>
<circle cx="958.67" cy="1041.4" r="3.2"/>
<circle cx="962.24" cy="1041.4" r="3.2"/>
<circle cx="965.81" cy="1041.4" r="3.2"/>
<circle cx="969.38" cy="1041.4" r="3.2"/>
<circle cx="972.95" cy="1041.4" r="3.2"/>
<circle cx="976.52" cy="1041.4" r="3.2"/>
<circle cx="980.09" cy="1041.4" r="3.2"/>
<circle cx="983.66" cy="1041.4" r="3.2"/>
<circle cx="987.23" cy="1041.4" r="3.2"/>
<circle cx="990.8" cy="1041.41" r="3.2"/>
<circle cx="994.37" cy="1041.42" r="3.2"/>
<circle cx="997.94" cy="1041.44" r="3.2"/>
<circle cx="1001.51" cy="1041.46" r="3.2"/>
<circle cx="1005.08" cy="1041.48" r="3.2"/>
<circle cx="1008.65" cy="1041.5" r="3.2"/>
<circle cx="1012.22" cy="1041.52" r="3.2"/>
<circle cx="1015.79" cy="1041.55" r="3.2"/>
<circle cx="1019.36" cy="1041.59" r="3.2"/>
<circle cx="1022.93" cy="1041.63" r="3.2"/>
<circle cx="1026.5" cy="1041.68" r="3.2"/>
<circle cx="1030.07" cy="1041.73" r="3.2"/>
<circle cx="1033.64" cy="1041.79" r="3.2"/>
<circle cx="1037.21" cy="1041.85" r="3.2"/>
<circle cx="1040.78" cy="1041.92" r="3.2"/>
<circle cx="1044.35" cy="1041.99" r="3.2"/>
<circle cx="1047.92" cy="1042.06" r="3.2"/>
<circle cx="1051.49" cy="1042.13" r="3.2"/>
<circle cx="1055.06" cy="1042.21" r="3.2"/>
<circle cx="1058.63" cy="1042.28" r="3.2"/>
<circle cx="1062.2" cy="1042.35" r="3.2"/>
<circle cx="1065.77" cy="1042.43" r="3.2"/>
<circle cx="1069.34" cy="1042.5" r="3.2"/>
<circle cx="1072.91" cy="1042.57" r="3.2"/>
<circle cx="1076.48" cy="1042.64" r="3.2"/>
<circle cx="1080.05" cy="1042.71" r="3.2"/>
<circle cx="1083.62" cy="1042.77" r="3.2"/>
<circle cx="1087.19" cy="1042.83" r="3.2"/>
<circle cx="1090.76" cy="1042.88" r="3.2"/>
<circle cx="1094.33" cy="1042.93" r="3.2"/>
<circle cx="1097.9" cy="1042.98" r="3.2"/>
<circle cx="1101.47" cy="1043.01" r="3.2"/>
<circle cx="1105.04" cy="1043.05" r="3.2"/>
<circle cx="1108.61" cy="1043.09" r="3.2"/>
<circle cx="1112.18" cy="1043.12" r="3.2"/>
<circle cx="1115.75" cy="1043.15" r="3.2"/>
<circle cx="1119.32" cy="1043.18" r="3.2"/>
<circle cx="1122.89" cy="1043.21" r="3.2"/>
<circle cx="1126.46" cy="1043.24" r="3.2"/>
<circle cx="1130.03" cy="1043.27" r="3.2"/>
<circle cx="1133.6" cy="1043.3" r="3.2"/>
<circle cx="1137.17" cy="1043.33" r="3.2"/>
<circle cx="1140.74" cy="1043.35" r="3.2"/>
<circle cx="1144.31" cy="1043.38" r="3.2"/>
<circle cx="1147.88" cy="1043.41" r="3.2"/>
<circle cx="1151.45" cy="1043.43" r="3.2"/>
<circle cx="1155.02" cy="1043.46" r="3.2"/>
<circle cx="1158.59" cy="1043.48" r="3.2"/>
<circle cx="1162.16" cy="1043.5" r="3.2"/>
<circle cx="1165.73" cy="1043.53" r="3.2"/>
<circle cx="1169.3" cy="1043.55" r="3.2"/>
<circle cx="1172.87" cy="1043.57" r="3.2"/>
<circle cx="1176.44" cy="1043.6" r="3.2"/>
<circle cx="1180.01" cy="1043.62" r="3.2"/>
<circle cx="1183.58" cy="1043.64" r="3.2"/>
<circle cx="1187.15" cy="1043.66" r="3.2"/>
<circle cx="1190.72" cy="1043.68" r="3.2"/>
<circle cx="1194.29" cy="1043.7" r="3.2"/>
<circle cx="1197.86" cy="1043.73" r="3.2"/>
<circle cx="1201.43" cy="1043.75" r="3.2"/>
<circle cx="1205" cy="1043.77" r="3.2"/>
<circle cx="1208.57" cy="1043.79" r="3.2"/>
<circle cx="1212.14" cy="1043.81" r="3.2"/>
<circle cx="1215.71" cy="1043.84" r="3.2"/>
<circle cx="1219.28" cy="1043.86" r="3.2"/>
<circle cx="1222.85" cy="1043.88" r="3.2"/>
<circle cx="1226.42" cy="1043.91" r="3.2"/>
<circle cx="1229.99" cy="1043.93" r="3.2"/>
<circle cx="1233.56" cy="1043.95" r="3.2"/>
<circle cx="1237.13" cy="1043.98" r="3.2"/>
</g>
<polyline fill="none" stroke="#000" stroke-width="2.4" stroke-linejoin="round" points="780.2,1049.2 783.8,1049.5 787.3,1049 790.9,1050 794.5,1050.5 797.6,1051 801,1049.5 804.5,1048.3 808.5,1049 812.3,1049.2 816.1,1043.1 820.1,1049.2 823.6,1049.5 827.1,1049.2 830.6,1048.8 834,1048.3 837.5,1051.8 841,1050 844.5,1049.5 847.9,1049.2 851.4,1049.5 854.9,1050 858.3,1049.2 861.8,1050.5 865.2,1051.8 868.8,1051 873.9,1051 877.4,1049.5 880.9,1047.5 884.4,1049.5 887.8,1051.8 891.3,1050.5 894.8,1049.5 898.3,1049.2 901.8,1049.5 906.9,1049.2 910,1046.5 913,1044 917.3,1046.6 920,1049 922.5,1051 926,1050 929.5,1049 931.2,1048.3 935,1049 939.9,1049.2 943.5,1049 946,1048.8 948.5,1048.3 952.9,1044.9 956.4,1051 959.8,1049 963.3,1046.6 967.6,1051 970.6,1048.5 973.7,1045.7 978.1,1051 981.5,1051 985,1044.9 988.8,1037.9 991.9,1043.1 995.4,1044 998.9,1040.5 1003.5,1045.7 1007.1,1045.7 1010.6,1044.8 1014.2,1042.2 1017.4,1040.4 1020.9,1049.3 1024.8,1041.6 1028.4,1044 1031.9,1039.5 1035.4,1040.4 1039,1042.7 1042.5,1044 1046.1,1044 1049.6,1041.3 1053.2,1039.5 1057.1,1045.7 1060.8,1044.8 1064.2,1033.8 1067.7,1038.6 1071.3,1041.3 1074.8,1039.2 1078.3,1036.9 1081.9,1035.1 1085.8,1050.2 1089.5,1041.6 1093.1,1036 1096.6,1041.6 1100.1,1032.8 1103.7,1042.2 1107.6,1040.9 1111.1,1032.8 1114.7,1040.9 1118.2,1040.4 1121.9,1037.4 1125.5,1037.7 1129,1032.8 1132.6,1022.1 1136.1,1013.3 1140,1008.5 1143.2,985.5 1147.1,963.3 1150.7,951.3 1154.2,958.3 1158.1,977.8 1161.6,994.3 1165.2,1012 1168.7,1006.2 1172.5,1036.9 1176,1048.7 1179.5,1047.5 1183.1,1051 1186.6,1049.3 1190.2,1050.2 1193.7,1049.8 1197.3,1049.3 1200.8,1051 1204.7,1050.2 1208.3,1045.7 1211.8,1045.7 1215.3,1049.8 1218.9,1045.7 1222.4,1047.5 1226,1051.6 1229.5,1051.6 1233.1,1051.6 1236.6,1051"/>
<g fill="#fff" stroke="#000" stroke-width="1">
<circle cx="780.2" cy="1049.2" r="3.4"/>
<circle cx="783.8" cy="1049.5" r="3.4"/>
<circle cx="787.3" cy="1049" r="3.4"/>
<circle cx="790.9" cy="1050" r="3.4"/>
<circle cx="794.5" cy="1050.5" r="3.4"/>
<circle cx="797.6" cy="1051" r="3.4"/>
<circle cx="801" cy="1049.5" r="3.4"/>
<circle cx="804.5" cy="1048.3" r="3.4"/>
<circle cx="808.5" cy="1049" r="3.4"/>
<circle cx="812.3" cy="1049.2" r="3.4"/>
<circle cx="816.1" cy="1043.1" r="3.4"/>
<circle cx="820.1" cy="1049.2" r="3.4"/>
<circle cx="823.6" cy="1049.5" r="3.4"/>
<circle cx="827.1" cy="1049.2" r="3.4"/>
<circle cx="830.6" cy="1048.8" r="3.4"/>
<circle cx="834" cy="1048.3" r="3.4"/>
<circle cx="837.5" cy="1051.8" r="3.4"/>
<circle cx="841" cy="1050" r="3.4"/>
<circle cx="844.5" cy="1049.5" r="3.4"/>
<circle cx="847.9" cy="1049.2" r="3.4"/>
<circle cx="851.4" cy="1049.5" r="3.4"/>
<circle cx="854.9" cy="1050" r="3.4"/>
<circle cx="858.3" cy="1049.2" r="3.4"/>
<circle cx="861.8" cy="1050.5" r="3.4"/>
<circle cx="865.2" cy="1051.8" r="3.4"/>
<circle cx="868.8" cy="1051" r="3.4"/>
<circle cx="873.9" cy="1051" r="3.4"/>
<circle cx="877.4" cy="1049.5" r="3.4"/>
<circle cx="880.9" cy="1047.5" r="3.4"/>
<circle cx="884.4" cy="1049.5" r="3.4"/>
<circle cx="887.8" cy="1051.8" r="3.4"/>
<circle cx="891.3" cy="1050.5" r="3.4"/>
<circle cx="894.8" cy="1049.5" r="3.4"/>
<circle cx="898.3" cy="1049.2" r="3.4"/>
<circle cx="901.8" cy="1049.5" r="3.4"/>
<circle cx="906.9" cy="1049.2" r="3.4"/>
<circle cx="910" cy="1046.5" r="3.4"/>
<circle cx="913" cy="1044" r="3.4"/>
<circle cx="917.3" cy="1046.6" r="3.4"/>
<circle cx="920" cy="1049" r="3.4"/>
<circle cx="922.5" cy="1051" r="3.4"/>
<circle cx="926" cy="1050" r="3.4"/>
<circle cx="929.5" cy="1049" r="3.4"/>
<circle cx="931.2" cy="1048.3" r="3.4"/>
<circle cx="935" cy="1049" r="3.4"/>
<circle cx="939.9" cy="1049.2" r="3.4"/>
<circle cx="943.5" cy="1049" r="3.4"/>
<circle cx="946" cy="1048.8" r="3.4"/>
<circle cx="948.5" cy="1048.3" r="3.4"/>
<circle cx="952.9" cy="1044.9" r="3.4"/>
<circle cx="956.4" cy="1051" r="3.4"/>
<circle cx="959.8" cy="1049" r="3.4"/>
<circle cx="963.3" cy="1046.6" r="3.4"/>
<circle cx="967.6" cy="1051" r="3.4"/>
<circle cx="970.6" cy="1048.5" r="3.4"/>
<circle cx="973.7" cy="1045.7" r="3.4"/>
<circle cx="978.1" cy="1051" r="3.4"/>
<circle cx="981.5" cy="1051" r="3.4"/>
<circle cx="985" cy="1044.9" r="3.4"/>
<circle cx="988.8" cy="1037.9" r="3.4"/>
<circle cx="991.9" cy="1043.1" r="3.4"/>
<circle cx="995.4" cy="1044" r="3.4"/>
<circle cx="998.9" cy="1040.5" r="3.4"/>
<circle cx="1003.5" cy="1045.7" r="3.4"/>
<circle cx="1007.1" cy="1045.7" r="3.4"/>
<circle cx="1010.6" cy="1044.8" r="3.4"/>
<circle cx="1014.2" cy="1042.2" r="3.4"/>
<circle cx="1017.4" cy="1040.4" r="3.4"/>
<circle cx="1020.9" cy="1049.3" r="3.4"/>
<circle cx="1024.8" cy="1041.6" r="3.4"/>
<circle cx="1028.4" cy="1044" r="3.4"/>
<circle cx="1031.9" cy="1039.5" r="3.4"/>
<circle cx="1035.4" cy="1040.4" r="3.4"/>
<circle cx="1039" cy="1042.7" r="3.4"/>
<circle cx="1042.5" cy="1044" r="3.4"/>
<circle cx="1046.1" cy="1044" r="3.4"/>
<circle cx="1049.6" cy="1041.3" r="3.4"/>
<circle cx="1053.2" cy="1039.5" r="3.4"/>
<circle cx="1057.1" cy="1045.7" r="3.4"/>
<circle cx="1060.8" cy="1044.8" r="3.4"/>
<circle cx="1064.2" cy="1033.8" r="3.4"/>
<circle cx="1067.7" cy="1038.6" r="3.4"/>
<circle cx="1071.3" cy="1041.3" r="3.4"/>
<circle cx="1074.8" cy="1039.2" r="3.4"/>
<circle cx="1078.3" cy="1036.9" r="3.4"/>
<circle cx="1081.9" cy="1035.1" r="3.4"/>
<circle cx="1085.8" cy="1050.2" r="3.4"/>
<circle cx="1089.5" cy="1041.6" r="3.4"/>
<circle cx="1093.1" cy="1036" r="3.4"/>
<circle cx="1096.6" cy="1041.6" r="3.4"/>
<circle cx="1100.1" cy="1032.8" r="3.4"/>
<circle cx="1103.7" cy="1042.2" r="3.4"/>
<circle cx="1107.6" cy="1040.9" r="3.4"/>
<circle cx="1111.1" cy="1032.8" r="3.4"/>
<circle cx="1114.7" cy="1040.9" r="3.4"/>
<circle cx="1118.2" cy="1040.4" r="3.4"/>
<circle cx="1121.9" cy="1037.4" r="3.4"/>
<circle cx="1125.5" cy="1037.7" r="3.4"/>
<circle cx="1129" cy="1032.8" r="3.4"/>
<circle cx="1132.6" cy="1022.1" r="3.4"/>
<circle cx="1136.1" cy="1013.3" r="3.4"/>
<circle cx="1140" cy="1008.5" r="3.4"/>
<circle cx="1143.2" cy="985.5" r="3.4"/>
<circle cx="1147.1" cy="963.3" r="3.4"/>
<circle cx="1150.7" cy="951.3" r="3.4"/>
<circle cx="1154.2" cy="958.3" r="3.4"/>
<circle cx="1158.1" cy="977.8" r="3.4"/>
<circle cx="1161.6" cy="994.3" r="3.4"/>
<circle cx="1165.2" cy="1012" r="3.4"/>
<circle cx="1168.7" cy="1006.2" r="3.4"/>
<circle cx="1172.5" cy="1036.9" r="3.4"/>
<circle cx="1176" cy="1048.7" r="3.4"/>
<circle cx="1179.5" cy="1047.5" r="3.4"/>
<circle cx="1183.1" cy="1051" r="3.4"/>
<circle cx="1186.6" cy="1049.3" r="3.4"/>
<circle cx="1190.2" cy="1050.2" r="3.4"/>
<circle cx="1193.7" cy="1049.8" r="3.4"/>
<circle cx="1197.3" cy="1049.3" r="3.4"/>
<circle cx="1200.8" cy="1051" r="3.4"/>
<circle cx="1204.7" cy="1050.2" r="3.4"/>
<circle cx="1208.3" cy="1045.7" r="3.4"/>
<circle cx="1211.8" cy="1045.7" r="3.4"/>
<circle cx="1215.3" cy="1049.8" r="3.4"/>
<circle cx="1218.9" cy="1045.7" r="3.4"/>
<circle cx="1222.4" cy="1047.5" r="3.4"/>
<circle cx="1226" cy="1051.6" r="3.4"/>
<circle cx="1229.5" cy="1051.6" r="3.4"/>
<circle cx="1233.1" cy="1051.6" r="3.4"/>
<circle cx="1236.6" cy="1051" r="3.4"/>
</g>
</g>
<g clip-path="url(#cB5)">
<polyline fill="none" stroke="#fdbe18" stroke-width="1.2" stroke-linejoin="round" points="780.2,1197.1 783.3,1152.8 786.8,1106.5 790.6,1096.4 794.1,1115.5 797.6,1142.4 801.4,1165 805,1178 808.8,1183.6 812.36,1184.46 815.92,1184.91 819.47,1185 823.03,1184.97 826.59,1184.91 830.15,1184.83 833.71,1184.75 837.26,1184.67 840.82,1184.62 844.38,1184.6 847.94,1184.61 851.5,1184.63 855.05,1184.67 858.61,1184.71 862.17,1184.76 865.73,1184.82 869.29,1184.87 872.84,1184.92 876.4,1184.97 879.96,1185.01 883.52,1185.04 887.08,1185.07 890.63,1185.09 894.19,1185.12 897.75,1185.14 901.31,1185.17 904.87,1185.2 908.42,1185.23 911.98,1185.28 915.54,1185.33 919.1,1185.44 922.66,1185.6 926.21,1185.78 929.77,1185.98 933.33,1186.18 936.89,1186.37 940.45,1186.53 944,1186.64 947.56,1186.7 951.12,1186.68 954.68,1186.58 958.24,1186.46 961.79,1186.36 965.35,1186.3 968.91,1186.32 972.47,1186.38 976.03,1186.47 979.58,1186.58 983.14,1186.69 986.7,1186.85 990.26,1187.07 993.82,1187.3 997.37,1187.5 1000.93,1187.63 1004.49,1187.72 1008.05,1187.8 1011.61,1187.87 1015.16,1187.93 1018.72,1187.98 1022.28,1188.03 1025.84,1188.08 1029.4,1188.13 1032.95,1188.17 1036.51,1188.23 1040.07,1188.29 1043.63,1188.35 1047.19,1188.43 1050.74,1188.52 1054.3,1188.65 1057.86,1188.81 1061.42,1189.01 1064.98,1189.23 1068.53,1189.47 1072.09,1189.72 1075.65,1189.96 1079.21,1190.2 1082.77,1190.42 1086.32,1190.61 1089.88,1190.78 1093.44,1190.9 1097,1190.98 1100.56,1191 1104.11,1190.98 1107.67,1190.93 1111.23,1190.86 1114.79,1190.77 1118.35,1190.65 1121.9,1190.52 1125.46,1190.38 1129.02,1190.23 1132.58,1190.07 1136.14,1189.9 1139.69,1189.74 1143.25,1189.57 1146.81,1189.41 1150.37,1189.22 1153.93,1188.97 1157.48,1188.7 1161.04,1188.41 1164.6,1188.14 1168.16,1187.9 1171.72,1187.71 1175.27,1187.61 1178.83,1187.6 1182.39,1187.6 1185.95,1187.6 1189.51,1187.6 1193.06,1187.6 1196.62,1187.6 1200.18,1187.6 1203.74,1187.6 1207.3,1187.6 1210.85,1187.6 1214.41,1187.6 1217.97,1187.6 1221.53,1187.6 1225.09,1187.6 1228.64,1187.6 1232.2,1187.6 1235.76,1187.6 1239.32,1187.6"/>
<g fill="#fff" stroke="#fdbe18" stroke-width="1">
<circle cx="780.2" cy="1197.1" r="3.2"/>
<circle cx="783.3" cy="1152.8" r="3.2"/>
<circle cx="786.8" cy="1106.5" r="3.2"/>
<circle cx="790.6" cy="1096.4" r="3.2"/>
<circle cx="794.1" cy="1115.5" r="3.2"/>
<circle cx="797.6" cy="1142.4" r="3.2"/>
<circle cx="801.4" cy="1165" r="3.2"/>
<circle cx="805" cy="1178" r="3.2"/>
<circle cx="808.8" cy="1183.6" r="3.2"/>
<circle cx="812.36" cy="1184.46" r="3.2"/>
<circle cx="815.92" cy="1184.91" r="3.2"/>
<circle cx="819.47" cy="1185" r="3.2"/>
<circle cx="823.03" cy="1184.97" r="3.2"/>
<circle cx="826.59" cy="1184.91" r="3.2"/>
<circle cx="830.15" cy="1184.83" r="3.2"/>
<circle cx="833.71" cy="1184.75" r="3.2"/>
<circle cx="837.26" cy="1184.67" r="3.2"/>
<circle cx="840.82" cy="1184.62" r="3.2"/>
<circle cx="844.38" cy="1184.6" r="3.2"/>
<circle cx="847.94" cy="1184.61" r="3.2"/>
<circle cx="851.5" cy="1184.63" r="3.2"/>
<circle cx="855.05" cy="1184.67" r="3.2"/>
<circle cx="858.61" cy="1184.71" r="3.2"/>
<circle cx="862.17" cy="1184.76" r="3.2"/>
<circle cx="865.73" cy="1184.82" r="3.2"/>
<circle cx="869.29" cy="1184.87" r="3.2"/>
<circle cx="872.84" cy="1184.92" r="3.2"/>
<circle cx="876.4" cy="1184.97" r="3.2"/>
<circle cx="879.96" cy="1185.01" r="3.2"/>
<circle cx="883.52" cy="1185.04" r="3.2"/>
<circle cx="887.08" cy="1185.07" r="3.2"/>
<circle cx="890.63" cy="1185.09" r="3.2"/>
<circle cx="894.19" cy="1185.12" r="3.2"/>
<circle cx="897.75" cy="1185.14" r="3.2"/>
<circle cx="901.31" cy="1185.17" r="3.2"/>
<circle cx="904.87" cy="1185.2" r="3.2"/>
<circle cx="908.42" cy="1185.23" r="3.2"/>
<circle cx="911.98" cy="1185.28" r="3.2"/>
<circle cx="915.54" cy="1185.33" r="3.2"/>
<circle cx="919.1" cy="1185.44" r="3.2"/>
<circle cx="922.66" cy="1185.6" r="3.2"/>
<circle cx="926.21" cy="1185.78" r="3.2"/>
<circle cx="929.77" cy="1185.98" r="3.2"/>
<circle cx="933.33" cy="1186.18" r="3.2"/>
<circle cx="936.89" cy="1186.37" r="3.2"/>
<circle cx="940.45" cy="1186.53" r="3.2"/>
<circle cx="944" cy="1186.64" r="3.2"/>
<circle cx="947.56" cy="1186.7" r="3.2"/>
<circle cx="951.12" cy="1186.68" r="3.2"/>
<circle cx="954.68" cy="1186.58" r="3.2"/>
<circle cx="958.24" cy="1186.46" r="3.2"/>
<circle cx="961.79" cy="1186.36" r="3.2"/>
<circle cx="965.35" cy="1186.3" r="3.2"/>
<circle cx="968.91" cy="1186.32" r="3.2"/>
<circle cx="972.47" cy="1186.38" r="3.2"/>
<circle cx="976.03" cy="1186.47" r="3.2"/>
<circle cx="979.58" cy="1186.58" r="3.2"/>
<circle cx="983.14" cy="1186.69" r="3.2"/>
<circle cx="986.7" cy="1186.85" r="3.2"/>
<circle cx="990.26" cy="1187.07" r="3.2"/>
<circle cx="993.82" cy="1187.3" r="3.2"/>
<circle cx="997.37" cy="1187.5" r="3.2"/>
<circle cx="1000.93" cy="1187.63" r="3.2"/>
<circle cx="1004.49" cy="1187.72" r="3.2"/>
<circle cx="1008.05" cy="1187.8" r="3.2"/>
<circle cx="1011.61" cy="1187.87" r="3.2"/>
<circle cx="1015.16" cy="1187.93" r="3.2"/>
<circle cx="1018.72" cy="1187.98" r="3.2"/>
<circle cx="1022.28" cy="1188.03" r="3.2"/>
<circle cx="1025.84" cy="1188.08" r="3.2"/>
<circle cx="1029.4" cy="1188.13" r="3.2"/>
<circle cx="1032.95" cy="1188.17" r="3.2"/>
<circle cx="1036.51" cy="1188.23" r="3.2"/>
<circle cx="1040.07" cy="1188.29" r="3.2"/>
<circle cx="1043.63" cy="1188.35" r="3.2"/>
<circle cx="1047.19" cy="1188.43" r="3.2"/>
<circle cx="1050.74" cy="1188.52" r="3.2"/>
<circle cx="1054.3" cy="1188.65" r="3.2"/>
<circle cx="1057.86" cy="1188.81" r="3.2"/>
<circle cx="1061.42" cy="1189.01" r="3.2"/>
<circle cx="1064.98" cy="1189.23" r="3.2"/>
<circle cx="1068.53" cy="1189.47" r="3.2"/>
<circle cx="1072.09" cy="1189.72" r="3.2"/>
<circle cx="1075.65" cy="1189.96" r="3.2"/>
<circle cx="1079.21" cy="1190.2" r="3.2"/>
<circle cx="1082.77" cy="1190.42" r="3.2"/>
<circle cx="1086.32" cy="1190.61" r="3.2"/>
<circle cx="1089.88" cy="1190.78" r="3.2"/>
<circle cx="1093.44" cy="1190.9" r="3.2"/>
<circle cx="1097" cy="1190.98" r="3.2"/>
<circle cx="1100.56" cy="1191" r="3.2"/>
<circle cx="1104.11" cy="1190.98" r="3.2"/>
<circle cx="1107.67" cy="1190.93" r="3.2"/>
<circle cx="1111.23" cy="1190.86" r="3.2"/>
<circle cx="1114.79" cy="1190.77" r="3.2"/>
<circle cx="1118.35" cy="1190.65" r="3.2"/>
<circle cx="1121.9" cy="1190.52" r="3.2"/>
<circle cx="1125.46" cy="1190.38" r="3.2"/>
<circle cx="1129.02" cy="1190.23" r="3.2"/>
<circle cx="1132.58" cy="1190.07" r="3.2"/>
<circle cx="1136.14" cy="1189.9" r="3.2"/>
<circle cx="1139.69" cy="1189.74" r="3.2"/>
<circle cx="1143.25" cy="1189.57" r="3.2"/>
<circle cx="1146.81" cy="1189.41" r="3.2"/>
<circle cx="1150.37" cy="1189.22" r="3.2"/>
<circle cx="1153.93" cy="1188.97" r="3.2"/>
<circle cx="1157.48" cy="1188.7" r="3.2"/>
<circle cx="1161.04" cy="1188.41" r="3.2"/>
<circle cx="1164.6" cy="1188.14" r="3.2"/>
<circle cx="1168.16" cy="1187.9" r="3.2"/>
<circle cx="1171.72" cy="1187.71" r="3.2"/>
<circle cx="1175.27" cy="1187.61" r="3.2"/>
<circle cx="1178.83" cy="1187.6" r="3.2"/>
<circle cx="1182.39" cy="1187.6" r="3.2"/>
<circle cx="1185.95" cy="1187.6" r="3.2"/>
<circle cx="1189.51" cy="1187.6" r="3.2"/>
<circle cx="1193.06" cy="1187.6" r="3.2"/>
<circle cx="1196.62" cy="1187.6" r="3.2"/>
<circle cx="1200.18" cy="1187.6" r="3.2"/>
<circle cx="1203.74" cy="1187.6" r="3.2"/>
<circle cx="1207.3" cy="1187.6" r="3.2"/>
<circle cx="1210.85" cy="1187.6" r="3.2"/>
<circle cx="1214.41" cy="1187.6" r="3.2"/>
<circle cx="1217.97" cy="1187.6" r="3.2"/>
<circle cx="1221.53" cy="1187.6" r="3.2"/>
<circle cx="1225.09" cy="1187.6" r="3.2"/>
<circle cx="1228.64" cy="1187.6" r="3.2"/>
<circle cx="1232.2" cy="1187.6" r="3.2"/>
<circle cx="1235.76" cy="1187.6" r="3.2"/>
<circle cx="1239.32" cy="1187.6" r="3.2"/>
</g>
<polyline fill="none" stroke="#000" stroke-width="2.4" stroke-linejoin="round" points="776,1140 779.3,1126 783.3,1093.8 786.8,1085.7 790.6,1090.9 794.1,1101.3 797.9,1109.5 801.4,1121.6 805,1139.8 808.8,1147.6 812.36,1149.06 815.92,1149.36 819.47,1148.83 823.03,1148.07 826.59,1147.61 830.15,1147.81 833.71,1148.45 837.26,1149.24 840.82,1149.91 844.38,1150.2 847.94,1150.02 851.5,1149.58 855.05,1149.07 858.61,1148.65 862.17,1148.5 865.73,1148.62 869.29,1148.86 872.84,1149.13 876.4,1149.34 879.96,1149.39 883.52,1149.11 887.08,1148.61 890.63,1148.08 894.19,1147.69 897.75,1147.61 901.31,1147.77 904.87,1148.03 908.42,1148.29 911.98,1148.47 915.54,1148.43 919.1,1147.95 922.66,1147.31 926.21,1146.85 929.77,1146.82 933.33,1146.94 936.89,1147.13 940.45,1147.33 944,1147.5 947.56,1147.6 951.12,1147.58 954.68,1147.48 958.24,1147.31 961.79,1147.1 965.35,1146.84 968.91,1146.47 972.47,1145.86 976.03,1145.07 979.58,1143.81 983.14,1142.23 986.7,1141.12 990.26,1140.2 993.82,1139.8 997.37,1139.8 1000.93,1139.83 1004.49,1140.39 1008.05,1141.28 1011.61,1142.36 1015.16,1143.85 1018.72,1145.28 1022.28,1146.2 1025.84,1146.88 1029.4,1147.42 1032.95,1147.69 1036.51,1147.58 1040.07,1147.15 1043.63,1146.55 1047.19,1145.9 1050.74,1145.35 1054.3,1145.02 1057.86,1144.84 1061.42,1144.7 1064.98,1144.57 1068.53,1144.38 1072.09,1144.03 1075.65,1143.12 1079.21,1142.42 1082.77,1142.47 1086.32,1142.68 1089.88,1142.94 1093.44,1143.18 1097,1143.3 1100.56,1143.03 1104.11,1142.31 1107.67,1141.65 1111.23,1141.5 1114.79,1141.55 1118.35,1141.64 1121.9,1141.78 1125.46,1142.09 1129.02,1143.4 1132.58,1145.5 1136.14,1149.55 1139.69,1157.51 1143.25,1171.56 1146.81,1188.45 1150.37,1202.13 1153.93,1212.18 1157.48,1218.93 1161.04,1222.39 1164.6,1223.94 1168.16,1224.77 1171.72,1225.1 1175.27,1225.35 1178.83,1225.54 1182.39,1225.66 1185.95,1225.7 1189.51,1225.69 1193.06,1225.67 1196.62,1225.64 1200.18,1225.59 1203.74,1225.54 1207.3,1225.48 1210.85,1225.41 1214.41,1225.33 1217.97,1225.26 1221.53,1225.18 1225.09,1225.1 1228.64,1225.02 1232.2,1224.95 1235.76,1224.88 1239.32,1224.81"/>
<g fill="#fff" stroke="#000" stroke-width="1">
<circle cx="776" cy="1140" r="3.3"/>
<circle cx="779.3" cy="1126" r="3.3"/>
<circle cx="783.3" cy="1093.8" r="3.3"/>
<circle cx="786.8" cy="1085.7" r="3.3"/>
<circle cx="790.6" cy="1090.9" r="3.3"/>
<circle cx="794.1" cy="1101.3" r="3.3"/>
<circle cx="797.9" cy="1109.5" r="3.3"/>
<circle cx="801.4" cy="1121.6" r="3.3"/>
<circle cx="805" cy="1139.8" r="3.3"/>
<circle cx="808.8" cy="1147.6" r="3.3"/>
<circle cx="812.36" cy="1149.06" r="3.3"/>
<circle cx="815.92" cy="1149.36" r="3.3"/>
<circle cx="819.47" cy="1148.83" r="3.3"/>
<circle cx="823.03" cy="1148.07" r="3.3"/>
<circle cx="826.59" cy="1147.61" r="3.3"/>
<circle cx="830.15" cy="1147.81" r="3.3"/>
<circle cx="833.71" cy="1148.45" r="3.3"/>
<circle cx="837.26" cy="1149.24" r="3.3"/>
<circle cx="840.82" cy="1149.91" r="3.3"/>
<circle cx="844.38" cy="1150.2" r="3.3"/>
<circle cx="847.94" cy="1150.02" r="3.3"/>
<circle cx="851.5" cy="1149.58" r="3.3"/>
<circle cx="855.05" cy="1149.07" r="3.3"/>
<circle cx="858.61" cy="1148.65" r="3.3"/>
<circle cx="862.17" cy="1148.5" r="3.3"/>
<circle cx="865.73" cy="1148.62" r="3.3"/>
<circle cx="869.29" cy="1148.86" r="3.3"/>
<circle cx="872.84" cy="1149.13" r="3.3"/>
<circle cx="876.4" cy="1149.34" r="3.3"/>
<circle cx="879.96" cy="1149.39" r="3.3"/>
<circle cx="883.52" cy="1149.11" r="3.3"/>
<circle cx="887.08" cy="1148.61" r="3.3"/>
<circle cx="890.63" cy="1148.08" r="3.3"/>
<circle cx="894.19" cy="1147.69" r="3.3"/>
<circle cx="897.75" cy="1147.61" r="3.3"/>
<circle cx="901.31" cy="1147.77" r="3.3"/>
<circle cx="904.87" cy="1148.03" r="3.3"/>
<circle cx="908.42" cy="1148.29" r="3.3"/>
<circle cx="911.98" cy="1148.47" r="3.3"/>
<circle cx="915.54" cy="1148.43" r="3.3"/>
<circle cx="919.1" cy="1147.95" r="3.3"/>
<circle cx="922.66" cy="1147.31" r="3.3"/>
<circle cx="926.21" cy="1146.85" r="3.3"/>
<circle cx="929.77" cy="1146.82" r="3.3"/>
<circle cx="933.33" cy="1146.94" r="3.3"/>
<circle cx="936.89" cy="1147.13" r="3.3"/>
<circle cx="940.45" cy="1147.33" r="3.3"/>
<circle cx="944" cy="1147.5" r="3.3"/>
<circle cx="947.56" cy="1147.6" r="3.3"/>
<circle cx="951.12" cy="1147.58" r="3.3"/>
<circle cx="954.68" cy="1147.48" r="3.3"/>
<circle cx="958.24" cy="1147.31" r="3.3"/>
<circle cx="961.79" cy="1147.1" r="3.3"/>
<circle cx="965.35" cy="1146.84" r="3.3"/>
<circle cx="968.91" cy="1146.47" r="3.3"/>
<circle cx="972.47" cy="1145.86" r="3.3"/>
<circle cx="976.03" cy="1145.07" r="3.3"/>
<circle cx="979.58" cy="1143.81" r="3.3"/>
<circle cx="983.14" cy="1142.23" r="3.3"/>
<circle cx="986.7" cy="1141.12" r="3.3"/>
<circle cx="990.26" cy="1140.2" r="3.3"/>
<circle cx="993.82" cy="1139.8" r="3.3"/>
<circle cx="997.37" cy="1139.8" r="3.3"/>
<circle cx="1000.93" cy="1139.83" r="3.3"/>
<circle cx="1004.49" cy="1140.39" r="3.3"/>
<circle cx="1008.05" cy="1141.28" r="3.3"/>
<circle cx="1011.61" cy="1142.36" r="3.3"/>
<circle cx="1015.16" cy="1143.85" r="3.3"/>
<circle cx="1018.72" cy="1145.28" r="3.3"/>
<circle cx="1022.28" cy="1146.2" r="3.3"/>
<circle cx="1025.84" cy="1146.88" r="3.3"/>
<circle cx="1029.4" cy="1147.42" r="3.3"/>
<circle cx="1032.95" cy="1147.69" r="3.3"/>
<circle cx="1036.51" cy="1147.58" r="3.3"/>
<circle cx="1040.07" cy="1147.15" r="3.3"/>
<circle cx="1043.63" cy="1146.55" r="3.3"/>
<circle cx="1047.19" cy="1145.9" r="3.3"/>
<circle cx="1050.74" cy="1145.35" r="3.3"/>
<circle cx="1054.3" cy="1145.02" r="3.3"/>
<circle cx="1057.86" cy="1144.84" r="3.3"/>
<circle cx="1061.42" cy="1144.7" r="3.3"/>
<circle cx="1064.98" cy="1144.57" r="3.3"/>
<circle cx="1068.53" cy="1144.38" r="3.3"/>
<circle cx="1072.09" cy="1144.03" r="3.3"/>
<circle cx="1075.65" cy="1143.12" r="3.3"/>
<circle cx="1079.21" cy="1142.42" r="3.3"/>
<circle cx="1082.77" cy="1142.47" r="3.3"/>
<circle cx="1086.32" cy="1142.68" r="3.3"/>
<circle cx="1089.88" cy="1142.94" r="3.3"/>
<circle cx="1093.44" cy="1143.18" r="3.3"/>
<circle cx="1097" cy="1143.3" r="3.3"/>
<circle cx="1100.56" cy="1143.03" r="3.3"/>
<circle cx="1104.11" cy="1142.31" r="3.3"/>
<circle cx="1107.67" cy="1141.65" r="3.3"/>
<circle cx="1111.23" cy="1141.5" r="3.3"/>
<circle cx="1114.79" cy="1141.55" r="3.3"/>
<circle cx="1118.35" cy="1141.64" r="3.3"/>
<circle cx="1121.9" cy="1141.78" r="3.3"/>
<circle cx="1125.46" cy="1142.09" r="3.3"/>
<circle cx="1129.02" cy="1143.4" r="3.3"/>
<circle cx="1132.58" cy="1145.5" r="3.3"/>
<circle cx="1136.14" cy="1149.55" r="3.3"/>
<circle cx="1139.69" cy="1157.51" r="3.3"/>
<circle cx="1143.25" cy="1171.56" r="3.3"/>
<circle cx="1146.81" cy="1188.45" r="3.3"/>
<circle cx="1150.37" cy="1202.13" r="3.3"/>
<circle cx="1153.93" cy="1212.18" r="3.3"/>
<circle cx="1157.48" cy="1218.93" r="3.3"/>
<circle cx="1161.04" cy="1222.39" r="3.3"/>
<circle cx="1164.6" cy="1223.94" r="3.3"/>
<circle cx="1168.16" cy="1224.77" r="3.3"/>
<circle cx="1171.72" cy="1225.1" r="3.3"/>
<circle cx="1175.27" cy="1225.35" r="3.3"/>
<circle cx="1178.83" cy="1225.54" r="3.3"/>
<circle cx="1182.39" cy="1225.66" r="3.3"/>
<circle cx="1185.95" cy="1225.7" r="3.3"/>
<circle cx="1189.51" cy="1225.69" r="3.3"/>
<circle cx="1193.06" cy="1225.67" r="3.3"/>
<circle cx="1196.62" cy="1225.64" r="3.3"/>
<circle cx="1200.18" cy="1225.59" r="3.3"/>
<circle cx="1203.74" cy="1225.54" r="3.3"/>
<circle cx="1207.3" cy="1225.48" r="3.3"/>
<circle cx="1210.85" cy="1225.41" r="3.3"/>
<circle cx="1214.41" cy="1225.33" r="3.3"/>
<circle cx="1217.97" cy="1225.26" r="3.3"/>
<circle cx="1221.53" cy="1225.18" r="3.3"/>
<circle cx="1225.09" cy="1225.1" r="3.3"/>
<circle cx="1228.64" cy="1225.02" r="3.3"/>
<circle cx="1232.2" cy="1224.95" r="3.3"/>
<circle cx="1235.76" cy="1224.88" r="3.3"/>
<circle cx="1239.32" cy="1224.81" r="3.3"/>
</g>
</g>
<g clip-path="url(#cB6)">
<g fill="#fff" stroke="#0d8080" stroke-width="1.2">
<circle cx="780.2" cy="1288.6" r="6"/>
<circle cx="783.77" cy="1286.75" r="6"/>
<circle cx="787.34" cy="1284.89" r="6"/>
<circle cx="790.91" cy="1283.15" r="6"/>
<circle cx="794.48" cy="1281.62" r="6"/>
<circle cx="798.05" cy="1280.09" r="6"/>
<circle cx="801.62" cy="1278.66" r="6"/>
<circle cx="805.19" cy="1277.44" r="6"/>
<circle cx="808.76" cy="1276.56" r="6"/>
<circle cx="812.33" cy="1276.05" r="6"/>
<circle cx="815.9" cy="1275.7" r="6"/>
<circle cx="819.47" cy="1275.42" r="6"/>
<circle cx="823.04" cy="1275.14" r="6"/>
<circle cx="826.61" cy="1274.76" r="6"/>
<circle cx="830.18" cy="1274.19" r="6"/>
<circle cx="833.75" cy="1273.42" r="6"/>
<circle cx="837.32" cy="1272.58" r="6"/>
<circle cx="840.89" cy="1271.79" r="6"/>
<circle cx="844.46" cy="1271.19" r="6"/>
<circle cx="848.03" cy="1270.78" r="6"/>
<circle cx="851.6" cy="1270.44" r="6"/>
<circle cx="855.17" cy="1270.14" r="6"/>
<circle cx="858.74" cy="1269.82" r="6"/>
<circle cx="862.31" cy="1269.44" r="6"/>
<circle cx="865.88" cy="1268.84" r="6"/>
<circle cx="869.45" cy="1268.2" r="6"/>
<circle cx="873.02" cy="1267.82" r="6"/>
<circle cx="876.59" cy="1268.03" r="6"/>
<circle cx="880.16" cy="1268.82" r="6"/>
<circle cx="883.73" cy="1269.75" r="6"/>
<circle cx="887.3" cy="1270.36" r="6"/>
<circle cx="890.87" cy="1270.57" r="6"/>
<circle cx="894.44" cy="1270.74" r="6"/>
<circle cx="898.01" cy="1270.89" r="6"/>
<circle cx="901.58" cy="1271.01" r="6"/>
<circle cx="905.15" cy="1271.1" r="6"/>
<circle cx="908.72" cy="1271.17" r="6"/>
<circle cx="912.29" cy="1271.2" r="6"/>
<circle cx="915.86" cy="1271.18" r="6"/>
<circle cx="919.43" cy="1271.06" r="6"/>
<circle cx="923" cy="1270.87" r="6"/>
<circle cx="926.57" cy="1270.67" r="6"/>
<circle cx="930.14" cy="1270.5" r="6"/>
<circle cx="933.71" cy="1270.41" r="6"/>
<circle cx="937.28" cy="1270.55" r="6"/>
<circle cx="940.85" cy="1271.14" r="6"/>
<circle cx="944.42" cy="1271.99" r="6"/>
<circle cx="947.99" cy="1272.88" r="6"/>
<circle cx="951.56" cy="1273.75" r="6"/>
<circle cx="955.13" cy="1274.74" r="6"/>
<circle cx="958.7" cy="1275.82" r="6"/>
<circle cx="962.27" cy="1276.98" r="6"/>
<circle cx="965.84" cy="1278.18" r="6"/>
<circle cx="969.41" cy="1279.45" r="6"/>
<circle cx="972.98" cy="1280.83" r="6"/>
<circle cx="976.55" cy="1282.28" r="6"/>
<circle cx="980.12" cy="1283.77" r="6"/>
<circle cx="983.69" cy="1285.26" r="6"/>
<circle cx="987.26" cy="1286.79" r="6"/>
<circle cx="990.83" cy="1288.35" r="6"/>
<circle cx="994.4" cy="1289.95" r="6"/>
<circle cx="997.97" cy="1291.57" r="6"/>
<circle cx="1001.54" cy="1293.32" r="6"/>
<circle cx="1005.11" cy="1295.49" r="6"/>
<circle cx="1008.68" cy="1296.69" r="6"/>
<circle cx="1012.25" cy="1296.7" r="6"/>
<circle cx="1015.82" cy="1296.7" r="6"/>
<circle cx="1019.39" cy="1296.7" r="6"/>
<circle cx="1022.96" cy="1296.7" r="6"/>
<circle cx="1026.53" cy="1297.18" r="6"/>
<circle cx="1030.1" cy="1298.34" r="6"/>
<circle cx="1033.67" cy="1299.71" r="6"/>
<circle cx="1037.24" cy="1300.91" r="6"/>
<circle cx="1040.81" cy="1302.21" r="6"/>
<circle cx="1044.38" cy="1303.57" r="6"/>
<circle cx="1047.95" cy="1304.89" r="6"/>
<circle cx="1051.52" cy="1306.04" r="6"/>
<circle cx="1055.09" cy="1306.96" r="6"/>
<circle cx="1058.66" cy="1307.75" r="6"/>
<circle cx="1062.23" cy="1308.46" r="6"/>
<circle cx="1065.8" cy="1309.11" r="6"/>
<circle cx="1069.37" cy="1309.74" r="6"/>
<circle cx="1072.94" cy="1310.37" r="6"/>
<circle cx="1076.51" cy="1311.09" r="6"/>
<circle cx="1080.08" cy="1311.79" r="6"/>
<circle cx="1083.65" cy="1312.36" r="6"/>
<circle cx="1087.22" cy="1312.67" r="6"/>
<circle cx="1090.79" cy="1312.41" r="6"/>
<circle cx="1094.36" cy="1311.2" r="6"/>
<circle cx="1097.93" cy="1310.12" r="6"/>
<circle cx="1101.5" cy="1310.11" r="6"/>
<circle cx="1105.07" cy="1310.64" r="6"/>
<circle cx="1108.64" cy="1311.42" r="6"/>
<circle cx="1112.21" cy="1312.21" r="6"/>
<circle cx="1115.78" cy="1312.77" r="6"/>
<circle cx="1119.35" cy="1313.13" r="6"/>
<circle cx="1122.92" cy="1313.42" r="6"/>
<circle cx="1126.49" cy="1313.71" r="6"/>
<circle cx="1130.06" cy="1314.05" r="6"/>
<circle cx="1133.63" cy="1314.51" r="6"/>
<circle cx="1137.2" cy="1315.24" r="6"/>
<circle cx="1140.77" cy="1316.19" r="6"/>
<circle cx="1144.34" cy="1317.23" r="6"/>
<circle cx="1147.91" cy="1318.22" r="6"/>
<circle cx="1151.48" cy="1319.34" r="6"/>
<circle cx="1155.05" cy="1320.46" r="6"/>
<circle cx="1158.62" cy="1321.35" r="6"/>
<circle cx="1162.19" cy="1321.86" r="6"/>
<circle cx="1165.76" cy="1322.23" r="6"/>
<circle cx="1169.33" cy="1322.52" r="6"/>
<circle cx="1172.9" cy="1322.82" r="6"/>
<circle cx="1176.47" cy="1323.21" r="6"/>
<circle cx="1180.04" cy="1323.76" r="6"/>
<circle cx="1183.61" cy="1324.49" r="6"/>
<circle cx="1187.18" cy="1325.3" r="6"/>
<circle cx="1190.75" cy="1326.07" r="6"/>
<circle cx="1194.32" cy="1326.7" r="6"/>
<circle cx="1197.89" cy="1327.2" r="6"/>
<circle cx="1201.46" cy="1327.69" r="6"/>
<circle cx="1205.03" cy="1328.13" r="6"/>
<circle cx="1208.6" cy="1328.45" r="6"/>
<circle cx="1212.17" cy="1328.6" r="6"/>
<circle cx="1215.74" cy="1328.52" r="6"/>
<circle cx="1219.31" cy="1328.24" r="6"/>
<circle cx="1222.88" cy="1327.81" r="6"/>
<circle cx="1226.45" cy="1327.27" r="6"/>
<circle cx="1230.02" cy="1326.68" r="6"/>
<circle cx="1233.59" cy="1326.07" r="6"/>
<circle cx="1237.16" cy="1325.5" r="6"/>
</g>
</g>
<line x1="197.3" y1="325.37" x2="197.3" y2="342.37" stroke="#000" stroke-width="3"/>
<line x1="289.6" y1="325.37" x2="289.6" y2="342.37" stroke="#000" stroke-width="3"/>
<line x1="381.9" y1="325.37" x2="381.9" y2="342.37" stroke="#000" stroke-width="3"/>
<line x1="474.2" y1="325.37" x2="474.2" y2="342.37" stroke="#000" stroke-width="3"/>
<line x1="151.15" y1="334.07" x2="151.15" y2="342.37" stroke="#000" stroke-width="3"/>
<line x1="243.45" y1="334.07" x2="243.45" y2="342.37" stroke="#000" stroke-width="3"/>
<line x1="335.75" y1="334.07" x2="335.75" y2="342.37" stroke="#000" stroke-width="3"/>
<line x1="428.05" y1="334.07" x2="428.05" y2="342.37" stroke="#000" stroke-width="3"/>
<line x1="197.3" y1="506.14" x2="197.3" y2="523.14" stroke="#000" stroke-width="3"/>
<line x1="289.6" y1="506.14" x2="289.6" y2="523.14" stroke="#000" stroke-width="3"/>
<line x1="381.9" y1="506.14" x2="381.9" y2="523.14" stroke="#000" stroke-width="3"/>
<line x1="474.2" y1="506.14" x2="474.2" y2="523.14" stroke="#000" stroke-width="3"/>
<line x1="151.15" y1="514.84" x2="151.15" y2="523.14" stroke="#000" stroke-width="3"/>
<line x1="243.45" y1="514.84" x2="243.45" y2="523.14" stroke="#000" stroke-width="3"/>
<line x1="335.75" y1="514.84" x2="335.75" y2="523.14" stroke="#000" stroke-width="3"/>
<line x1="428.05" y1="514.84" x2="428.05" y2="523.14" stroke="#000" stroke-width="3"/>
<line x1="197.3" y1="686.91" x2="197.3" y2="703.91" stroke="#000" stroke-width="3"/>
<line x1="289.6" y1="686.91" x2="289.6" y2="703.91" stroke="#000" stroke-width="3"/>
<line x1="381.9" y1="686.91" x2="381.9" y2="703.91" stroke="#000" stroke-width="3"/>
<line x1="474.2" y1="686.91" x2="474.2" y2="703.91" stroke="#000" stroke-width="3"/>
<line x1="151.15" y1="695.61" x2="151.15" y2="703.91" stroke="#000" stroke-width="3"/>
<line x1="243.45" y1="695.61" x2="243.45" y2="703.91" stroke="#000" stroke-width="3"/>
<line x1="335.75" y1="695.61" x2="335.75" y2="703.91" stroke="#000" stroke-width="3"/>
<line x1="428.05" y1="695.61" x2="428.05" y2="703.91" stroke="#000" stroke-width="3"/>
<line x1="197.3" y1="867.69" x2="197.3" y2="884.69" stroke="#000" stroke-width="3"/>
<line x1="289.6" y1="867.69" x2="289.6" y2="884.69" stroke="#000" stroke-width="3"/>
<line x1="381.9" y1="867.69" x2="381.9" y2="884.69" stroke="#000" stroke-width="3"/>
<line x1="474.2" y1="867.69" x2="474.2" y2="884.69" stroke="#000" stroke-width="3"/>
<line x1="151.15" y1="876.39" x2="151.15" y2="884.69" stroke="#000" stroke-width="3"/>
<line x1="243.45" y1="876.39" x2="243.45" y2="884.69" stroke="#000" stroke-width="3"/>
<line x1="335.75" y1="876.39" x2="335.75" y2="884.69" stroke="#000" stroke-width="3"/>
<line x1="428.05" y1="876.39" x2="428.05" y2="884.69" stroke="#000" stroke-width="3"/>
<line x1="197.3" y1="1048.46" x2="197.3" y2="1065.46" stroke="#000" stroke-width="3"/>
<line x1="289.6" y1="1048.46" x2="289.6" y2="1065.46" stroke="#000" stroke-width="3"/>
<line x1="381.9" y1="1048.46" x2="381.9" y2="1065.46" stroke="#000" stroke-width="3"/>
<line x1="474.2" y1="1048.46" x2="474.2" y2="1065.46" stroke="#000" stroke-width="3"/>
<line x1="151.15" y1="1057.16" x2="151.15" y2="1065.46" stroke="#000" stroke-width="3"/>
<line x1="243.45" y1="1057.16" x2="243.45" y2="1065.46" stroke="#000" stroke-width="3"/>
<line x1="335.75" y1="1057.16" x2="335.75" y2="1065.46" stroke="#000" stroke-width="3"/>
<line x1="428.05" y1="1057.16" x2="428.05" y2="1065.46" stroke="#000" stroke-width="3"/>
<line x1="197.3" y1="1229.23" x2="197.3" y2="1246.23" stroke="#000" stroke-width="3"/>
<line x1="289.6" y1="1229.23" x2="289.6" y2="1246.23" stroke="#000" stroke-width="3"/>
<line x1="381.9" y1="1229.23" x2="381.9" y2="1246.23" stroke="#000" stroke-width="3"/>
<line x1="474.2" y1="1229.23" x2="474.2" y2="1246.23" stroke="#000" stroke-width="3"/>
<line x1="151.15" y1="1237.93" x2="151.15" y2="1246.23" stroke="#000" stroke-width="3"/>
<line x1="243.45" y1="1237.93" x2="243.45" y2="1246.23" stroke="#000" stroke-width="3"/>
<line x1="335.75" y1="1237.93" x2="335.75" y2="1246.23" stroke="#000" stroke-width="3"/>
<line x1="428.05" y1="1237.93" x2="428.05" y2="1246.23" stroke="#000" stroke-width="3"/>
<line x1="197.3" y1="1410" x2="197.3" y2="1427" stroke="#000" stroke-width="3"/>
<line x1="289.6" y1="1410" x2="289.6" y2="1427" stroke="#000" stroke-width="3"/>
<line x1="381.9" y1="1410" x2="381.9" y2="1427" stroke="#000" stroke-width="3"/>
<line x1="474.2" y1="1410" x2="474.2" y2="1427" stroke="#000" stroke-width="3"/>
<line x1="151.15" y1="1418.7" x2="151.15" y2="1427" stroke="#000" stroke-width="3"/>
<line x1="243.45" y1="1418.7" x2="243.45" y2="1427" stroke="#000" stroke-width="3"/>
<line x1="335.75" y1="1418.7" x2="335.75" y2="1427" stroke="#000" stroke-width="3"/>
<line x1="428.05" y1="1418.7" x2="428.05" y2="1427" stroke="#000" stroke-width="3"/>
<line x1="197.3" y1="161.6" x2="197.3" y2="178.6" stroke="#000" stroke-width="3"/>
<line x1="289.6" y1="161.6" x2="289.6" y2="178.6" stroke="#000" stroke-width="3"/>
<line x1="381.9" y1="161.6" x2="381.9" y2="178.6" stroke="#000" stroke-width="3"/>
<line x1="474.2" y1="161.6" x2="474.2" y2="178.6" stroke="#000" stroke-width="3"/>
<line x1="151.15" y1="161.6" x2="151.15" y2="169.9" stroke="#000" stroke-width="3"/>
<line x1="243.45" y1="161.6" x2="243.45" y2="169.9" stroke="#000" stroke-width="3"/>
<line x1="335.75" y1="161.6" x2="335.75" y2="169.9" stroke="#000" stroke-width="3"/>
<line x1="428.05" y1="161.6" x2="428.05" y2="169.9" stroke="#000" stroke-width="3"/>
<line x1="119.2" y1="185" x2="136.2" y2="185" stroke="#000" stroke-width="3"/>
<line x1="119.2" y1="230.7" x2="136.2" y2="230.7" stroke="#000" stroke-width="3"/>
<line x1="119.2" y1="276.4" x2="136.2" y2="276.4" stroke="#000" stroke-width="3"/>
<line x1="119.2" y1="322.1" x2="136.2" y2="322.1" stroke="#000" stroke-width="3"/>
<line x1="119.2" y1="207.85" x2="127.5" y2="207.85" stroke="#000" stroke-width="3"/>
<line x1="119.2" y1="253.55" x2="127.5" y2="253.55" stroke="#000" stroke-width="3"/>
<line x1="119.2" y1="299.25" x2="127.5" y2="299.25" stroke="#000" stroke-width="3"/>
<line x1="119.2" y1="546.54" x2="136.2" y2="546.54" stroke="#000" stroke-width="3"/>
<line x1="119.2" y1="592.24" x2="136.2" y2="592.24" stroke="#000" stroke-width="3"/>
<line x1="119.2" y1="637.94" x2="136.2" y2="637.94" stroke="#000" stroke-width="3"/>
<line x1="119.2" y1="683.64" x2="136.2" y2="683.64" stroke="#000" stroke-width="3"/>
<line x1="119.2" y1="569.39" x2="127.5" y2="569.39" stroke="#000" stroke-width="3"/>
<line x1="119.2" y1="615.09" x2="127.5" y2="615.09" stroke="#000" stroke-width="3"/>
<line x1="119.2" y1="660.79" x2="127.5" y2="660.79" stroke="#000" stroke-width="3"/>
<line x1="119.2" y1="727.31" x2="136.2" y2="727.31" stroke="#000" stroke-width="3"/>
<line x1="119.2" y1="773.01" x2="136.2" y2="773.01" stroke="#000" stroke-width="3"/>
<line x1="119.2" y1="818.71" x2="136.2" y2="818.71" stroke="#000" stroke-width="3"/>
<line x1="119.2" y1="864.41" x2="136.2" y2="864.41" stroke="#000" stroke-width="3"/>
<line x1="119.2" y1="750.16" x2="127.5" y2="750.16" stroke="#000" stroke-width="3"/>
<line x1="119.2" y1="795.86" x2="127.5" y2="795.86" stroke="#000" stroke-width="3"/>
<line x1="119.2" y1="841.56" x2="127.5" y2="841.56" stroke="#000" stroke-width="3"/>
<line x1="119.2" y1="908.09" x2="136.2" y2="908.09" stroke="#000" stroke-width="3"/>
<line x1="119.2" y1="953.79" x2="136.2" y2="953.79" stroke="#000" stroke-width="3"/>
<line x1="119.2" y1="999.49" x2="136.2" y2="999.49" stroke="#000" stroke-width="3"/>
<line x1="119.2" y1="1045.19" x2="136.2" y2="1045.19" stroke="#000" stroke-width="3"/>
<line x1="119.2" y1="930.94" x2="127.5" y2="930.94" stroke="#000" stroke-width="3"/>
<line x1="119.2" y1="976.64" x2="127.5" y2="976.64" stroke="#000" stroke-width="3"/>
<line x1="119.2" y1="1022.34" x2="127.5" y2="1022.34" stroke="#000" stroke-width="3"/>
<line x1="119.2" y1="1088.86" x2="136.2" y2="1088.86" stroke="#000" stroke-width="3"/>
<line x1="119.2" y1="1134.56" x2="136.2" y2="1134.56" stroke="#000" stroke-width="3"/>
<line x1="119.2" y1="1180.26" x2="136.2" y2="1180.26" stroke="#000" stroke-width="3"/>
<line x1="119.2" y1="1225.96" x2="136.2" y2="1225.96" stroke="#000" stroke-width="3"/>
<line x1="119.2" y1="1111.71" x2="127.5" y2="1111.71" stroke="#000" stroke-width="3"/>
<line x1="119.2" y1="1157.41" x2="127.5" y2="1157.41" stroke="#000" stroke-width="3"/>
<line x1="119.2" y1="1203.11" x2="127.5" y2="1203.11" stroke="#000" stroke-width="3"/>
<line x1="119.2" y1="1269.63" x2="136.2" y2="1269.63" stroke="#000" stroke-width="3"/>
<line x1="119.2" y1="1315.33" x2="136.2" y2="1315.33" stroke="#000" stroke-width="3"/>
<line x1="119.2" y1="1361.03" x2="136.2" y2="1361.03" stroke="#000" stroke-width="3"/>
<line x1="119.2" y1="1406.73" x2="136.2" y2="1406.73" stroke="#000" stroke-width="3"/>
<line x1="119.2" y1="1292.48" x2="127.5" y2="1292.48" stroke="#000" stroke-width="3"/>
<line x1="119.2" y1="1338.18" x2="127.5" y2="1338.18" stroke="#000" stroke-width="3"/>
<line x1="119.2" y1="1383.88" x2="127.5" y2="1383.88" stroke="#000" stroke-width="3"/>
<line x1="870.44" y1="325.37" x2="870.44" y2="342.37" stroke="#000" stroke-width="3"/>
<line x1="962.56" y1="325.37" x2="962.56" y2="342.37" stroke="#000" stroke-width="3"/>
<line x1="1054.68" y1="325.37" x2="1054.68" y2="342.37" stroke="#000" stroke-width="3"/>
<line x1="1146.8" y1="325.37" x2="1146.8" y2="342.37" stroke="#000" stroke-width="3"/>
<line x1="824.38" y1="334.07" x2="824.38" y2="342.37" stroke="#000" stroke-width="3"/>
<line x1="916.5" y1="334.07" x2="916.5" y2="342.37" stroke="#000" stroke-width="3"/>
<line x1="1008.62" y1="334.07" x2="1008.62" y2="342.37" stroke="#000" stroke-width="3"/>
<line x1="1100.74" y1="334.07" x2="1100.74" y2="342.37" stroke="#000" stroke-width="3"/>
<line x1="1192.86" y1="334.07" x2="1192.86" y2="342.37" stroke="#000" stroke-width="3"/>
<line x1="870.44" y1="506.14" x2="870.44" y2="523.14" stroke="#000" stroke-width="3"/>
<line x1="962.56" y1="506.14" x2="962.56" y2="523.14" stroke="#000" stroke-width="3"/>
<line x1="1054.68" y1="506.14" x2="1054.68" y2="523.14" stroke="#000" stroke-width="3"/>
<line x1="1146.8" y1="506.14" x2="1146.8" y2="523.14" stroke="#000" stroke-width="3"/>
<line x1="824.38" y1="514.84" x2="824.38" y2="523.14" stroke="#000" stroke-width="3"/>
<line x1="916.5" y1="514.84" x2="916.5" y2="523.14" stroke="#000" stroke-width="3"/>
<line x1="1008.62" y1="514.84" x2="1008.62" y2="523.14" stroke="#000" stroke-width="3"/>
<line x1="1100.74" y1="514.84" x2="1100.74" y2="523.14" stroke="#000" stroke-width="3"/>
<line x1="1192.86" y1="514.84" x2="1192.86" y2="523.14" stroke="#000" stroke-width="3"/>
<line x1="870.44" y1="686.91" x2="870.44" y2="703.91" stroke="#000" stroke-width="3"/>
<line x1="962.56" y1="686.91" x2="962.56" y2="703.91" stroke="#000" stroke-width="3"/>
<line x1="1054.68" y1="686.91" x2="1054.68" y2="703.91" stroke="#000" stroke-width="3"/>
<line x1="1146.8" y1="686.91" x2="1146.8" y2="703.91" stroke="#000" stroke-width="3"/>
<line x1="824.38" y1="695.61" x2="824.38" y2="703.91" stroke="#000" stroke-width="3"/>
<line x1="916.5" y1="695.61" x2="916.5" y2="703.91" stroke="#000" stroke-width="3"/>
<line x1="1008.62" y1="695.61" x2="1008.62" y2="703.91" stroke="#000" stroke-width="3"/>
<line x1="1100.74" y1="695.61" x2="1100.74" y2="703.91" stroke="#000" stroke-width="3"/>
<line x1="1192.86" y1="695.61" x2="1192.86" y2="703.91" stroke="#000" stroke-width="3"/>
<line x1="870.44" y1="867.69" x2="870.44" y2="884.69" stroke="#000" stroke-width="3"/>
<line x1="962.56" y1="867.69" x2="962.56" y2="884.69" stroke="#000" stroke-width="3"/>
<line x1="1054.68" y1="867.69" x2="1054.68" y2="884.69" stroke="#000" stroke-width="3"/>
<line x1="1146.8" y1="867.69" x2="1146.8" y2="884.69" stroke="#000" stroke-width="3"/>
<line x1="824.38" y1="876.39" x2="824.38" y2="884.69" stroke="#000" stroke-width="3"/>
<line x1="916.5" y1="876.39" x2="916.5" y2="884.69" stroke="#000" stroke-width="3"/>
<line x1="1008.62" y1="876.39" x2="1008.62" y2="884.69" stroke="#000" stroke-width="3"/>
<line x1="1100.74" y1="876.39" x2="1100.74" y2="884.69" stroke="#000" stroke-width="3"/>
<line x1="1192.86" y1="876.39" x2="1192.86" y2="884.69" stroke="#000" stroke-width="3"/>
<line x1="870.44" y1="1048.46" x2="870.44" y2="1065.46" stroke="#000" stroke-width="3"/>
<line x1="962.56" y1="1048.46" x2="962.56" y2="1065.46" stroke="#000" stroke-width="3"/>
<line x1="1054.68" y1="1048.46" x2="1054.68" y2="1065.46" stroke="#000" stroke-width="3"/>
<line x1="1146.8" y1="1048.46" x2="1146.8" y2="1065.46" stroke="#000" stroke-width="3"/>
<line x1="824.38" y1="1057.16" x2="824.38" y2="1065.46" stroke="#000" stroke-width="3"/>
<line x1="916.5" y1="1057.16" x2="916.5" y2="1065.46" stroke="#000" stroke-width="3"/>
<line x1="1008.62" y1="1057.16" x2="1008.62" y2="1065.46" stroke="#000" stroke-width="3"/>
<line x1="1100.74" y1="1057.16" x2="1100.74" y2="1065.46" stroke="#000" stroke-width="3"/>
<line x1="1192.86" y1="1057.16" x2="1192.86" y2="1065.46" stroke="#000" stroke-width="3"/>
<line x1="870.44" y1="1229.23" x2="870.44" y2="1246.23" stroke="#000" stroke-width="3"/>
<line x1="962.56" y1="1229.23" x2="962.56" y2="1246.23" stroke="#000" stroke-width="3"/>
<line x1="1054.68" y1="1229.23" x2="1054.68" y2="1246.23" stroke="#000" stroke-width="3"/>
<line x1="1146.8" y1="1229.23" x2="1146.8" y2="1246.23" stroke="#000" stroke-width="3"/>
<line x1="824.38" y1="1237.93" x2="824.38" y2="1246.23" stroke="#000" stroke-width="3"/>
<line x1="916.5" y1="1237.93" x2="916.5" y2="1246.23" stroke="#000" stroke-width="3"/>
<line x1="1008.62" y1="1237.93" x2="1008.62" y2="1246.23" stroke="#000" stroke-width="3"/>
<line x1="1100.74" y1="1237.93" x2="1100.74" y2="1246.23" stroke="#000" stroke-width="3"/>
<line x1="1192.86" y1="1237.93" x2="1192.86" y2="1246.23" stroke="#000" stroke-width="3"/>
<line x1="870.44" y1="1410" x2="870.44" y2="1427" stroke="#000" stroke-width="3"/>
<line x1="962.56" y1="1410" x2="962.56" y2="1427" stroke="#000" stroke-width="3"/>
<line x1="1054.68" y1="1410" x2="1054.68" y2="1427" stroke="#000" stroke-width="3"/>
<line x1="1146.8" y1="1410" x2="1146.8" y2="1427" stroke="#000" stroke-width="3"/>
<line x1="824.38" y1="1418.7" x2="824.38" y2="1427" stroke="#000" stroke-width="3"/>
<line x1="916.5" y1="1418.7" x2="916.5" y2="1427" stroke="#000" stroke-width="3"/>
<line x1="1008.62" y1="1418.7" x2="1008.62" y2="1427" stroke="#000" stroke-width="3"/>
<line x1="1100.74" y1="1418.7" x2="1100.74" y2="1427" stroke="#000" stroke-width="3"/>
<line x1="1192.86" y1="1418.7" x2="1192.86" y2="1427" stroke="#000" stroke-width="3"/>
<line x1="870.44" y1="161.6" x2="870.44" y2="178.6" stroke="#000" stroke-width="3"/>
<line x1="962.56" y1="161.6" x2="962.56" y2="178.6" stroke="#000" stroke-width="3"/>
<line x1="1054.68" y1="161.6" x2="1054.68" y2="178.6" stroke="#000" stroke-width="3"/>
<line x1="1146.8" y1="161.6" x2="1146.8" y2="178.6" stroke="#000" stroke-width="3"/>
<line x1="824.38" y1="161.6" x2="824.38" y2="169.9" stroke="#000" stroke-width="3"/>
<line x1="916.5" y1="161.6" x2="916.5" y2="169.9" stroke="#000" stroke-width="3"/>
<line x1="1008.62" y1="161.6" x2="1008.62" y2="169.9" stroke="#000" stroke-width="3"/>
<line x1="1100.74" y1="161.6" x2="1100.74" y2="169.9" stroke="#000" stroke-width="3"/>
<line x1="1192.86" y1="161.6" x2="1192.86" y2="169.9" stroke="#000" stroke-width="3"/>
<line x1="778.1" y1="185" x2="795.1" y2="185" stroke="#000" stroke-width="3"/>
<line x1="778.1" y1="230.7" x2="795.1" y2="230.7" stroke="#000" stroke-width="3"/>
<line x1="778.1" y1="276.4" x2="795.1" y2="276.4" stroke="#000" stroke-width="3"/>
<line x1="778.1" y1="322.1" x2="795.1" y2="322.1" stroke="#000" stroke-width="3"/>
<line x1="778.1" y1="207.85" x2="786.4" y2="207.85" stroke="#000" stroke-width="3"/>
<line x1="778.1" y1="253.55" x2="786.4" y2="253.55" stroke="#000" stroke-width="3"/>
<line x1="778.1" y1="299.25" x2="786.4" y2="299.25" stroke="#000" stroke-width="3"/>
<line x1="778.1" y1="546.54" x2="795.1" y2="546.54" stroke="#000" stroke-width="3"/>
<line x1="778.1" y1="592.24" x2="795.1" y2="592.24" stroke="#000" stroke-width="3"/>
<line x1="778.1" y1="637.94" x2="795.1" y2="637.94" stroke="#000" stroke-width="3"/>
<line x1="778.1" y1="683.64" x2="795.1" y2="683.64" stroke="#000" stroke-width="3"/>
<line x1="778.1" y1="569.39" x2="786.4" y2="569.39" stroke="#000" stroke-width="3"/>
<line x1="778.1" y1="615.09" x2="786.4" y2="615.09" stroke="#000" stroke-width="3"/>
<line x1="778.1" y1="660.79" x2="786.4" y2="660.79" stroke="#000" stroke-width="3"/>
<line x1="778.1" y1="727.31" x2="795.1" y2="727.31" stroke="#000" stroke-width="3"/>
<line x1="778.1" y1="773.01" x2="795.1" y2="773.01" stroke="#000" stroke-width="3"/>
<line x1="778.1" y1="818.71" x2="795.1" y2="818.71" stroke="#000" stroke-width="3"/>
<line x1="778.1" y1="864.41" x2="795.1" y2="864.41" stroke="#000" stroke-width="3"/>
<line x1="778.1" y1="750.16" x2="786.4" y2="750.16" stroke="#000" stroke-width="3"/>
<line x1="778.1" y1="795.86" x2="786.4" y2="795.86" stroke="#000" stroke-width="3"/>
<line x1="778.1" y1="841.56" x2="786.4" y2="841.56" stroke="#000" stroke-width="3"/>
<line x1="778.1" y1="908.09" x2="795.1" y2="908.09" stroke="#000" stroke-width="3"/>
<line x1="778.1" y1="953.79" x2="795.1" y2="953.79" stroke="#000" stroke-width="3"/>
<line x1="778.1" y1="999.49" x2="795.1" y2="999.49" stroke="#000" stroke-width="3"/>
<line x1="778.1" y1="1045.19" x2="795.1" y2="1045.19" stroke="#000" stroke-width="3"/>
<line x1="778.1" y1="930.94" x2="786.4" y2="930.94" stroke="#000" stroke-width="3"/>
<line x1="778.1" y1="976.64" x2="786.4" y2="976.64" stroke="#000" stroke-width="3"/>
<line x1="778.1" y1="1022.34" x2="786.4" y2="1022.34" stroke="#000" stroke-width="3"/>
<line x1="778.1" y1="1269.63" x2="795.1" y2="1269.63" stroke="#000" stroke-width="3"/>
<line x1="778.1" y1="1315.33" x2="795.1" y2="1315.33" stroke="#000" stroke-width="3"/>
<line x1="778.1" y1="1361.03" x2="795.1" y2="1361.03" stroke="#000" stroke-width="3"/>
<line x1="778.1" y1="1406.73" x2="795.1" y2="1406.73" stroke="#000" stroke-width="3"/>
<line x1="778.1" y1="1292.48" x2="786.4" y2="1292.48" stroke="#000" stroke-width="3"/>
<line x1="778.1" y1="1338.18" x2="786.4" y2="1338.18" stroke="#000" stroke-width="3"/>
<line x1="778.1" y1="1383.88" x2="786.4" y2="1383.88" stroke="#000" stroke-width="3"/>
<line x1="778.1" y1="1095.5" x2="795.1" y2="1095.5" stroke="#000" stroke-width="3"/>
<line x1="778.1" y1="1155.7" x2="795.1" y2="1155.7" stroke="#000" stroke-width="3"/>
<line x1="778.1" y1="1216" x2="795.1" y2="1216" stroke="#000" stroke-width="3"/>
<line x1="778.1" y1="1125.4" x2="786.4" y2="1125.4" stroke="#000" stroke-width="3"/>
<line x1="778.1" y1="1185.7" x2="786.4" y2="1185.7" stroke="#000" stroke-width="3"/>
<line x1="119.2" y1="372" x2="136.2" y2="372" stroke="#000" stroke-width="3"/>
<line x1="119.2" y1="417.2" x2="136.2" y2="417.2" stroke="#000" stroke-width="3"/>
<line x1="119.2" y1="462.4" x2="136.2" y2="462.4" stroke="#000" stroke-width="3"/>
<line x1="119.2" y1="349.4" x2="127.5" y2="349.4" stroke="#000" stroke-width="3"/>
<line x1="119.2" y1="394.6" x2="127.5" y2="394.6" stroke="#000" stroke-width="3"/>
<line x1="119.2" y1="439.8" x2="127.5" y2="439.8" stroke="#000" stroke-width="3"/>
<line x1="119.2" y1="484.9" x2="127.5" y2="484.9" stroke="#000" stroke-width="3"/>
<line x1="778.1" y1="368.2" x2="795.1" y2="368.2" stroke="#000" stroke-width="3"/>
<line x1="778.1" y1="413.4" x2="795.1" y2="413.4" stroke="#000" stroke-width="3"/>
<line x1="778.1" y1="458" x2="795.1" y2="458" stroke="#000" stroke-width="3"/>
<line x1="778.1" y1="502.8" x2="795.1" y2="502.8" stroke="#000" stroke-width="3"/>
<line x1="778.1" y1="346" x2="786.4" y2="346" stroke="#000" stroke-width="3"/>
<line x1="778.1" y1="390.6" x2="786.4" y2="390.6" stroke="#000" stroke-width="3"/>
<line x1="778.1" y1="435.4" x2="786.4" y2="435.4" stroke="#000" stroke-width="3"/>
<line x1="778.1" y1="480.3" x2="786.4" y2="480.3" stroke="#000" stroke-width="3"/>
<line x1="470.7" y1="185" x2="487.7" y2="185" stroke="#000" stroke-width="3"/>
<line x1="470.7" y1="230.7" x2="487.7" y2="230.7" stroke="#000" stroke-width="3"/>
<line x1="470.7" y1="276.4" x2="487.7" y2="276.4" stroke="#000" stroke-width="3"/>
<line x1="470.7" y1="322.1" x2="487.7" y2="322.1" stroke="#000" stroke-width="3"/>
<line x1="479.4" y1="207.85" x2="487.7" y2="207.85" stroke="#000" stroke-width="3"/>
<line x1="479.4" y1="253.55" x2="487.7" y2="253.55" stroke="#000" stroke-width="3"/>
<line x1="479.4" y1="299.25" x2="487.7" y2="299.25" stroke="#000" stroke-width="3"/>
<line x1="470.7" y1="363.5" x2="487.7" y2="363.5" stroke="#000" stroke-width="3"/>
<line x1="470.7" y1="405.9" x2="487.7" y2="405.9" stroke="#000" stroke-width="3"/>
<line x1="470.7" y1="448.4" x2="487.7" y2="448.4" stroke="#000" stroke-width="3"/>
<line x1="470.7" y1="490.9" x2="487.7" y2="490.9" stroke="#000" stroke-width="3"/>
<line x1="479.4" y1="384.7" x2="487.7" y2="384.7" stroke="#000" stroke-width="3"/>
<line x1="479.4" y1="427.4" x2="487.7" y2="427.4" stroke="#000" stroke-width="3"/>
<line x1="479.4" y1="469.6" x2="487.7" y2="469.6" stroke="#000" stroke-width="3"/>
<line x1="479.4" y1="512.1" x2="487.7" y2="512.1" stroke="#000" stroke-width="3"/>
<line x1="470.7" y1="594.8" x2="487.7" y2="594.8" stroke="#000" stroke-width="3"/>
<line x1="470.7" y1="666.9" x2="487.7" y2="666.9" stroke="#000" stroke-width="3"/>
<line x1="479.4" y1="558.7" x2="487.7" y2="558.7" stroke="#000" stroke-width="3"/>
<line x1="479.4" y1="630.9" x2="487.7" y2="630.9" stroke="#000" stroke-width="3"/>
<line x1="470.7" y1="744" x2="487.7" y2="744" stroke="#000" stroke-width="3"/>
<line x1="470.7" y1="784" x2="487.7" y2="784" stroke="#000" stroke-width="3"/>
<line x1="470.7" y1="823.9" x2="487.7" y2="823.9" stroke="#000" stroke-width="3"/>
<line x1="470.7" y1="863.8" x2="487.7" y2="863.8" stroke="#000" stroke-width="3"/>
<line x1="479.4" y1="724" x2="487.7" y2="724" stroke="#000" stroke-width="3"/>
<line x1="479.4" y1="764" x2="487.7" y2="764" stroke="#000" stroke-width="3"/>
<line x1="479.4" y1="803.9" x2="487.7" y2="803.9" stroke="#000" stroke-width="3"/>
<line x1="479.4" y1="843.8" x2="487.7" y2="843.8" stroke="#000" stroke-width="3"/>
<line x1="470.7" y1="912.5" x2="487.7" y2="912.5" stroke="#000" stroke-width="3"/>
<line x1="470.7" y1="967.8" x2="487.7" y2="967.8" stroke="#000" stroke-width="3"/>
<line x1="470.7" y1="1023.4" x2="487.7" y2="1023.4" stroke="#000" stroke-width="3"/>
<line x1="479.4" y1="940.1" x2="487.7" y2="940.1" stroke="#000" stroke-width="3"/>
<line x1="479.4" y1="995.5" x2="487.7" y2="995.5" stroke="#000" stroke-width="3"/>
<line x1="479.4" y1="1051.2" x2="487.7" y2="1051.2" stroke="#000" stroke-width="3"/>
<line x1="470.7" y1="1119.5" x2="487.7" y2="1119.5" stroke="#000" stroke-width="3"/>
<line x1="470.7" y1="1174.2" x2="487.7" y2="1174.2" stroke="#000" stroke-width="3"/>
<line x1="470.7" y1="1229" x2="487.7" y2="1229" stroke="#000" stroke-width="3"/>
<line x1="479.4" y1="1092.3" x2="487.7" y2="1092.3" stroke="#000" stroke-width="3"/>
<line x1="479.4" y1="1147.2" x2="487.7" y2="1147.2" stroke="#000" stroke-width="3"/>
<line x1="479.4" y1="1201.6" x2="487.7" y2="1201.6" stroke="#000" stroke-width="3"/>
<line x1="470.7" y1="1269.63" x2="487.7" y2="1269.63" stroke="#000" stroke-width="3"/>
<line x1="470.7" y1="1315.33" x2="487.7" y2="1315.33" stroke="#000" stroke-width="3"/>
<line x1="470.7" y1="1361.03" x2="487.7" y2="1361.03" stroke="#000" stroke-width="3"/>
<line x1="470.7" y1="1406.73" x2="487.7" y2="1406.73" stroke="#000" stroke-width="3"/>
<line x1="479.4" y1="1292.48" x2="487.7" y2="1292.48" stroke="#000" stroke-width="3"/>
<line x1="479.4" y1="1338.18" x2="487.7" y2="1338.18" stroke="#000" stroke-width="3"/>
<line x1="479.4" y1="1383.88" x2="487.7" y2="1383.88" stroke="#000" stroke-width="3"/>
<line x1="1221.7" y1="185" x2="1238.7" y2="185" stroke="#000" stroke-width="3"/>
<line x1="1221.7" y1="230.7" x2="1238.7" y2="230.7" stroke="#000" stroke-width="3"/>
<line x1="1221.7" y1="276.4" x2="1238.7" y2="276.4" stroke="#000" stroke-width="3"/>
<line x1="1221.7" y1="322.1" x2="1238.7" y2="322.1" stroke="#000" stroke-width="3"/>
<line x1="1230.4" y1="207.85" x2="1238.7" y2="207.85" stroke="#000" stroke-width="3"/>
<line x1="1230.4" y1="253.55" x2="1238.7" y2="253.55" stroke="#000" stroke-width="3"/>
<line x1="1230.4" y1="299.25" x2="1238.7" y2="299.25" stroke="#000" stroke-width="3"/>
<line x1="1221.7" y1="363.5" x2="1238.7" y2="363.5" stroke="#000" stroke-width="3"/>
<line x1="1221.7" y1="405.9" x2="1238.7" y2="405.9" stroke="#000" stroke-width="3"/>
<line x1="1221.7" y1="448.4" x2="1238.7" y2="448.4" stroke="#000" stroke-width="3"/>
<line x1="1221.7" y1="490.9" x2="1238.7" y2="490.9" stroke="#000" stroke-width="3"/>
<line x1="1230.4" y1="384.7" x2="1238.7" y2="384.7" stroke="#000" stroke-width="3"/>
<line x1="1230.4" y1="427.4" x2="1238.7" y2="427.4" stroke="#000" stroke-width="3"/>
<line x1="1230.4" y1="469.6" x2="1238.7" y2="469.6" stroke="#000" stroke-width="3"/>
<line x1="1230.4" y1="512.1" x2="1238.7" y2="512.1" stroke="#000" stroke-width="3"/>
<line x1="1221.7" y1="594.8" x2="1238.7" y2="594.8" stroke="#000" stroke-width="3"/>
<line x1="1221.7" y1="666.9" x2="1238.7" y2="666.9" stroke="#000" stroke-width="3"/>
<line x1="1230.4" y1="558.7" x2="1238.7" y2="558.7" stroke="#000" stroke-width="3"/>
<line x1="1230.4" y1="630.9" x2="1238.7" y2="630.9" stroke="#000" stroke-width="3"/>
<line x1="1221.7" y1="744" x2="1238.7" y2="744" stroke="#000" stroke-width="3"/>
<line x1="1221.7" y1="784" x2="1238.7" y2="784" stroke="#000" stroke-width="3"/>
<line x1="1221.7" y1="823.9" x2="1238.7" y2="823.9" stroke="#000" stroke-width="3"/>
<line x1="1221.7" y1="863.8" x2="1238.7" y2="863.8" stroke="#000" stroke-width="3"/>
<line x1="1230.4" y1="724" x2="1238.7" y2="724" stroke="#000" stroke-width="3"/>
<line x1="1230.4" y1="764" x2="1238.7" y2="764" stroke="#000" stroke-width="3"/>
<line x1="1230.4" y1="803.9" x2="1238.7" y2="803.9" stroke="#000" stroke-width="3"/>
<line x1="1230.4" y1="843.8" x2="1238.7" y2="843.8" stroke="#000" stroke-width="3"/>
<line x1="1221.7" y1="912.5" x2="1238.7" y2="912.5" stroke="#000" stroke-width="3"/>
<line x1="1221.7" y1="967.8" x2="1238.7" y2="967.8" stroke="#000" stroke-width="3"/>
<line x1="1221.7" y1="1023.4" x2="1238.7" y2="1023.4" stroke="#000" stroke-width="3"/>
<line x1="1230.4" y1="940.1" x2="1238.7" y2="940.1" stroke="#000" stroke-width="3"/>
<line x1="1230.4" y1="995.5" x2="1238.7" y2="995.5" stroke="#000" stroke-width="3"/>
<line x1="1230.4" y1="1051.2" x2="1238.7" y2="1051.2" stroke="#000" stroke-width="3"/>
<line x1="1221.7" y1="1119.5" x2="1238.7" y2="1119.5" stroke="#000" stroke-width="3"/>
<line x1="1221.7" y1="1174.2" x2="1238.7" y2="1174.2" stroke="#000" stroke-width="3"/>
<line x1="1221.7" y1="1229" x2="1238.7" y2="1229" stroke="#000" stroke-width="3"/>
<line x1="1230.4" y1="1092.3" x2="1238.7" y2="1092.3" stroke="#000" stroke-width="3"/>
<line x1="1230.4" y1="1147.2" x2="1238.7" y2="1147.2" stroke="#000" stroke-width="3"/>
<line x1="1230.4" y1="1201.6" x2="1238.7" y2="1201.6" stroke="#000" stroke-width="3"/>
<line x1="1221.7" y1="1269.63" x2="1238.7" y2="1269.63" stroke="#000" stroke-width="3"/>
<line x1="1221.7" y1="1315.33" x2="1238.7" y2="1315.33" stroke="#000" stroke-width="3"/>
<line x1="1221.7" y1="1361.03" x2="1238.7" y2="1361.03" stroke="#000" stroke-width="3"/>
<line x1="1221.7" y1="1406.73" x2="1238.7" y2="1406.73" stroke="#000" stroke-width="3"/>
<line x1="1230.4" y1="1292.48" x2="1238.7" y2="1292.48" stroke="#000" stroke-width="3"/>
<line x1="1230.4" y1="1338.18" x2="1238.7" y2="1338.18" stroke="#000" stroke-width="3"/>
<line x1="1230.4" y1="1383.88" x2="1238.7" y2="1383.88" stroke="#000" stroke-width="3"/>
<g clip-path="url(#cA2)">
<g fill="#fff" stroke="#0d8080" stroke-width="1.2">
<circle cx="120.6" cy="557.9" r="6"/>
<circle cx="124.17" cy="569.79" r="6"/>
<circle cx="127.74" cy="577.78" r="6"/>
<circle cx="131.31" cy="584.57" r="6"/>
<circle cx="134.88" cy="589.44" r="6"/>
<circle cx="138.45" cy="593" r="6"/>
<circle cx="142.02" cy="595.59" r="6"/>
<circle cx="145.59" cy="597.9" r="6"/>
<circle cx="149.16" cy="599.23" r="6"/>
<circle cx="152.73" cy="599.27" r="6"/>
<circle cx="156.3" cy="599.13" r="6"/>
<circle cx="159.87" cy="598.91" r="6"/>
<circle cx="163.44" cy="598.65" r="6"/>
<circle cx="167.01" cy="598.28" r="6"/>
<circle cx="170.58" cy="597.65" r="6"/>
<circle cx="174.15" cy="596.87" r="6"/>
<circle cx="177.72" cy="596.01" r="6"/>
<circle cx="181.29" cy="595.18" r="6"/>
<circle cx="184.86" cy="594.46" r="6"/>
<circle cx="188.43" cy="593.85" r="6"/>
<circle cx="192" cy="593.26" r="6"/>
<circle cx="195.57" cy="592.68" r="6"/>
<circle cx="199.14" cy="592.13" r="6"/>
<circle cx="202.71" cy="591.59" r="6"/>
<circle cx="206.28" cy="591.09" r="6"/>
<circle cx="209.85" cy="590.62" r="6"/>
<circle cx="213.42" cy="590.17" r="6"/>
<circle cx="216.99" cy="589.76" r="6"/>
<circle cx="220.56" cy="589.37" r="6"/>
<circle cx="224.13" cy="588.99" r="6"/>
<circle cx="227.7" cy="588.64" r="6"/>
<circle cx="231.27" cy="588.29" r="6"/>
<circle cx="234.84" cy="587.97" r="6"/>
<circle cx="238.41" cy="587.65" r="6"/>
<circle cx="241.98" cy="587.34" r="6"/>
<circle cx="245.55" cy="587.04" r="6"/>
<circle cx="249.12" cy="586.74" r="6"/>
<circle cx="252.69" cy="586.46" r="6"/>
<circle cx="256.26" cy="586.18" r="6"/>
<circle cx="259.83" cy="585.92" r="6"/>
<circle cx="263.4" cy="585.67" r="6"/>
<circle cx="266.97" cy="585.44" r="6"/>
<circle cx="270.54" cy="585.24" r="6"/>
<circle cx="274.11" cy="585.07" r="6"/>
<circle cx="277.68" cy="584.92" r="6"/>
<circle cx="281.25" cy="584.79" r="6"/>
<circle cx="284.82" cy="584.67" r="6"/>
<circle cx="288.39" cy="584.54" r="6"/>
<circle cx="291.96" cy="584.38" r="6"/>
<circle cx="295.53" cy="584.2" r="6"/>
<circle cx="299.1" cy="583.97" r="6"/>
<circle cx="302.67" cy="583.62" r="6"/>
<circle cx="306.24" cy="583.07" r="6"/>
<circle cx="309.81" cy="582.42" r="6"/>
<circle cx="313.38" cy="581.8" r="6"/>
<circle cx="316.95" cy="581.23" r="6"/>
<circle cx="320.52" cy="580.65" r="6"/>
<circle cx="324.09" cy="580.1" r="6"/>
<circle cx="327.66" cy="579.65" r="6"/>
<circle cx="331.23" cy="579.27" r="6"/>
<circle cx="334.8" cy="578.9" r="6"/>
<circle cx="338.37" cy="578.57" r="6"/>
<circle cx="341.94" cy="578.32" r="6"/>
<circle cx="345.51" cy="578.2" r="6"/>
<circle cx="349.08" cy="578.85" r="6"/>
<circle cx="352.65" cy="580.67" r="6"/>
<circle cx="356.22" cy="582.67" r="6"/>
<circle cx="359.79" cy="585.12" r="6"/>
<circle cx="363.36" cy="587.57" r="6"/>
<circle cx="366.93" cy="589.92" r="6"/>
<circle cx="370.5" cy="592.28" r="6"/>
<circle cx="374.07" cy="594.58" r="6"/>
<circle cx="377.64" cy="596.76" r="6"/>
<circle cx="381.21" cy="598.87" r="6"/>
<circle cx="384.78" cy="600.9" r="6"/>
<circle cx="388.35" cy="602.81" r="6"/>
<circle cx="391.92" cy="604.53" r="6"/>
<circle cx="395.49" cy="606.13" r="6"/>
<circle cx="399.06" cy="607.62" r="6"/>
<circle cx="402.63" cy="608.96" r="6"/>
<circle cx="406.2" cy="610.11" r="6"/>
<circle cx="409.77" cy="611.16" r="6"/>
<circle cx="413.34" cy="612.11" r="6"/>
<circle cx="416.91" cy="612.89" r="6"/>
<circle cx="420.48" cy="613.47" r="6"/>
<circle cx="424.05" cy="613.99" r="6"/>
<circle cx="427.62" cy="614.47" r="6"/>
<circle cx="431.19" cy="614.89" r="6"/>
<circle cx="434.76" cy="615.2" r="6"/>
<circle cx="438.33" cy="615.37" r="6"/>
<circle cx="441.9" cy="615.4" r="6"/>
<circle cx="445.47" cy="615.4" r="6"/>
<circle cx="449.04" cy="615.4" r="6"/>
<circle cx="452.61" cy="615.4" r="6"/>
<circle cx="456.18" cy="615.4" r="6"/>
<circle cx="459.75" cy="615.4" r="6"/>
<circle cx="463.32" cy="615.4" r="6"/>
<circle cx="466.89" cy="615.4" r="6"/>
<circle cx="470.46" cy="615.4" r="6"/>
<circle cx="474.03" cy="615.4" r="6"/>
<circle cx="477.6" cy="615.4" r="6"/>
<circle cx="481.17" cy="615.4" r="6"/>
<circle cx="484.74" cy="615.4" r="6"/>
</g>
<polyline fill="none" stroke="#000" stroke-width="1" stroke-linejoin="round" points="125.5,515 129.07,548.06 132.64,582.11 136.21,606.43 139.78,627.85 143.35,639.65 146.92,650.26 150.49,657.87 154.06,660.16 157.63,662.32 161.2,663.78 164.77,663.53 168.34,661.09 171.91,659.5 175.48,660.5 179.05,659.07 182.62,660.82 186.19,661.99 189.76,660.03 193.33,661.16 196.9,659.2 200.47,659.94 204.04,662.71 207.61,664.34 211.18,667.06 214.75,661.34 218.32,658.27 221.89,659.97 225.46,660.5 229.03,659.5 232.6,661 236.17,659.76 239.74,660 243.31,659.81 246.88,658.64 250.45,659.09 254.02,658.57 257.59,656.86 261.16,661.96 264.73,662.41 268.3,661.58 271.87,662.49 275.44,657.49 279.01,657.15 282.58,660.07 286.15,659.38 289.72,657.64 293.29,658.84 296.86,656.66 300.43,652.49 304,656.21 307.57,658.83 311.14,657.23 314.71,655.95 318.28,655.31 321.85,654.83 325.42,656.44 328.99,657.31 332.56,655.52 336.13,655.14 339.7,658.65 343.27,660.01 346.84,658.11 350.41,656.8 353.98,657.4 357.55,658.09 361.12,657.6 364.69,655.79 368.26,655.4 371.83,655.4 375.4,655.4 378.97,656.19 382.54,657.06 386.11,658.3 389.68,660.45 393.25,660.76 396.82,660.34 400.39,660.3 403.96,658.35 407.53,655.52 411.1,655.1 414.67,656.89 418.24,658.1 421.81,657.67 425.38,656.87 428.95,658.57 432.52,661.9 436.09,662.94 439.66,662.19 443.23,660.92 446.8,658.49 450.37,656.8 453.94,656.8 457.51,656.8 461.08,658.58 464.65,662.64 468.22,661.56 471.79,659.32 475.36,657.72 478.93,656.76 482.5,655.62 486.07,656.44"/>
<g fill="#fff" stroke="#000" stroke-width="1.3">
<circle cx="125.5" cy="515" r="6"/>
<circle cx="129.07" cy="548.06" r="6"/>
<circle cx="132.64" cy="582.11" r="6"/>
<circle cx="136.21" cy="606.43" r="6"/>
<circle cx="139.78" cy="627.85" r="6"/>
<circle cx="143.35" cy="639.65" r="6"/>
<circle cx="146.92" cy="650.26" r="6"/>
<circle cx="150.49" cy="657.87" r="6"/>
<circle cx="154.06" cy="660.16" r="6"/>
<circle cx="157.63" cy="662.32" r="6"/>
<circle cx="161.2" cy="663.78" r="6"/>
<circle cx="164.77" cy="663.53" r="6"/>
<circle cx="168.34" cy="661.09" r="6"/>
<circle cx="171.91" cy="659.5" r="6"/>
<circle cx="175.48" cy="660.5" r="6"/>
<circle cx="179.05" cy="659.07" r="6"/>
<circle cx="182.62" cy="660.82" r="6"/>
<circle cx="186.19" cy="661.99" r="6"/>
<circle cx="189.76" cy="660.03" r="6"/>
<circle cx="193.33" cy="661.16" r="6"/>
<circle cx="196.9" cy="659.2" r="6"/>
<circle cx="200.47" cy="659.94" r="6"/>
<circle cx="204.04" cy="662.71" r="6"/>
<circle cx="207.61" cy="664.34" r="6"/>
<circle cx="211.18" cy="667.06" r="6"/>
<circle cx="214.75" cy="661.34" r="6"/>
<circle cx="218.32" cy="658.27" r="6"/>
<circle cx="221.89" cy="659.97" r="6"/>
<circle cx="225.46" cy="660.5" r="6"/>
<circle cx="229.03" cy="659.5" r="6"/>
<circle cx="232.6" cy="661" r="6"/>
<circle cx="236.17" cy="659.76" r="6"/>
<circle cx="239.74" cy="660" r="6"/>
<circle cx="243.31" cy="659.81" r="6"/>
<circle cx="246.88" cy="658.64" r="6"/>
<circle cx="250.45" cy="659.09" r="6"/>
<circle cx="254.02" cy="658.57" r="6"/>
<circle cx="257.59" cy="656.86" r="6"/>
<circle cx="261.16" cy="661.96" r="6"/>
<circle cx="264.73" cy="662.41" r="6"/>
<circle cx="268.3" cy="661.58" r="6"/>
<circle cx="271.87" cy="662.49" r="6"/>
<circle cx="275.44" cy="657.49" r="6"/>
<circle cx="279.01" cy="657.15" r="6"/>
<circle cx="282.58" cy="660.07" r="6"/>
<circle cx="286.15" cy="659.38" r="6"/>
<circle cx="289.72" cy="657.64" r="6"/>
<circle cx="293.29" cy="658.84" r="6"/>
<circle cx="296.86" cy="656.66" r="6"/>
<circle cx="300.43" cy="652.49" r="6"/>
<circle cx="304" cy="656.21" r="6"/>
<circle cx="307.57" cy="658.83" r="6"/>
<circle cx="311.14" cy="657.23" r="6"/>
<circle cx="314.71" cy="655.95" r="6"/>
<circle cx="318.28" cy="655.31" r="6"/>
<circle cx="321.85" cy="654.83" r="6"/>
<circle cx="325.42" cy="656.44" r="6"/>
<circle cx="328.99" cy="657.31" r="6"/>
<circle cx="332.56" cy="655.52" r="6"/>
<circle cx="336.13" cy="655.14" r="6"/>
<circle cx="339.7" cy="658.65" r="6"/>
<circle cx="343.27" cy="660.01" r="6"/>
<circle cx="346.84" cy="658.11" r="6"/>
<circle cx="350.41" cy="656.8" r="6"/>
<circle cx="353.98" cy="657.4" r="6"/>
<circle cx="357.55" cy="658.09" r="6"/>
<circle cx="361.12" cy="657.6" r="6"/>
<circle cx="364.69" cy="655.79" r="6"/>
<circle cx="368.26" cy="655.4" r="6"/>
<circle cx="371.83" cy="655.4" r="6"/>
<circle cx="375.4" cy="655.4" r="6"/>
<circle cx="378.97" cy="656.19" r="6"/>
<circle cx="382.54" cy="657.06" r="6"/>
<circle cx="386.11" cy="658.3" r="6"/>
<circle cx="389.68" cy="660.45" r="6"/>
<circle cx="393.25" cy="660.76" r="6"/>
<circle cx="396.82" cy="660.34" r="6"/>
<circle cx="400.39" cy="660.3" r="6"/>
<circle cx="403.96" cy="658.35" r="6"/>
<circle cx="407.53" cy="655.52" r="6"/>
<circle cx="411.1" cy="655.1" r="6"/>
<circle cx="414.67" cy="656.89" r="6"/>
<circle cx="418.24" cy="658.1" r="6"/>
<circle cx="421.81" cy="657.67" r="6"/>
<circle cx="425.38" cy="656.87" r="6"/>
<circle cx="428.95" cy="658.57" r="6"/>
<circle cx="432.52" cy="661.9" r="6"/>
<circle cx="436.09" cy="662.94" r="6"/>
<circle cx="439.66" cy="662.19" r="6"/>
<circle cx="443.23" cy="660.92" r="6"/>
<circle cx="446.8" cy="658.49" r="6"/>
<circle cx="450.37" cy="656.8" r="6"/>
<circle cx="453.94" cy="656.8" r="6"/>
<circle cx="457.51" cy="656.8" r="6"/>
<circle cx="461.08" cy="658.58" r="6"/>
<circle cx="464.65" cy="662.64" r="6"/>
<circle cx="468.22" cy="661.56" r="6"/>
<circle cx="471.79" cy="659.32" r="6"/>
<circle cx="475.36" cy="657.72" r="6"/>
<circle cx="478.93" cy="656.76" r="6"/>
<circle cx="482.5" cy="655.62" r="6"/>
<circle cx="486.07" cy="656.44" r="6"/>
</g>
</g>
<rect x="119.2" y="161.6" width="368.5" height="1265.4" fill="none" stroke="#000" stroke-width="3"/>
<line x1="119.2" y1="342.37" x2="487.7" y2="342.37" stroke="#000" stroke-width="3"/>
<line x1="119.2" y1="523.14" x2="487.7" y2="523.14" stroke="#000" stroke-width="3"/>
<line x1="119.2" y1="703.91" x2="487.7" y2="703.91" stroke="#000" stroke-width="3"/>
<line x1="119.2" y1="884.69" x2="487.7" y2="884.69" stroke="#000" stroke-width="3"/>
<line x1="119.2" y1="1065.46" x2="487.7" y2="1065.46" stroke="#000" stroke-width="3"/>
<line x1="119.2" y1="1246.23" x2="487.7" y2="1246.23" stroke="#000" stroke-width="3"/>
<rect x="778.1" y="161.6" width="460.6" height="1265.4" fill="none" stroke="#000" stroke-width="3"/>
<line x1="778.1" y1="342.37" x2="1238.7" y2="342.37" stroke="#000" stroke-width="3"/>
<line x1="778.1" y1="523.14" x2="1238.7" y2="523.14" stroke="#000" stroke-width="3"/>
<line x1="778.1" y1="703.91" x2="1238.7" y2="703.91" stroke="#000" stroke-width="3"/>
<line x1="778.1" y1="884.69" x2="1238.7" y2="884.69" stroke="#000" stroke-width="3"/>
<line x1="778.1" y1="1065.46" x2="1238.7" y2="1065.46" stroke="#000" stroke-width="3"/>
<line x1="778.1" y1="1246.23" x2="1238.7" y2="1246.23" stroke="#000" stroke-width="3"/>
<text x="-0.8" y="37.4" font-size="50" fill="#000" text-anchor="start">a)</text>
<text x="656" y="37.5" font-size="50" fill="#000" text-anchor="start">b)</text>
<rect x="117.5" y="28.3" width="372.5" height="62.6" fill="none" stroke="#000" stroke-width="1.35"/>
<rect x="772.8" y="28.4" width="468.4" height="62.7" fill="none" stroke="#000" stroke-width="1.35"/>
<text x="303.8" y="76.2" font-size="45.5" fill="#000" text-anchor="middle">ISG-90/90</text>
<g fill="#000"><text x="879.28" y="76.2" font-size="45.5">QBG-90/</text><path d="M763 0L583 0L583 1098Q518 1039 412 979Q306 920 222 890L222 1057Q373 1125 486 1221Q599 1318 646 1409L763 1409Z" transform="translate(1058.81,76.2) scale(0.02222,-0.02222)"/><text x="1084.11" y="76.2" font-size="45.5">50</text></g>
<g fill="#000"><text x="180.85" y="133.8" font-size="37">-2</text></g>
<g fill="#000"><text x="180.85" y="1474.2" font-size="37">-2</text></g>
<g fill="#000"><text x="273.15" y="133.8" font-size="37">-</text><path d="M763 0L583 0L583 1098Q518 1039 412 979Q306 920 222 890L222 1057Q373 1125 486 1221Q599 1318 646 1409L763 1409Z" transform="translate(285.47,133.8) scale(0.01807,-0.01807)"/></g>
<g fill="#000"><text x="273.15" y="1474.2" font-size="37">-</text><path d="M763 0L583 0L583 1098Q518 1039 412 979Q306 920 222 890L222 1057Q373 1125 486 1221Q599 1318 646 1409L763 1409Z" transform="translate(285.47,1474.2) scale(0.01807,-0.01807)"/></g>
<g fill="#000"><text x="371.61" y="133.8" font-size="37">0</text></g>
<g fill="#000"><text x="371.61" y="1474.2" font-size="37">0</text></g>
<g fill="#000"><path d="M763 0L583 0L583 1098Q518 1039 412 979Q306 920 222 890L222 1057Q373 1125 486 1221Q599 1318 646 1409L763 1409Z" transform="translate(463.91,133.8) scale(0.01807,-0.01807)"/></g>
<g fill="#000"><path d="M763 0L583 0L583 1098Q518 1039 412 979Q306 920 222 890L222 1057Q373 1125 486 1221Q599 1318 646 1409L763 1409Z" transform="translate(463.91,1474.2) scale(0.01807,-0.01807)"/></g>
<g fill="#000"><text x="761.87" y="133.8" font-size="37">-4</text></g>
<g fill="#000"><text x="761.87" y="1474.2" font-size="37">-4</text></g>
<g fill="#000"><text x="853.99" y="133.8" font-size="37">-3</text></g>
<g fill="#000"><text x="853.99" y="1474.2" font-size="37">-3</text></g>
<g fill="#000"><text x="946.11" y="133.8" font-size="37">-2</text></g>
<g fill="#000"><text x="946.11" y="1474.2" font-size="37">-2</text></g>
<g fill="#000"><text x="1038.23" y="133.8" font-size="37">-</text><path d="M763 0L583 0L583 1098Q518 1039 412 979Q306 920 222 890L222 1057Q373 1125 486 1221Q599 1318 646 1409L763 1409Z" transform="translate(1050.55,133.8) scale(0.01807,-0.01807)"/></g>
<g fill="#000"><text x="1038.23" y="1474.2" font-size="37">-</text><path d="M763 0L583 0L583 1098Q518 1039 412 979Q306 920 222 890L222 1057Q373 1125 486 1221Q599 1318 646 1409L763 1409Z" transform="translate(1050.55,1474.2) scale(0.01807,-0.01807)"/></g>
<g fill="#000"><text x="1136.51" y="133.8" font-size="37">0</text></g>
<g fill="#000"><text x="1136.51" y="1474.2" font-size="37">0</text></g>
<g fill="#000"><path d="M763 0L583 0L583 1098Q518 1039 412 979Q306 920 222 890L222 1057Q373 1125 486 1221Q599 1318 646 1409L763 1409Z" transform="translate(1228.63,133.8) scale(0.01807,-0.01807)"/></g>
<g fill="#000"><path d="M763 0L583 0L583 1098Q518 1039 412 979Q306 920 222 890L222 1057Q373 1125 486 1221Q599 1318 646 1409L763 1409Z" transform="translate(1228.63,1474.2) scale(0.01807,-0.01807)"/></g>
<text x="305.7" y="1543.7" font-size="45.5" text-anchor="middle">Distance surface-<tspan fill="#0b8080">glass</tspan> (µm)</text>
<text x="1009.7" y="1543.7" font-size="45.5" text-anchor="middle">Distance surface-<tspan fill="#0b8080">glass</tspan> (µm)</text>
<g fill="#000"><path d="M763 0L583 0L583 1098Q518 1039 412 979Q306 920 222 890L222 1057Q373 1125 486 1221Q599 1318 646 1409L763 1409Z" transform="translate(506.7,369.7) scale(0.00977,-0.00977)"/><text x="517.82" y="369.7" font-size="20">.2</text></g>
<g fill="#000"><text x="506.7" y="412.1" font-size="20">0.8</text></g>
<g fill="#000"><text x="506.7" y="454.6" font-size="20">0.4</text></g>
<g fill="#000"><text x="506.7" y="497.1" font-size="20">0.0</text></g>
<g fill="#000"><text x="506.7" y="528.7" font-size="20">0.05</text></g>
<g fill="#000"><text x="506.7" y="601" font-size="20">0.04</text></g>
<g fill="#000"><text x="506.7" y="673.1" font-size="20">0.03</text></g>
<g fill="#000"><text x="506.7" y="709.2" font-size="20">8</text></g>
<g fill="#000"><text x="506.7" y="750.2" font-size="20">6</text></g>
<g fill="#000"><text x="506.7" y="790.2" font-size="20">4</text></g>
<g fill="#000"><text x="506.7" y="830.1" font-size="20">2</text></g>
<g fill="#000"><text x="506.7" y="870" font-size="20">0</text></g>
<g fill="#000"><text x="506.7" y="918.2" font-size="20">0.05</text></g>
<g fill="#000"><text x="506.7" y="973.8" font-size="20">0.03</text></g>
<g fill="#000"><text x="506.7" y="1029.2" font-size="20">0.0</text><path d="M763 0L583 0L583 1098Q518 1039 412 979Q306 920 222 890L222 1057Q373 1125 486 1221Q599 1318 646 1409L763 1409Z" transform="translate(534.5,1029.2) scale(0.00977,-0.00977)"/></g>
<g fill="#000"><text x="506.7" y="1071" font-size="20">0.</text><path d="M763 0L583 0L583 1098Q518 1039 412 979Q306 920 222 890L222 1057Q373 1125 486 1221Q599 1318 646 1409L763 1409Z" transform="translate(523.38,1071) scale(0.00977,-0.00977)"/><text x="534.5" y="1071" font-size="20">5</text></g>
<g fill="#000"><text x="506.7" y="1125.4" font-size="20">0.</text><path d="M763 0L583 0L583 1098Q518 1039 412 979Q306 920 222 890L222 1057Q373 1125 486 1221Q599 1318 646 1409L763 1409Z" transform="translate(523.38,1125.4) scale(0.00977,-0.00977)"/><text x="534.5" y="1125.4" font-size="20">0</text></g>
<g fill="#000"><text x="506.7" y="1180.1" font-size="20">0.05</text></g>
<g fill="#000"><text x="506.7" y="1234.6" font-size="20">0.00</text></g>
<g fill="#000" transform="translate(605.6,432.76) rotate(-90)"><path d="M763 0L583 0L583 1098Q518 1039 412 979Q306 920 222 890L222 1057Q373 1125 486 1221Q599 1318 646 1409L763 1409Z" transform="translate(-53.96,-18.8) scale(0.01514,-0.01514)"/><text x="-36.72" y="-18.8" font-size="31">0/</text><path d="M763 0L583 0L583 1098Q518 1039 412 979Q306 920 222 890L222 1057Q373 1125 486 1221Q599 1318 646 1409L763 1409Z" transform="translate(-10.87,-18.8) scale(0.01514,-0.01514)"/><path d="M763 0L583 0L583 1098Q518 1039 412 979Q306 920 222 890L222 1057Q373 1125 486 1221Q599 1318 646 1409L763 1409Z" transform="translate(6.37,-18.8) scale(0.01514,-0.01514)"/><text x="23.61" y="0" font-size="45.5">B</text></g>
<g fill="#000" transform="translate(605.6,613.53) rotate(-90)"><text x="-59.02" y="-18.8" font-size="31">30/28</text><text x="18.56" y="0" font-size="45.5">Si</text></g>
<g fill="#000" transform="translate(605.6,794.3) rotate(-90)"><text x="-67.87" y="-18.8" font-size="31">44/40</text><text x="9.71" y="0" font-size="45.5">Ca</text></g>
<g fill="#000" transform="translate(605.6,975.07) rotate(-90)"><text x="-37.98" y="-18.8" font-size="31">2/</text><path d="M763 0L583 0L583 1098Q518 1039 412 979Q306 920 222 890L222 1057Q373 1125 486 1221Q599 1318 646 1409L763 1409Z" transform="translate(-12.12,-18.8) scale(0.01514,-0.01514)"/><text x="5.12" y="0" font-size="45.5">H</text></g>
<g fill="#000" transform="translate(605.6,1155.84) rotate(-90)"><path d="M763 0L583 0L583 1098Q518 1039 412 979Q306 920 222 890L222 1057Q373 1125 486 1221Q599 1318 646 1409L763 1409Z" transform="translate(-56.48,-18.8) scale(0.01514,-0.01514)"/><text x="-39.24" y="-18.8" font-size="31">8/</text><path d="M763 0L583 0L583 1098Q518 1039 412 979Q306 920 222 890L222 1057Q373 1125 486 1221Q599 1318 646 1409L763 1409Z" transform="translate(-13.39,-18.8) scale(0.01514,-0.01514)"/><text x="3.85" y="-18.8" font-size="31">6</text><text x="21.09" y="0" font-size="45.5">O</text></g>
<g fill="#000"><path d="M763 0L583 0L583 1098Q518 1039 412 979Q306 920 222 890L222 1057Q373 1125 486 1221Q599 1318 646 1409L763 1409Z" transform="translate(1257.7,369.7) scale(0.00977,-0.00977)"/><text x="1268.82" y="369.7" font-size="20">.2</text></g>
<g fill="#000"><text x="1257.7" y="412.1" font-size="20">0.8</text></g>
<g fill="#000"><text x="1257.7" y="454.6" font-size="20">0.4</text></g>
<g fill="#000"><text x="1257.7" y="497.1" font-size="20">0.0</text></g>
<g fill="#000"><text x="1257.7" y="528.7" font-size="20">0.05</text></g>
<g fill="#000"><text x="1257.7" y="601" font-size="20">0.04</text></g>
<g fill="#000"><text x="1257.7" y="673.1" font-size="20">0.03</text></g>
<g fill="#000"><text x="1257.7" y="709.2" font-size="20">8</text></g>
<g fill="#000"><text x="1257.7" y="750.2" font-size="20">6</text></g>
<g fill="#000"><text x="1257.7" y="790.2" font-size="20">4</text></g>
<g fill="#000"><text x="1257.7" y="830.1" font-size="20">2</text></g>
<g fill="#000"><text x="1257.7" y="870" font-size="20">0</text></g>
<g fill="#000"><text x="1257.7" y="918.2" font-size="20">0.05</text></g>
<g fill="#000"><text x="1257.7" y="973.8" font-size="20">0.03</text></g>
<g fill="#000"><text x="1257.7" y="1029.2" font-size="20">0.0</text><path d="M763 0L583 0L583 1098Q518 1039 412 979Q306 920 222 890L222 1057Q373 1125 486 1221Q599 1318 646 1409L763 1409Z" transform="translate(1285.5,1029.2) scale(0.00977,-0.00977)"/></g>
<g fill="#000"><text x="1257.7" y="1071" font-size="20">0.</text><path d="M763 0L583 0L583 1098Q518 1039 412 979Q306 920 222 890L222 1057Q373 1125 486 1221Q599 1318 646 1409L763 1409Z" transform="translate(1274.38,1071) scale(0.00977,-0.00977)"/><text x="1285.5" y="1071" font-size="20">5</text></g>
<g fill="#000"><text x="1257.7" y="1125.4" font-size="20">0.</text><path d="M763 0L583 0L583 1098Q518 1039 412 979Q306 920 222 890L222 1057Q373 1125 486 1221Q599 1318 646 1409L763 1409Z" transform="translate(1274.38,1125.4) scale(0.00977,-0.00977)"/><text x="1285.5" y="1125.4" font-size="20">0</text></g>
<g fill="#000"><text x="1257.7" y="1180.1" font-size="20">0.05</text></g>
<g fill="#000"><text x="1257.7" y="1234.6" font-size="20">0.00</text></g>
<g fill="#000" transform="translate(1353.2,432.76) rotate(-90)"><path d="M763 0L583 0L583 1098Q518 1039 412 979Q306 920 222 890L222 1057Q373 1125 486 1221Q599 1318 646 1409L763 1409Z" transform="translate(-53.96,-18.8) scale(0.01514,-0.01514)"/><text x="-36.72" y="-18.8" font-size="31">0/</text><path d="M763 0L583 0L583 1098Q518 1039 412 979Q306 920 222 890L222 1057Q373 1125 486 1221Q599 1318 646 1409L763 1409Z" transform="translate(-10.87,-18.8) scale(0.01514,-0.01514)"/><path d="M763 0L583 0L583 1098Q518 1039 412 979Q306 920 222 890L222 1057Q373 1125 486 1221Q599 1318 646 1409L763 1409Z" transform="translate(6.37,-18.8) scale(0.01514,-0.01514)"/><text x="23.61" y="0" font-size="45.5">B</text></g>
<g fill="#000" transform="translate(1353.2,613.53) rotate(-90)"><text x="-59.02" y="-18.8" font-size="31">30/28</text><text x="18.56" y="0" font-size="45.5">Si</text></g>
<g fill="#000" transform="translate(1353.2,794.3) rotate(-90)"><text x="-67.87" y="-18.8" font-size="31">44/40</text><text x="9.71" y="0" font-size="45.5">Ca</text></g>
<g fill="#000" transform="translate(1353.2,975.07) rotate(-90)"><text x="-37.98" y="-18.8" font-size="31">2/</text><path d="M763 0L583 0L583 1098Q518 1039 412 979Q306 920 222 890L222 1057Q373 1125 486 1221Q599 1318 646 1409L763 1409Z" transform="translate(-12.12,-18.8) scale(0.01514,-0.01514)"/><text x="5.12" y="0" font-size="45.5">H</text></g>
<g fill="#000" transform="translate(1353.2,1155.84) rotate(-90)"><path d="M763 0L583 0L583 1098Q518 1039 412 979Q306 920 222 890L222 1057Q373 1125 486 1221Q599 1318 646 1409L763 1409Z" transform="translate(-56.48,-18.8) scale(0.01514,-0.01514)"/><text x="-39.24" y="-18.8" font-size="31">8/</text><path d="M763 0L583 0L583 1098Q518 1039 412 979Q306 920 222 890L222 1057Q373 1125 486 1221Q599 1318 646 1409L763 1409Z" transform="translate(-13.39,-18.8) scale(0.01514,-0.01514)"/><text x="3.85" y="-18.8" font-size="31">6</text><text x="21.09" y="0" font-size="45.5">O</text></g>
<g transform="translate(73,432.76) rotate(-90)"><text x="0" y="0" text-anchor="middle" font-size="45.5" fill="#0b8080">B<tspan font-size="31" dy="12.4">total</tspan></text></g>
<g transform="translate(73,613.53) rotate(-90)"><text x="0" y="0" text-anchor="middle" font-size="45.5" fill="#0b8080">Si<tspan font-size="31" dy="12.4">total</tspan></text></g>
<g transform="translate(73,794.3) rotate(-90)"><text x="0" y="0" text-anchor="middle" font-size="45.5" fill="#fdbf12">Ca<tspan font-size="31" dy="12.4">total</tspan></text></g>
<g transform="translate(73,975.07) rotate(-90)"><text x="0" y="0" text-anchor="middle" font-size="45.5" fill="#2e5f9b">H<tspan font-size="31" dy="12.4">total</tspan></text></g>
<g transform="translate(73,1155.84) rotate(-90)"><text x="0" y="0" text-anchor="middle" font-size="45.5" fill="#fdbf12">O<tspan font-size="31" dy="12.4">total</tspan></text></g>
<g transform="translate(731.5,432.76) rotate(-90)"><text x="0" y="0" text-anchor="middle" font-size="45.5" fill="#0b8080">B<tspan font-size="31" dy="12.4">total</tspan></text></g>
<g transform="translate(731.5,613.53) rotate(-90)"><text x="0" y="0" text-anchor="middle" font-size="45.5" fill="#0b8080">Si<tspan font-size="31" dy="12.4">total</tspan></text></g>
<g transform="translate(731.5,794.3) rotate(-90)"><text x="0" y="0" text-anchor="middle" font-size="45.5" fill="#fdbf12">Ca<tspan font-size="31" dy="12.4">total</tspan></text></g>
<g transform="translate(731.5,975.07) rotate(-90)"><text x="0" y="0" text-anchor="middle" font-size="45.5" fill="#2e5f9b">H<tspan font-size="31" dy="12.4">total</tspan></text></g>
<g transform="translate(731.5,1155.84) rotate(-90)"><text x="0" y="0" text-anchor="middle" font-size="45.5" fill="#fdbf12">O<tspan font-size="31" dy="12.4">total</tspan></text></g>
<text x="0" y="239" font-size="45.5" fill="#0b8080"><tspan font-size="31" dy="-18.2">23</tspan><tspan dy="18.2">Na</tspan></text>
<text x="6.8" y="300.6" font-size="45.5" fill="#93b5dc"><tspan font-size="31" dy="-18.2">38</tspan><tspan dy="18.2">K</tspan></text>
<text x="15.5" y="1324.1" font-size="45.5" fill="#009393"><tspan font-size="31" dy="-18.2">27</tspan><tspan dy="18.2">Al</tspan></text>
<text x="15" y="1385.7" font-size="45.5" fill="#679b9b"><tspan font-size="31" dy="-18.2">90</tspan><tspan dy="18.2">Zr</tspan></text>
<text x="658.5" y="239" font-size="45.5" fill="#0b8080"><tspan font-size="31" dy="-18.2">23</tspan><tspan dy="18.2">Na</tspan></text>
<text x="665.5" y="300.6" font-size="45.5" fill="#93b5dc"><tspan font-size="31" dy="-18.2">38</tspan><tspan dy="18.2">K</tspan></text>
<g transform="translate(741,1337.8) rotate(-90)"><text x="0" y="0" text-anchor="middle" font-size="45.5" fill="#0b8080"><tspan font-size="31" dy="-18.8">27</tspan><tspan dy="18.8">Al</tspan></text></g>
</svg>
</body></html>
